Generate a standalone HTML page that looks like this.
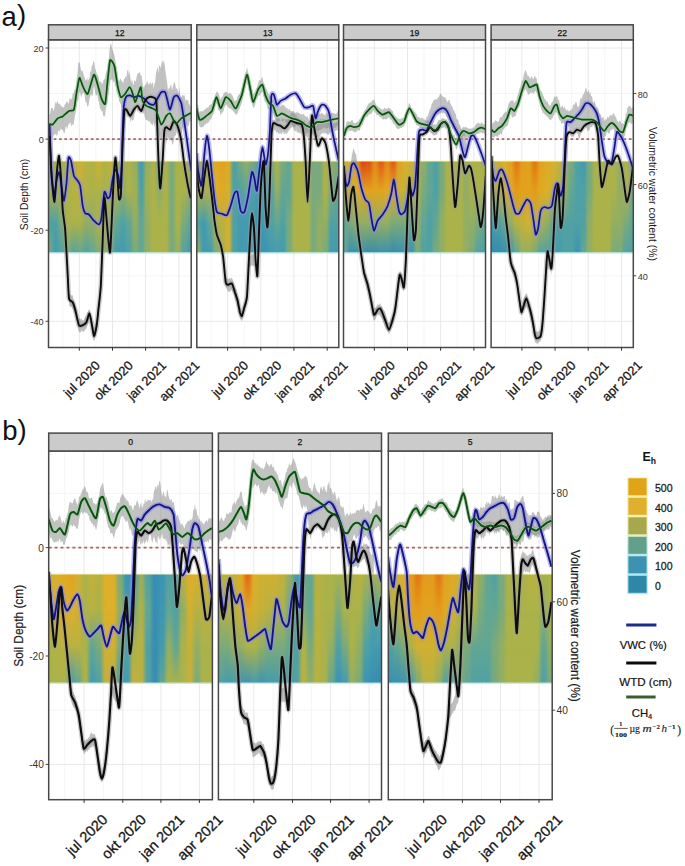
<!DOCTYPE html>
<html lang="en"><head><meta charset="utf-8"><title>Figure</title>
<style>
html,body{margin:0;padding:0;background:#fff;}
body{width:685px;height:866px;overflow:hidden;}
svg{display:block;font-family:"Liberation Sans", sans-serif;}
</style></head><body>
<svg width="685" height="866" viewBox="0 0 685 866">
<defs>
<linearGradient id="mg1" x1="0" y1="0" x2="0" y2="1"><stop offset="0.0000" stop-color="#000"/><stop offset="0.3333" stop-color="#fff"/></linearGradient>
<mask id="mk1" maskContentUnits="objectBoundingBox" x="0" y="0" width="1" height="1"><rect x="0" y="0" width="1" height="1" fill="url(#mg1)"/></mask>
<linearGradient id="mg2" x1="0" y1="0" x2="0" y2="1"><stop offset="0.3333" stop-color="#000"/><stop offset="0.6667" stop-color="#fff"/></linearGradient>
<mask id="mk2" maskContentUnits="objectBoundingBox" x="0" y="0" width="1" height="1"><rect x="0" y="0" width="1" height="1" fill="url(#mg2)"/></mask>
<linearGradient id="mg3" x1="0" y1="0" x2="0" y2="1"><stop offset="0.6667" stop-color="#000"/><stop offset="1.0000" stop-color="#fff"/></linearGradient>
<mask id="mk3" maskContentUnits="objectBoundingBox" x="0" y="0" width="1" height="1"><rect x="0" y="0" width="1" height="1" fill="url(#mg3)"/></mask>
<filter id="bl" x="-5%" y="-5%" width="110%" height="110%"><feGaussianBlur stdDeviation="0.55"/></filter>
<filter id="bl2" x="-5%" y="-5%" width="110%" height="110%"><feGaussianBlur stdDeviation="0.45"/></filter>
<clipPath id="c_a1"><rect x="48.5" y="39.8" width="142.7" height="307.7"/></clipPath>
<clipPath id="h_a1"><rect x="48.5" y="161.3" width="142.7" height="91.3"/></clipPath>
<linearGradient id="g_a1_0" x1="0" y1="0" x2="1" y2="0"><stop offset="0.0133" stop-color="#b8b142"/><stop offset="0.0283" stop-color="#b8b142"/><stop offset="0.0550" stop-color="#abb24a"/><stop offset="0.0700" stop-color="#abb24a"/><stop offset="0.0967" stop-color="#abb24a"/><stop offset="0.1117" stop-color="#abb24a"/><stop offset="0.1383" stop-color="#abb24a"/><stop offset="0.1533" stop-color="#abb24a"/><stop offset="0.1800" stop-color="#b8b142"/><stop offset="0.1950" stop-color="#b8b142"/><stop offset="0.2217" stop-color="#d0b032"/><stop offset="0.2367" stop-color="#d0b032"/><stop offset="0.2633" stop-color="#b8b142"/><stop offset="0.2783" stop-color="#b8b142"/><stop offset="0.3050" stop-color="#b0b247"/><stop offset="0.3200" stop-color="#b0b247"/><stop offset="0.3467" stop-color="#d0b032"/><stop offset="0.3617" stop-color="#d0b032"/><stop offset="0.3883" stop-color="#b0b247"/><stop offset="0.4033" stop-color="#b0b247"/><stop offset="0.4300" stop-color="#c4b03a"/><stop offset="0.4450" stop-color="#c4b03a"/><stop offset="0.4717" stop-color="#abb24a"/><stop offset="0.4867" stop-color="#abb24a"/><stop offset="0.5133" stop-color="#abb24a"/><stop offset="0.5283" stop-color="#abb24a"/><stop offset="0.5550" stop-color="#abb24a"/><stop offset="0.5700" stop-color="#abb24a"/><stop offset="0.5967" stop-color="#93ae63"/><stop offset="0.6117" stop-color="#93ae63"/><stop offset="0.6383" stop-color="#439bb0"/><stop offset="0.6533" stop-color="#439bb0"/><stop offset="0.6800" stop-color="#93ae63"/><stop offset="0.6950" stop-color="#93ae63"/><stop offset="0.7217" stop-color="#abb24a"/><stop offset="0.7367" stop-color="#abb24a"/><stop offset="0.7633" stop-color="#62a694"/><stop offset="0.7783" stop-color="#62a694"/><stop offset="0.8050" stop-color="#abb24a"/><stop offset="0.8200" stop-color="#abb24a"/><stop offset="0.8467" stop-color="#7aaa7b"/><stop offset="0.8617" stop-color="#7aaa7b"/><stop offset="0.8883" stop-color="#abb24a"/><stop offset="0.9033" stop-color="#abb24a"/><stop offset="0.9300" stop-color="#abb24a"/><stop offset="0.9450" stop-color="#abb24a"/><stop offset="0.9717" stop-color="#abb24a"/><stop offset="0.9867" stop-color="#abb24a"/></linearGradient>
<linearGradient id="g_a1_1" x1="0" y1="0" x2="1" y2="0"><stop offset="0.0133" stop-color="#abb24a"/><stop offset="0.0283" stop-color="#abb24a"/><stop offset="0.0550" stop-color="#abb24a"/><stop offset="0.0700" stop-color="#abb24a"/><stop offset="0.0967" stop-color="#abb24a"/><stop offset="0.1117" stop-color="#abb24a"/><stop offset="0.1383" stop-color="#abb24a"/><stop offset="0.1533" stop-color="#abb24a"/><stop offset="0.1800" stop-color="#b8b142"/><stop offset="0.1950" stop-color="#b8b142"/><stop offset="0.2217" stop-color="#bfb13d"/><stop offset="0.2367" stop-color="#bfb13d"/><stop offset="0.2633" stop-color="#b0b247"/><stop offset="0.2783" stop-color="#b0b247"/><stop offset="0.3050" stop-color="#abb24a"/><stop offset="0.3200" stop-color="#abb24a"/><stop offset="0.3467" stop-color="#abb24a"/><stop offset="0.3617" stop-color="#abb24a"/><stop offset="0.3883" stop-color="#abb24a"/><stop offset="0.4033" stop-color="#abb24a"/><stop offset="0.4300" stop-color="#abb24a"/><stop offset="0.4450" stop-color="#abb24a"/><stop offset="0.4717" stop-color="#abb24a"/><stop offset="0.4867" stop-color="#abb24a"/><stop offset="0.5133" stop-color="#93ae63"/><stop offset="0.5283" stop-color="#93ae63"/><stop offset="0.5550" stop-color="#abb24a"/><stop offset="0.5700" stop-color="#abb24a"/><stop offset="0.5967" stop-color="#a1b054"/><stop offset="0.6117" stop-color="#a1b054"/><stop offset="0.6383" stop-color="#50a1a4"/><stop offset="0.6533" stop-color="#50a1a4"/><stop offset="0.6800" stop-color="#a1b054"/><stop offset="0.6950" stop-color="#a1b054"/><stop offset="0.7217" stop-color="#abb24a"/><stop offset="0.7367" stop-color="#abb24a"/><stop offset="0.7633" stop-color="#93ae63"/><stop offset="0.7783" stop-color="#93ae63"/><stop offset="0.8050" stop-color="#abb24a"/><stop offset="0.8200" stop-color="#abb24a"/><stop offset="0.8467" stop-color="#7aaa7b"/><stop offset="0.8617" stop-color="#7aaa7b"/><stop offset="0.8883" stop-color="#abb24a"/><stop offset="0.9033" stop-color="#abb24a"/><stop offset="0.9300" stop-color="#abb24a"/><stop offset="0.9450" stop-color="#abb24a"/><stop offset="0.9717" stop-color="#93ae63"/><stop offset="0.9867" stop-color="#93ae63"/></linearGradient>
<linearGradient id="g_a1_2" x1="0" y1="0" x2="1" y2="0"><stop offset="0.0133" stop-color="#50a1a4"/><stop offset="0.0283" stop-color="#50a1a4"/><stop offset="0.0550" stop-color="#50a1a4"/><stop offset="0.0700" stop-color="#50a1a4"/><stop offset="0.0967" stop-color="#7aaa7b"/><stop offset="0.1117" stop-color="#7aaa7b"/><stop offset="0.1383" stop-color="#abb24a"/><stop offset="0.1533" stop-color="#abb24a"/><stop offset="0.1800" stop-color="#abb24a"/><stop offset="0.1950" stop-color="#abb24a"/><stop offset="0.2217" stop-color="#abb24a"/><stop offset="0.2367" stop-color="#abb24a"/><stop offset="0.2633" stop-color="#93ae63"/><stop offset="0.2783" stop-color="#93ae63"/><stop offset="0.3050" stop-color="#93ae63"/><stop offset="0.3200" stop-color="#93ae63"/><stop offset="0.3467" stop-color="#abb24a"/><stop offset="0.3617" stop-color="#abb24a"/><stop offset="0.3883" stop-color="#abb24a"/><stop offset="0.4033" stop-color="#abb24a"/><stop offset="0.4300" stop-color="#93ae63"/><stop offset="0.4450" stop-color="#93ae63"/><stop offset="0.4717" stop-color="#62a694"/><stop offset="0.4867" stop-color="#62a694"/><stop offset="0.5133" stop-color="#50a1a4"/><stop offset="0.5283" stop-color="#50a1a4"/><stop offset="0.5550" stop-color="#62a694"/><stop offset="0.5700" stop-color="#62a694"/><stop offset="0.5967" stop-color="#93ae63"/><stop offset="0.6117" stop-color="#93ae63"/><stop offset="0.6383" stop-color="#62a694"/><stop offset="0.6533" stop-color="#62a694"/><stop offset="0.6800" stop-color="#93ae63"/><stop offset="0.6950" stop-color="#93ae63"/><stop offset="0.7217" stop-color="#abb24a"/><stop offset="0.7367" stop-color="#abb24a"/><stop offset="0.7633" stop-color="#abb24a"/><stop offset="0.7783" stop-color="#abb24a"/><stop offset="0.8050" stop-color="#abb24a"/><stop offset="0.8200" stop-color="#abb24a"/><stop offset="0.8467" stop-color="#7aaa7b"/><stop offset="0.8617" stop-color="#7aaa7b"/><stop offset="0.8883" stop-color="#abb24a"/><stop offset="0.9033" stop-color="#abb24a"/><stop offset="0.9300" stop-color="#7aaa7b"/><stop offset="0.9450" stop-color="#7aaa7b"/><stop offset="0.9717" stop-color="#62a694"/><stop offset="0.9867" stop-color="#62a694"/></linearGradient>
<linearGradient id="g_a1_3" x1="0" y1="0" x2="1" y2="0"><stop offset="0.0133" stop-color="#7aaa7b"/><stop offset="0.0283" stop-color="#7aaa7b"/><stop offset="0.0550" stop-color="#439bb0"/><stop offset="0.0700" stop-color="#439bb0"/><stop offset="0.0967" stop-color="#50a1a4"/><stop offset="0.1117" stop-color="#50a1a4"/><stop offset="0.1383" stop-color="#7aaa7b"/><stop offset="0.1533" stop-color="#7aaa7b"/><stop offset="0.1800" stop-color="#50a1a4"/><stop offset="0.1950" stop-color="#50a1a4"/><stop offset="0.2217" stop-color="#62a694"/><stop offset="0.2367" stop-color="#62a694"/><stop offset="0.2633" stop-color="#50a1a4"/><stop offset="0.2783" stop-color="#50a1a4"/><stop offset="0.3050" stop-color="#62a694"/><stop offset="0.3200" stop-color="#62a694"/><stop offset="0.3467" stop-color="#7aaa7b"/><stop offset="0.3617" stop-color="#7aaa7b"/><stop offset="0.3883" stop-color="#93ae63"/><stop offset="0.4033" stop-color="#93ae63"/><stop offset="0.4300" stop-color="#62a694"/><stop offset="0.4450" stop-color="#62a694"/><stop offset="0.4717" stop-color="#439bb0"/><stop offset="0.4867" stop-color="#439bb0"/><stop offset="0.5133" stop-color="#439bb0"/><stop offset="0.5283" stop-color="#439bb0"/><stop offset="0.5550" stop-color="#50a1a4"/><stop offset="0.5700" stop-color="#50a1a4"/><stop offset="0.5967" stop-color="#7aaa7b"/><stop offset="0.6117" stop-color="#7aaa7b"/><stop offset="0.6383" stop-color="#62a694"/><stop offset="0.6533" stop-color="#62a694"/><stop offset="0.6800" stop-color="#93ae63"/><stop offset="0.6950" stop-color="#93ae63"/><stop offset="0.7217" stop-color="#abb24a"/><stop offset="0.7367" stop-color="#abb24a"/><stop offset="0.7633" stop-color="#abb24a"/><stop offset="0.7783" stop-color="#abb24a"/><stop offset="0.8050" stop-color="#abb24a"/><stop offset="0.8200" stop-color="#abb24a"/><stop offset="0.8467" stop-color="#7aaa7b"/><stop offset="0.8617" stop-color="#7aaa7b"/><stop offset="0.8883" stop-color="#93ae63"/><stop offset="0.9033" stop-color="#93ae63"/><stop offset="0.9300" stop-color="#50a1a4"/><stop offset="0.9450" stop-color="#50a1a4"/><stop offset="0.9717" stop-color="#439bb0"/><stop offset="0.9867" stop-color="#439bb0"/></linearGradient>
<clipPath id="c_a2"><rect x="196.8" y="39.8" width="142.0" height="307.7"/></clipPath>
<clipPath id="h_a2"><rect x="196.8" y="161.3" width="142.0" height="91.3"/></clipPath>
<linearGradient id="g_a2_0" x1="0" y1="0" x2="1" y2="0"><stop offset="0.0133" stop-color="#abb24a"/><stop offset="0.0283" stop-color="#abb24a"/><stop offset="0.0550" stop-color="#abb24a"/><stop offset="0.0700" stop-color="#abb24a"/><stop offset="0.0967" stop-color="#b8b142"/><stop offset="0.1117" stop-color="#b8b142"/><stop offset="0.1383" stop-color="#dfa924"/><stop offset="0.1533" stop-color="#dfa924"/><stop offset="0.1800" stop-color="#e1a21f"/><stop offset="0.1950" stop-color="#e1a21f"/><stop offset="0.2217" stop-color="#dfa924"/><stop offset="0.2367" stop-color="#dfa924"/><stop offset="0.2633" stop-color="#50a1a4"/><stop offset="0.2783" stop-color="#50a1a4"/><stop offset="0.3050" stop-color="#7aaa7b"/><stop offset="0.3200" stop-color="#7aaa7b"/><stop offset="0.3467" stop-color="#93ae63"/><stop offset="0.3617" stop-color="#93ae63"/><stop offset="0.3883" stop-color="#7aaa7b"/><stop offset="0.4033" stop-color="#7aaa7b"/><stop offset="0.4300" stop-color="#50a1a4"/><stop offset="0.4450" stop-color="#50a1a4"/><stop offset="0.4717" stop-color="#50a1a4"/><stop offset="0.4867" stop-color="#50a1a4"/><stop offset="0.5133" stop-color="#7aaa7b"/><stop offset="0.5283" stop-color="#7aaa7b"/><stop offset="0.5550" stop-color="#abb24a"/><stop offset="0.5700" stop-color="#abb24a"/><stop offset="0.5967" stop-color="#7aaa7b"/><stop offset="0.6117" stop-color="#7aaa7b"/><stop offset="0.6383" stop-color="#62a694"/><stop offset="0.6533" stop-color="#62a694"/><stop offset="0.6800" stop-color="#abb24a"/><stop offset="0.6950" stop-color="#abb24a"/><stop offset="0.7217" stop-color="#abb24a"/><stop offset="0.7367" stop-color="#abb24a"/><stop offset="0.7633" stop-color="#abb24a"/><stop offset="0.7783" stop-color="#abb24a"/><stop offset="0.8050" stop-color="#7aaa7b"/><stop offset="0.8200" stop-color="#7aaa7b"/><stop offset="0.8467" stop-color="#7aaa7b"/><stop offset="0.8617" stop-color="#7aaa7b"/><stop offset="0.8883" stop-color="#abb24a"/><stop offset="0.9033" stop-color="#abb24a"/><stop offset="0.9300" stop-color="#93ae63"/><stop offset="0.9450" stop-color="#93ae63"/><stop offset="0.9717" stop-color="#7aaa7b"/><stop offset="0.9867" stop-color="#7aaa7b"/></linearGradient>
<linearGradient id="g_a2_1" x1="0" y1="0" x2="1" y2="0"><stop offset="0.0133" stop-color="#abb24a"/><stop offset="0.0283" stop-color="#abb24a"/><stop offset="0.0550" stop-color="#abb24a"/><stop offset="0.0700" stop-color="#abb24a"/><stop offset="0.0967" stop-color="#abb24a"/><stop offset="0.1117" stop-color="#abb24a"/><stop offset="0.1383" stop-color="#ddaf2a"/><stop offset="0.1533" stop-color="#ddaf2a"/><stop offset="0.1800" stop-color="#dfa924"/><stop offset="0.1950" stop-color="#dfa924"/><stop offset="0.2217" stop-color="#d0b032"/><stop offset="0.2367" stop-color="#d0b032"/><stop offset="0.2633" stop-color="#50a1a4"/><stop offset="0.2783" stop-color="#50a1a4"/><stop offset="0.3050" stop-color="#50a1a4"/><stop offset="0.3200" stop-color="#50a1a4"/><stop offset="0.3467" stop-color="#62a694"/><stop offset="0.3617" stop-color="#62a694"/><stop offset="0.3883" stop-color="#50a1a4"/><stop offset="0.4033" stop-color="#50a1a4"/><stop offset="0.4300" stop-color="#439bb0"/><stop offset="0.4450" stop-color="#439bb0"/><stop offset="0.4717" stop-color="#439bb0"/><stop offset="0.4867" stop-color="#439bb0"/><stop offset="0.5133" stop-color="#50a1a4"/><stop offset="0.5283" stop-color="#50a1a4"/><stop offset="0.5550" stop-color="#93ae63"/><stop offset="0.5700" stop-color="#93ae63"/><stop offset="0.5967" stop-color="#62a694"/><stop offset="0.6117" stop-color="#62a694"/><stop offset="0.6383" stop-color="#62a694"/><stop offset="0.6533" stop-color="#62a694"/><stop offset="0.6800" stop-color="#abb24a"/><stop offset="0.6950" stop-color="#abb24a"/><stop offset="0.7217" stop-color="#abb24a"/><stop offset="0.7367" stop-color="#abb24a"/><stop offset="0.7633" stop-color="#abb24a"/><stop offset="0.7783" stop-color="#abb24a"/><stop offset="0.8050" stop-color="#7aaa7b"/><stop offset="0.8200" stop-color="#7aaa7b"/><stop offset="0.8467" stop-color="#7aaa7b"/><stop offset="0.8617" stop-color="#7aaa7b"/><stop offset="0.8883" stop-color="#abb24a"/><stop offset="0.9033" stop-color="#abb24a"/><stop offset="0.9300" stop-color="#7aaa7b"/><stop offset="0.9450" stop-color="#7aaa7b"/><stop offset="0.9717" stop-color="#62a694"/><stop offset="0.9867" stop-color="#62a694"/></linearGradient>
<linearGradient id="g_a2_2" x1="0" y1="0" x2="1" y2="0"><stop offset="0.0133" stop-color="#50a1a4"/><stop offset="0.0283" stop-color="#50a1a4"/><stop offset="0.0550" stop-color="#439bb0"/><stop offset="0.0700" stop-color="#439bb0"/><stop offset="0.0967" stop-color="#62a694"/><stop offset="0.1117" stop-color="#62a694"/><stop offset="0.1383" stop-color="#abb24a"/><stop offset="0.1533" stop-color="#abb24a"/><stop offset="0.1800" stop-color="#b8b142"/><stop offset="0.1950" stop-color="#b8b142"/><stop offset="0.2217" stop-color="#d0b032"/><stop offset="0.2367" stop-color="#d0b032"/><stop offset="0.2633" stop-color="#50a1a4"/><stop offset="0.2783" stop-color="#50a1a4"/><stop offset="0.3050" stop-color="#439bb0"/><stop offset="0.3200" stop-color="#439bb0"/><stop offset="0.3467" stop-color="#439bb0"/><stop offset="0.3617" stop-color="#439bb0"/><stop offset="0.3883" stop-color="#439bb0"/><stop offset="0.4033" stop-color="#439bb0"/><stop offset="0.4300" stop-color="#3b93b3"/><stop offset="0.4450" stop-color="#3b93b3"/><stop offset="0.4717" stop-color="#439bb0"/><stop offset="0.4867" stop-color="#439bb0"/><stop offset="0.5133" stop-color="#50a1a4"/><stop offset="0.5283" stop-color="#50a1a4"/><stop offset="0.5550" stop-color="#62a694"/><stop offset="0.5700" stop-color="#62a694"/><stop offset="0.5967" stop-color="#50a1a4"/><stop offset="0.6117" stop-color="#50a1a4"/><stop offset="0.6383" stop-color="#7aaa7b"/><stop offset="0.6533" stop-color="#7aaa7b"/><stop offset="0.6800" stop-color="#abb24a"/><stop offset="0.6950" stop-color="#abb24a"/><stop offset="0.7217" stop-color="#abb24a"/><stop offset="0.7367" stop-color="#abb24a"/><stop offset="0.7633" stop-color="#abb24a"/><stop offset="0.7783" stop-color="#abb24a"/><stop offset="0.8050" stop-color="#7aaa7b"/><stop offset="0.8200" stop-color="#7aaa7b"/><stop offset="0.8467" stop-color="#93ae63"/><stop offset="0.8617" stop-color="#93ae63"/><stop offset="0.8883" stop-color="#93ae63"/><stop offset="0.9033" stop-color="#93ae63"/><stop offset="0.9300" stop-color="#50a1a4"/><stop offset="0.9450" stop-color="#50a1a4"/><stop offset="0.9717" stop-color="#50a1a4"/><stop offset="0.9867" stop-color="#50a1a4"/></linearGradient>
<linearGradient id="g_a2_3" x1="0" y1="0" x2="1" y2="0"><stop offset="0.0133" stop-color="#93ae63"/><stop offset="0.0283" stop-color="#93ae63"/><stop offset="0.0550" stop-color="#439bb0"/><stop offset="0.0700" stop-color="#439bb0"/><stop offset="0.0967" stop-color="#439bb0"/><stop offset="0.1117" stop-color="#439bb0"/><stop offset="0.1383" stop-color="#7aaa7b"/><stop offset="0.1533" stop-color="#7aaa7b"/><stop offset="0.1800" stop-color="#abb24a"/><stop offset="0.1950" stop-color="#abb24a"/><stop offset="0.2217" stop-color="#d0b032"/><stop offset="0.2367" stop-color="#d0b032"/><stop offset="0.2633" stop-color="#50a1a4"/><stop offset="0.2783" stop-color="#50a1a4"/><stop offset="0.3050" stop-color="#439bb0"/><stop offset="0.3200" stop-color="#439bb0"/><stop offset="0.3467" stop-color="#439bb0"/><stop offset="0.3617" stop-color="#439bb0"/><stop offset="0.3883" stop-color="#439bb0"/><stop offset="0.4033" stop-color="#439bb0"/><stop offset="0.4300" stop-color="#3b93b3"/><stop offset="0.4450" stop-color="#3b93b3"/><stop offset="0.4717" stop-color="#3b93b3"/><stop offset="0.4867" stop-color="#3b93b3"/><stop offset="0.5133" stop-color="#439bb0"/><stop offset="0.5283" stop-color="#439bb0"/><stop offset="0.5550" stop-color="#439bb0"/><stop offset="0.5700" stop-color="#439bb0"/><stop offset="0.5967" stop-color="#439bb0"/><stop offset="0.6117" stop-color="#439bb0"/><stop offset="0.6383" stop-color="#7aaa7b"/><stop offset="0.6533" stop-color="#7aaa7b"/><stop offset="0.6800" stop-color="#abb24a"/><stop offset="0.6950" stop-color="#abb24a"/><stop offset="0.7217" stop-color="#abb24a"/><stop offset="0.7367" stop-color="#abb24a"/><stop offset="0.7633" stop-color="#abb24a"/><stop offset="0.7783" stop-color="#abb24a"/><stop offset="0.8050" stop-color="#7aaa7b"/><stop offset="0.8200" stop-color="#7aaa7b"/><stop offset="0.8467" stop-color="#93ae63"/><stop offset="0.8617" stop-color="#93ae63"/><stop offset="0.8883" stop-color="#7aaa7b"/><stop offset="0.9033" stop-color="#7aaa7b"/><stop offset="0.9300" stop-color="#439bb0"/><stop offset="0.9450" stop-color="#439bb0"/><stop offset="0.9717" stop-color="#439bb0"/><stop offset="0.9867" stop-color="#439bb0"/></linearGradient>
<clipPath id="c_a3"><rect x="343.5" y="39.8" width="142.0" height="307.7"/></clipPath>
<clipPath id="h_a3"><rect x="343.5" y="161.3" width="142.0" height="91.3"/></clipPath>
<linearGradient id="g_a3_0" x1="0" y1="0" x2="1" y2="0"><stop offset="0.0133" stop-color="#c4b03a"/><stop offset="0.0283" stop-color="#c4b03a"/><stop offset="0.0550" stop-color="#ddaf2a"/><stop offset="0.0700" stop-color="#ddaf2a"/><stop offset="0.0967" stop-color="#e59614"/><stop offset="0.1117" stop-color="#e59614"/><stop offset="0.1383" stop-color="#dd3e14"/><stop offset="0.1533" stop-color="#dd3e14"/><stop offset="0.1800" stop-color="#e04916"/><stop offset="0.1950" stop-color="#e04916"/><stop offset="0.2217" stop-color="#e58615"/><stop offset="0.2367" stop-color="#e58615"/><stop offset="0.2633" stop-color="#e45418"/><stop offset="0.2783" stop-color="#e45418"/><stop offset="0.3050" stop-color="#e58615"/><stop offset="0.3200" stop-color="#e58615"/><stop offset="0.3467" stop-color="#e45418"/><stop offset="0.3617" stop-color="#e45418"/><stop offset="0.3883" stop-color="#e1a21f"/><stop offset="0.4033" stop-color="#e1a21f"/><stop offset="0.4300" stop-color="#ddaf2a"/><stop offset="0.4450" stop-color="#ddaf2a"/><stop offset="0.4717" stop-color="#d0b032"/><stop offset="0.4867" stop-color="#d0b032"/><stop offset="0.5133" stop-color="#abb24a"/><stop offset="0.5283" stop-color="#abb24a"/><stop offset="0.5550" stop-color="#93ae63"/><stop offset="0.5700" stop-color="#93ae63"/><stop offset="0.5967" stop-color="#62a694"/><stop offset="0.6117" stop-color="#62a694"/><stop offset="0.6383" stop-color="#50a1a4"/><stop offset="0.6533" stop-color="#50a1a4"/><stop offset="0.6800" stop-color="#7aaa7b"/><stop offset="0.6950" stop-color="#7aaa7b"/><stop offset="0.7217" stop-color="#abb24a"/><stop offset="0.7367" stop-color="#abb24a"/><stop offset="0.7633" stop-color="#abb24a"/><stop offset="0.7783" stop-color="#abb24a"/><stop offset="0.8050" stop-color="#abb24a"/><stop offset="0.8200" stop-color="#abb24a"/><stop offset="0.8467" stop-color="#93ae63"/><stop offset="0.8617" stop-color="#93ae63"/><stop offset="0.8883" stop-color="#abb24a"/><stop offset="0.9033" stop-color="#abb24a"/><stop offset="0.9300" stop-color="#abb24a"/><stop offset="0.9450" stop-color="#abb24a"/><stop offset="0.9717" stop-color="#abb24a"/><stop offset="0.9867" stop-color="#abb24a"/></linearGradient>
<linearGradient id="g_a3_1" x1="0" y1="0" x2="1" y2="0"><stop offset="0.0133" stop-color="#b8b142"/><stop offset="0.0283" stop-color="#b8b142"/><stop offset="0.0550" stop-color="#c4b03a"/><stop offset="0.0700" stop-color="#c4b03a"/><stop offset="0.0967" stop-color="#ddaf2a"/><stop offset="0.1117" stop-color="#ddaf2a"/><stop offset="0.1383" stop-color="#e0a521"/><stop offset="0.1533" stop-color="#e0a521"/><stop offset="0.1800" stop-color="#e1a21f"/><stop offset="0.1950" stop-color="#e1a21f"/><stop offset="0.2217" stop-color="#e0a521"/><stop offset="0.2367" stop-color="#e0a521"/><stop offset="0.2633" stop-color="#e0a521"/><stop offset="0.2783" stop-color="#e0a521"/><stop offset="0.3050" stop-color="#dfa924"/><stop offset="0.3200" stop-color="#dfa924"/><stop offset="0.3467" stop-color="#dfa924"/><stop offset="0.3617" stop-color="#dfa924"/><stop offset="0.3883" stop-color="#d0b032"/><stop offset="0.4033" stop-color="#d0b032"/><stop offset="0.4300" stop-color="#bfb13d"/><stop offset="0.4450" stop-color="#bfb13d"/><stop offset="0.4717" stop-color="#b2b245"/><stop offset="0.4867" stop-color="#b2b245"/><stop offset="0.5133" stop-color="#abb24a"/><stop offset="0.5283" stop-color="#abb24a"/><stop offset="0.5550" stop-color="#7aaa7b"/><stop offset="0.5700" stop-color="#7aaa7b"/><stop offset="0.5967" stop-color="#62a694"/><stop offset="0.6117" stop-color="#62a694"/><stop offset="0.6383" stop-color="#50a1a4"/><stop offset="0.6533" stop-color="#50a1a4"/><stop offset="0.6800" stop-color="#7aaa7b"/><stop offset="0.6950" stop-color="#7aaa7b"/><stop offset="0.7217" stop-color="#abb24a"/><stop offset="0.7367" stop-color="#abb24a"/><stop offset="0.7633" stop-color="#abb24a"/><stop offset="0.7783" stop-color="#abb24a"/><stop offset="0.8050" stop-color="#abb24a"/><stop offset="0.8200" stop-color="#abb24a"/><stop offset="0.8467" stop-color="#93ae63"/><stop offset="0.8617" stop-color="#93ae63"/><stop offset="0.8883" stop-color="#abb24a"/><stop offset="0.9033" stop-color="#abb24a"/><stop offset="0.9300" stop-color="#abb24a"/><stop offset="0.9450" stop-color="#abb24a"/><stop offset="0.9717" stop-color="#abb24a"/><stop offset="0.9867" stop-color="#abb24a"/></linearGradient>
<linearGradient id="g_a3_2" x1="0" y1="0" x2="1" y2="0"><stop offset="0.0133" stop-color="#62a694"/><stop offset="0.0283" stop-color="#62a694"/><stop offset="0.0550" stop-color="#7aaa7b"/><stop offset="0.0700" stop-color="#7aaa7b"/><stop offset="0.0967" stop-color="#93ae63"/><stop offset="0.1117" stop-color="#93ae63"/><stop offset="0.1383" stop-color="#93ae63"/><stop offset="0.1533" stop-color="#93ae63"/><stop offset="0.1800" stop-color="#93ae63"/><stop offset="0.1950" stop-color="#93ae63"/><stop offset="0.2217" stop-color="#93ae63"/><stop offset="0.2367" stop-color="#93ae63"/><stop offset="0.2633" stop-color="#93ae63"/><stop offset="0.2783" stop-color="#93ae63"/><stop offset="0.3050" stop-color="#93ae63"/><stop offset="0.3200" stop-color="#93ae63"/><stop offset="0.3467" stop-color="#7aaa7b"/><stop offset="0.3617" stop-color="#7aaa7b"/><stop offset="0.3883" stop-color="#7aaa7b"/><stop offset="0.4033" stop-color="#7aaa7b"/><stop offset="0.4300" stop-color="#7aaa7b"/><stop offset="0.4450" stop-color="#7aaa7b"/><stop offset="0.4717" stop-color="#62a694"/><stop offset="0.4867" stop-color="#62a694"/><stop offset="0.5133" stop-color="#93ae63"/><stop offset="0.5283" stop-color="#93ae63"/><stop offset="0.5550" stop-color="#62a694"/><stop offset="0.5700" stop-color="#62a694"/><stop offset="0.5967" stop-color="#50a1a4"/><stop offset="0.6117" stop-color="#50a1a4"/><stop offset="0.6383" stop-color="#62a694"/><stop offset="0.6533" stop-color="#62a694"/><stop offset="0.6800" stop-color="#93ae63"/><stop offset="0.6950" stop-color="#93ae63"/><stop offset="0.7217" stop-color="#abb24a"/><stop offset="0.7367" stop-color="#abb24a"/><stop offset="0.7633" stop-color="#abb24a"/><stop offset="0.7783" stop-color="#abb24a"/><stop offset="0.8050" stop-color="#abb24a"/><stop offset="0.8200" stop-color="#abb24a"/><stop offset="0.8467" stop-color="#93ae63"/><stop offset="0.8617" stop-color="#93ae63"/><stop offset="0.8883" stop-color="#93ae63"/><stop offset="0.9033" stop-color="#93ae63"/><stop offset="0.9300" stop-color="#7aaa7b"/><stop offset="0.9450" stop-color="#7aaa7b"/><stop offset="0.9717" stop-color="#62a694"/><stop offset="0.9867" stop-color="#62a694"/></linearGradient>
<linearGradient id="g_a3_3" x1="0" y1="0" x2="1" y2="0"><stop offset="0.0133" stop-color="#62a694"/><stop offset="0.0283" stop-color="#62a694"/><stop offset="0.0550" stop-color="#378fb1"/><stop offset="0.0700" stop-color="#378fb1"/><stop offset="0.0967" stop-color="#378fb1"/><stop offset="0.1117" stop-color="#378fb1"/><stop offset="0.1383" stop-color="#378fb1"/><stop offset="0.1533" stop-color="#378fb1"/><stop offset="0.1800" stop-color="#338bad"/><stop offset="0.1950" stop-color="#338bad"/><stop offset="0.2217" stop-color="#338bad"/><stop offset="0.2367" stop-color="#338bad"/><stop offset="0.2633" stop-color="#378fb1"/><stop offset="0.2783" stop-color="#378fb1"/><stop offset="0.3050" stop-color="#378fb1"/><stop offset="0.3200" stop-color="#378fb1"/><stop offset="0.3467" stop-color="#338bad"/><stop offset="0.3617" stop-color="#338bad"/><stop offset="0.3883" stop-color="#378fb1"/><stop offset="0.4033" stop-color="#378fb1"/><stop offset="0.4300" stop-color="#378fb1"/><stop offset="0.4450" stop-color="#378fb1"/><stop offset="0.4717" stop-color="#3b93b3"/><stop offset="0.4867" stop-color="#3b93b3"/><stop offset="0.5133" stop-color="#7aaa7b"/><stop offset="0.5283" stop-color="#7aaa7b"/><stop offset="0.5550" stop-color="#50a1a4"/><stop offset="0.5700" stop-color="#50a1a4"/><stop offset="0.5967" stop-color="#50a1a4"/><stop offset="0.6117" stop-color="#50a1a4"/><stop offset="0.6383" stop-color="#7aaa7b"/><stop offset="0.6533" stop-color="#7aaa7b"/><stop offset="0.6800" stop-color="#93ae63"/><stop offset="0.6950" stop-color="#93ae63"/><stop offset="0.7217" stop-color="#abb24a"/><stop offset="0.7367" stop-color="#abb24a"/><stop offset="0.7633" stop-color="#abb24a"/><stop offset="0.7783" stop-color="#abb24a"/><stop offset="0.8050" stop-color="#abb24a"/><stop offset="0.8200" stop-color="#abb24a"/><stop offset="0.8467" stop-color="#93ae63"/><stop offset="0.8617" stop-color="#93ae63"/><stop offset="0.8883" stop-color="#7aaa7b"/><stop offset="0.9033" stop-color="#7aaa7b"/><stop offset="0.9300" stop-color="#50a1a4"/><stop offset="0.9450" stop-color="#50a1a4"/><stop offset="0.9717" stop-color="#50a1a4"/><stop offset="0.9867" stop-color="#50a1a4"/></linearGradient>
<clipPath id="c_a4"><rect x="491.1" y="39.8" width="142.2" height="307.7"/></clipPath>
<clipPath id="h_a4"><rect x="491.1" y="161.3" width="142.2" height="91.3"/></clipPath>
<linearGradient id="g_a4_0" x1="0" y1="0" x2="1" y2="0"><stop offset="0.0133" stop-color="#b8b142"/><stop offset="0.0283" stop-color="#b8b142"/><stop offset="0.0550" stop-color="#c4b03a"/><stop offset="0.0700" stop-color="#c4b03a"/><stop offset="0.0967" stop-color="#ddaf2a"/><stop offset="0.1117" stop-color="#ddaf2a"/><stop offset="0.1383" stop-color="#e1a21f"/><stop offset="0.1533" stop-color="#e1a21f"/><stop offset="0.1800" stop-color="#e47516"/><stop offset="0.1950" stop-color="#e47516"/><stop offset="0.2217" stop-color="#e39c1a"/><stop offset="0.2367" stop-color="#e39c1a"/><stop offset="0.2633" stop-color="#e1a21f"/><stop offset="0.2783" stop-color="#e1a21f"/><stop offset="0.3050" stop-color="#e47516"/><stop offset="0.3200" stop-color="#e47516"/><stop offset="0.3467" stop-color="#e1a21f"/><stop offset="0.3617" stop-color="#e1a21f"/><stop offset="0.3883" stop-color="#dfa924"/><stop offset="0.4033" stop-color="#dfa924"/><stop offset="0.4300" stop-color="#ddaf2a"/><stop offset="0.4450" stop-color="#ddaf2a"/><stop offset="0.4717" stop-color="#c4b03a"/><stop offset="0.4867" stop-color="#c4b03a"/><stop offset="0.5133" stop-color="#abb24a"/><stop offset="0.5283" stop-color="#abb24a"/><stop offset="0.5550" stop-color="#7aaa7b"/><stop offset="0.5700" stop-color="#7aaa7b"/><stop offset="0.5967" stop-color="#50a1a4"/><stop offset="0.6117" stop-color="#50a1a4"/><stop offset="0.6383" stop-color="#439bb0"/><stop offset="0.6533" stop-color="#439bb0"/><stop offset="0.6800" stop-color="#7aaa7b"/><stop offset="0.6950" stop-color="#7aaa7b"/><stop offset="0.7217" stop-color="#abb24a"/><stop offset="0.7367" stop-color="#abb24a"/><stop offset="0.7633" stop-color="#abb24a"/><stop offset="0.7783" stop-color="#abb24a"/><stop offset="0.8050" stop-color="#abb24a"/><stop offset="0.8200" stop-color="#abb24a"/><stop offset="0.8467" stop-color="#abb24a"/><stop offset="0.8617" stop-color="#abb24a"/><stop offset="0.8883" stop-color="#93ae63"/><stop offset="0.9033" stop-color="#93ae63"/><stop offset="0.9300" stop-color="#abb24a"/><stop offset="0.9450" stop-color="#abb24a"/><stop offset="0.9717" stop-color="#93ae63"/><stop offset="0.9867" stop-color="#93ae63"/></linearGradient>
<linearGradient id="g_a4_1" x1="0" y1="0" x2="1" y2="0"><stop offset="0.0133" stop-color="#abb24a"/><stop offset="0.0283" stop-color="#abb24a"/><stop offset="0.0550" stop-color="#b8b142"/><stop offset="0.0700" stop-color="#b8b142"/><stop offset="0.0967" stop-color="#d0b032"/><stop offset="0.1117" stop-color="#d0b032"/><stop offset="0.1383" stop-color="#dfa924"/><stop offset="0.1533" stop-color="#dfa924"/><stop offset="0.1800" stop-color="#e39c1a"/><stop offset="0.1950" stop-color="#e39c1a"/><stop offset="0.2217" stop-color="#e1a21f"/><stop offset="0.2367" stop-color="#e1a21f"/><stop offset="0.2633" stop-color="#e1a21f"/><stop offset="0.2783" stop-color="#e1a21f"/><stop offset="0.3050" stop-color="#e39c1a"/><stop offset="0.3200" stop-color="#e39c1a"/><stop offset="0.3467" stop-color="#dfa924"/><stop offset="0.3617" stop-color="#dfa924"/><stop offset="0.3883" stop-color="#ddaf2a"/><stop offset="0.4033" stop-color="#ddaf2a"/><stop offset="0.4300" stop-color="#c4b03a"/><stop offset="0.4450" stop-color="#c4b03a"/><stop offset="0.4717" stop-color="#abb24a"/><stop offset="0.4867" stop-color="#abb24a"/><stop offset="0.5133" stop-color="#93ae63"/><stop offset="0.5283" stop-color="#93ae63"/><stop offset="0.5550" stop-color="#62a694"/><stop offset="0.5700" stop-color="#62a694"/><stop offset="0.5967" stop-color="#50a1a4"/><stop offset="0.6117" stop-color="#50a1a4"/><stop offset="0.6383" stop-color="#50a1a4"/><stop offset="0.6533" stop-color="#50a1a4"/><stop offset="0.6800" stop-color="#7aaa7b"/><stop offset="0.6950" stop-color="#7aaa7b"/><stop offset="0.7217" stop-color="#abb24a"/><stop offset="0.7367" stop-color="#abb24a"/><stop offset="0.7633" stop-color="#abb24a"/><stop offset="0.7783" stop-color="#abb24a"/><stop offset="0.8050" stop-color="#abb24a"/><stop offset="0.8200" stop-color="#abb24a"/><stop offset="0.8467" stop-color="#abb24a"/><stop offset="0.8617" stop-color="#abb24a"/><stop offset="0.8883" stop-color="#93ae63"/><stop offset="0.9033" stop-color="#93ae63"/><stop offset="0.9300" stop-color="#abb24a"/><stop offset="0.9450" stop-color="#abb24a"/><stop offset="0.9717" stop-color="#7aaa7b"/><stop offset="0.9867" stop-color="#7aaa7b"/></linearGradient>
<linearGradient id="g_a4_2" x1="0" y1="0" x2="1" y2="0"><stop offset="0.0133" stop-color="#439bb0"/><stop offset="0.0283" stop-color="#439bb0"/><stop offset="0.0550" stop-color="#50a1a4"/><stop offset="0.0700" stop-color="#50a1a4"/><stop offset="0.0967" stop-color="#62a694"/><stop offset="0.1117" stop-color="#62a694"/><stop offset="0.1383" stop-color="#93ae63"/><stop offset="0.1533" stop-color="#93ae63"/><stop offset="0.1800" stop-color="#b8b142"/><stop offset="0.1950" stop-color="#b8b142"/><stop offset="0.2217" stop-color="#c4b03a"/><stop offset="0.2367" stop-color="#c4b03a"/><stop offset="0.2633" stop-color="#d0b032"/><stop offset="0.2783" stop-color="#d0b032"/><stop offset="0.3050" stop-color="#c4b03a"/><stop offset="0.3200" stop-color="#c4b03a"/><stop offset="0.3467" stop-color="#abb24a"/><stop offset="0.3617" stop-color="#abb24a"/><stop offset="0.3883" stop-color="#93ae63"/><stop offset="0.4033" stop-color="#93ae63"/><stop offset="0.4300" stop-color="#62a694"/><stop offset="0.4450" stop-color="#62a694"/><stop offset="0.4717" stop-color="#50a1a4"/><stop offset="0.4867" stop-color="#50a1a4"/><stop offset="0.5133" stop-color="#50a1a4"/><stop offset="0.5283" stop-color="#50a1a4"/><stop offset="0.5550" stop-color="#50a1a4"/><stop offset="0.5700" stop-color="#50a1a4"/><stop offset="0.5967" stop-color="#50a1a4"/><stop offset="0.6117" stop-color="#50a1a4"/><stop offset="0.6383" stop-color="#50a1a4"/><stop offset="0.6533" stop-color="#50a1a4"/><stop offset="0.6800" stop-color="#93ae63"/><stop offset="0.6950" stop-color="#93ae63"/><stop offset="0.7217" stop-color="#abb24a"/><stop offset="0.7367" stop-color="#abb24a"/><stop offset="0.7633" stop-color="#abb24a"/><stop offset="0.7783" stop-color="#abb24a"/><stop offset="0.8050" stop-color="#abb24a"/><stop offset="0.8200" stop-color="#abb24a"/><stop offset="0.8467" stop-color="#93ae63"/><stop offset="0.8617" stop-color="#93ae63"/><stop offset="0.8883" stop-color="#93ae63"/><stop offset="0.9033" stop-color="#93ae63"/><stop offset="0.9300" stop-color="#7aaa7b"/><stop offset="0.9450" stop-color="#7aaa7b"/><stop offset="0.9717" stop-color="#62a694"/><stop offset="0.9867" stop-color="#62a694"/></linearGradient>
<linearGradient id="g_a4_3" x1="0" y1="0" x2="1" y2="0"><stop offset="0.0133" stop-color="#338bad"/><stop offset="0.0283" stop-color="#338bad"/><stop offset="0.0550" stop-color="#338bad"/><stop offset="0.0700" stop-color="#338bad"/><stop offset="0.0967" stop-color="#378fb1"/><stop offset="0.1117" stop-color="#378fb1"/><stop offset="0.1383" stop-color="#3b93b3"/><stop offset="0.1533" stop-color="#3b93b3"/><stop offset="0.1800" stop-color="#62a694"/><stop offset="0.1950" stop-color="#62a694"/><stop offset="0.2217" stop-color="#93ae63"/><stop offset="0.2367" stop-color="#93ae63"/><stop offset="0.2633" stop-color="#93ae63"/><stop offset="0.2783" stop-color="#93ae63"/><stop offset="0.3050" stop-color="#7aaa7b"/><stop offset="0.3200" stop-color="#7aaa7b"/><stop offset="0.3467" stop-color="#50a1a4"/><stop offset="0.3617" stop-color="#50a1a4"/><stop offset="0.3883" stop-color="#50a1a4"/><stop offset="0.4033" stop-color="#50a1a4"/><stop offset="0.4300" stop-color="#439bb0"/><stop offset="0.4450" stop-color="#439bb0"/><stop offset="0.4717" stop-color="#439bb0"/><stop offset="0.4867" stop-color="#439bb0"/><stop offset="0.5133" stop-color="#50a1a4"/><stop offset="0.5283" stop-color="#50a1a4"/><stop offset="0.5550" stop-color="#50a1a4"/><stop offset="0.5700" stop-color="#50a1a4"/><stop offset="0.5967" stop-color="#3b93b3"/><stop offset="0.6117" stop-color="#3b93b3"/><stop offset="0.6383" stop-color="#62a694"/><stop offset="0.6533" stop-color="#62a694"/><stop offset="0.6800" stop-color="#93ae63"/><stop offset="0.6950" stop-color="#93ae63"/><stop offset="0.7217" stop-color="#abb24a"/><stop offset="0.7367" stop-color="#abb24a"/><stop offset="0.7633" stop-color="#abb24a"/><stop offset="0.7783" stop-color="#abb24a"/><stop offset="0.8050" stop-color="#abb24a"/><stop offset="0.8200" stop-color="#abb24a"/><stop offset="0.8467" stop-color="#7aaa7b"/><stop offset="0.8617" stop-color="#7aaa7b"/><stop offset="0.8883" stop-color="#7aaa7b"/><stop offset="0.9033" stop-color="#7aaa7b"/><stop offset="0.9300" stop-color="#50a1a4"/><stop offset="0.9450" stop-color="#50a1a4"/><stop offset="0.9717" stop-color="#50a1a4"/><stop offset="0.9867" stop-color="#50a1a4"/></linearGradient>
<clipPath id="c_b1"><rect x="48.7" y="451.0" width="163.7" height="348.7"/></clipPath>
<clipPath id="h_b1"><rect x="48.7" y="574.3" width="163.7" height="108.5"/></clipPath>
<linearGradient id="g_b1_0" x1="0" y1="0" x2="1" y2="0"><stop offset="0.0133" stop-color="#d0b032"/><stop offset="0.0283" stop-color="#d0b032"/><stop offset="0.0550" stop-color="#ddaf2a"/><stop offset="0.0700" stop-color="#ddaf2a"/><stop offset="0.0967" stop-color="#dfa924"/><stop offset="0.1117" stop-color="#dfa924"/><stop offset="0.1383" stop-color="#e1a21f"/><stop offset="0.1533" stop-color="#e1a21f"/><stop offset="0.1800" stop-color="#d0b032"/><stop offset="0.1950" stop-color="#d0b032"/><stop offset="0.2217" stop-color="#abb24a"/><stop offset="0.2367" stop-color="#abb24a"/><stop offset="0.2633" stop-color="#c4b03a"/><stop offset="0.2783" stop-color="#c4b03a"/><stop offset="0.3050" stop-color="#b8b142"/><stop offset="0.3200" stop-color="#b8b142"/><stop offset="0.3467" stop-color="#ddaf2a"/><stop offset="0.3617" stop-color="#ddaf2a"/><stop offset="0.3883" stop-color="#ddaf2a"/><stop offset="0.4033" stop-color="#ddaf2a"/><stop offset="0.4300" stop-color="#7aaa7b"/><stop offset="0.4450" stop-color="#7aaa7b"/><stop offset="0.4717" stop-color="#3b93b3"/><stop offset="0.4867" stop-color="#3b93b3"/><stop offset="0.5133" stop-color="#439bb0"/><stop offset="0.5283" stop-color="#439bb0"/><stop offset="0.5550" stop-color="#93ae63"/><stop offset="0.5700" stop-color="#93ae63"/><stop offset="0.5967" stop-color="#50a1a4"/><stop offset="0.6117" stop-color="#50a1a4"/><stop offset="0.6383" stop-color="#378fb1"/><stop offset="0.6533" stop-color="#378fb1"/><stop offset="0.6800" stop-color="#3b93b3"/><stop offset="0.6950" stop-color="#3b93b3"/><stop offset="0.7217" stop-color="#50a1a4"/><stop offset="0.7367" stop-color="#50a1a4"/><stop offset="0.7633" stop-color="#50a1a4"/><stop offset="0.7783" stop-color="#50a1a4"/><stop offset="0.8050" stop-color="#c4b03a"/><stop offset="0.8200" stop-color="#c4b03a"/><stop offset="0.8467" stop-color="#ddaf2a"/><stop offset="0.8617" stop-color="#ddaf2a"/><stop offset="0.8883" stop-color="#ddaf2a"/><stop offset="0.9033" stop-color="#ddaf2a"/><stop offset="0.9300" stop-color="#d0b032"/><stop offset="0.9450" stop-color="#d0b032"/><stop offset="0.9717" stop-color="#d0b032"/><stop offset="0.9867" stop-color="#d0b032"/></linearGradient>
<linearGradient id="g_b1_1" x1="0" y1="0" x2="1" y2="0"><stop offset="0.0133" stop-color="#d0b032"/><stop offset="0.0283" stop-color="#d0b032"/><stop offset="0.0550" stop-color="#ddaf2a"/><stop offset="0.0700" stop-color="#ddaf2a"/><stop offset="0.0967" stop-color="#ddaf2a"/><stop offset="0.1117" stop-color="#ddaf2a"/><stop offset="0.1383" stop-color="#ddaf2a"/><stop offset="0.1533" stop-color="#ddaf2a"/><stop offset="0.1800" stop-color="#d0b032"/><stop offset="0.1950" stop-color="#d0b032"/><stop offset="0.2217" stop-color="#abb24a"/><stop offset="0.2367" stop-color="#abb24a"/><stop offset="0.2633" stop-color="#b8b142"/><stop offset="0.2783" stop-color="#b8b142"/><stop offset="0.3050" stop-color="#abb24a"/><stop offset="0.3200" stop-color="#abb24a"/><stop offset="0.3467" stop-color="#ddaf2a"/><stop offset="0.3617" stop-color="#ddaf2a"/><stop offset="0.3883" stop-color="#ddaf2a"/><stop offset="0.4033" stop-color="#ddaf2a"/><stop offset="0.4300" stop-color="#93ae63"/><stop offset="0.4450" stop-color="#93ae63"/><stop offset="0.4717" stop-color="#439bb0"/><stop offset="0.4867" stop-color="#439bb0"/><stop offset="0.5133" stop-color="#7aaa7b"/><stop offset="0.5283" stop-color="#7aaa7b"/><stop offset="0.5550" stop-color="#abb24a"/><stop offset="0.5700" stop-color="#abb24a"/><stop offset="0.5967" stop-color="#62a694"/><stop offset="0.6117" stop-color="#62a694"/><stop offset="0.6383" stop-color="#378fb1"/><stop offset="0.6533" stop-color="#378fb1"/><stop offset="0.6800" stop-color="#3e96b2"/><stop offset="0.6950" stop-color="#3e96b2"/><stop offset="0.7217" stop-color="#62a694"/><stop offset="0.7367" stop-color="#62a694"/><stop offset="0.7633" stop-color="#50a1a4"/><stop offset="0.7783" stop-color="#50a1a4"/><stop offset="0.8050" stop-color="#93ae63"/><stop offset="0.8200" stop-color="#93ae63"/><stop offset="0.8467" stop-color="#d0b032"/><stop offset="0.8617" stop-color="#d0b032"/><stop offset="0.8883" stop-color="#b8b142"/><stop offset="0.9033" stop-color="#b8b142"/><stop offset="0.9300" stop-color="#b8b142"/><stop offset="0.9450" stop-color="#b8b142"/><stop offset="0.9717" stop-color="#b8b142"/><stop offset="0.9867" stop-color="#b8b142"/></linearGradient>
<linearGradient id="g_b1_2" x1="0" y1="0" x2="1" y2="0"><stop offset="0.0133" stop-color="#abb24a"/><stop offset="0.0283" stop-color="#abb24a"/><stop offset="0.0550" stop-color="#b2b245"/><stop offset="0.0700" stop-color="#b2b245"/><stop offset="0.0967" stop-color="#bfb13d"/><stop offset="0.1117" stop-color="#bfb13d"/><stop offset="0.1383" stop-color="#b8b142"/><stop offset="0.1533" stop-color="#b8b142"/><stop offset="0.1800" stop-color="#b8b142"/><stop offset="0.1950" stop-color="#b8b142"/><stop offset="0.2217" stop-color="#abb24a"/><stop offset="0.2367" stop-color="#abb24a"/><stop offset="0.2633" stop-color="#62a694"/><stop offset="0.2783" stop-color="#62a694"/><stop offset="0.3050" stop-color="#7aaa7b"/><stop offset="0.3200" stop-color="#7aaa7b"/><stop offset="0.3467" stop-color="#d0b032"/><stop offset="0.3617" stop-color="#d0b032"/><stop offset="0.3883" stop-color="#d0b032"/><stop offset="0.4033" stop-color="#d0b032"/><stop offset="0.4300" stop-color="#7aaa7b"/><stop offset="0.4450" stop-color="#7aaa7b"/><stop offset="0.4717" stop-color="#50a1a4"/><stop offset="0.4867" stop-color="#50a1a4"/><stop offset="0.5133" stop-color="#abb24a"/><stop offset="0.5283" stop-color="#abb24a"/><stop offset="0.5550" stop-color="#b8b142"/><stop offset="0.5700" stop-color="#b8b142"/><stop offset="0.5967" stop-color="#50a1a4"/><stop offset="0.6117" stop-color="#50a1a4"/><stop offset="0.6383" stop-color="#378fb1"/><stop offset="0.6533" stop-color="#378fb1"/><stop offset="0.6800" stop-color="#439bb0"/><stop offset="0.6950" stop-color="#439bb0"/><stop offset="0.7217" stop-color="#93ae63"/><stop offset="0.7367" stop-color="#93ae63"/><stop offset="0.7633" stop-color="#62a694"/><stop offset="0.7783" stop-color="#62a694"/><stop offset="0.8050" stop-color="#abb24a"/><stop offset="0.8200" stop-color="#abb24a"/><stop offset="0.8467" stop-color="#c4b03a"/><stop offset="0.8617" stop-color="#c4b03a"/><stop offset="0.8883" stop-color="#93ae63"/><stop offset="0.9033" stop-color="#93ae63"/><stop offset="0.9300" stop-color="#abb24a"/><stop offset="0.9450" stop-color="#abb24a"/><stop offset="0.9717" stop-color="#abb24a"/><stop offset="0.9867" stop-color="#abb24a"/></linearGradient>
<linearGradient id="g_b1_3" x1="0" y1="0" x2="1" y2="0"><stop offset="0.0133" stop-color="#abb24a"/><stop offset="0.0283" stop-color="#abb24a"/><stop offset="0.0550" stop-color="#abb24a"/><stop offset="0.0700" stop-color="#abb24a"/><stop offset="0.0967" stop-color="#abb24a"/><stop offset="0.1117" stop-color="#abb24a"/><stop offset="0.1383" stop-color="#439bb0"/><stop offset="0.1533" stop-color="#439bb0"/><stop offset="0.1800" stop-color="#62a694"/><stop offset="0.1950" stop-color="#62a694"/><stop offset="0.2217" stop-color="#abb24a"/><stop offset="0.2367" stop-color="#abb24a"/><stop offset="0.2633" stop-color="#439bb0"/><stop offset="0.2783" stop-color="#439bb0"/><stop offset="0.3050" stop-color="#50a1a4"/><stop offset="0.3200" stop-color="#50a1a4"/><stop offset="0.3467" stop-color="#c4b03a"/><stop offset="0.3617" stop-color="#c4b03a"/><stop offset="0.3883" stop-color="#b8b142"/><stop offset="0.4033" stop-color="#b8b142"/><stop offset="0.4300" stop-color="#439bb0"/><stop offset="0.4450" stop-color="#439bb0"/><stop offset="0.4717" stop-color="#439bb0"/><stop offset="0.4867" stop-color="#439bb0"/><stop offset="0.5133" stop-color="#c4b03a"/><stop offset="0.5283" stop-color="#c4b03a"/><stop offset="0.5550" stop-color="#b8b142"/><stop offset="0.5700" stop-color="#b8b142"/><stop offset="0.5967" stop-color="#50a1a4"/><stop offset="0.6117" stop-color="#50a1a4"/><stop offset="0.6383" stop-color="#378fb1"/><stop offset="0.6533" stop-color="#378fb1"/><stop offset="0.6800" stop-color="#62a694"/><stop offset="0.6950" stop-color="#62a694"/><stop offset="0.7217" stop-color="#abb24a"/><stop offset="0.7367" stop-color="#abb24a"/><stop offset="0.7633" stop-color="#abb24a"/><stop offset="0.7783" stop-color="#abb24a"/><stop offset="0.8050" stop-color="#abb24a"/><stop offset="0.8200" stop-color="#abb24a"/><stop offset="0.8467" stop-color="#c4b03a"/><stop offset="0.8617" stop-color="#c4b03a"/><stop offset="0.8883" stop-color="#7aaa7b"/><stop offset="0.9033" stop-color="#7aaa7b"/><stop offset="0.9300" stop-color="#abb24a"/><stop offset="0.9450" stop-color="#abb24a"/><stop offset="0.9717" stop-color="#abb24a"/><stop offset="0.9867" stop-color="#abb24a"/></linearGradient>
<clipPath id="c_b2"><rect x="218.4" y="451.0" width="163.1" height="348.7"/></clipPath>
<clipPath id="h_b2"><rect x="218.4" y="574.3" width="163.1" height="108.5"/></clipPath>
<linearGradient id="g_b2_0" x1="0" y1="0" x2="1" y2="0"><stop offset="0.0133" stop-color="#b8b142"/><stop offset="0.0283" stop-color="#b8b142"/><stop offset="0.0550" stop-color="#b8b142"/><stop offset="0.0700" stop-color="#b8b142"/><stop offset="0.0967" stop-color="#c4b03a"/><stop offset="0.1117" stop-color="#c4b03a"/><stop offset="0.1383" stop-color="#dfa924"/><stop offset="0.1533" stop-color="#dfa924"/><stop offset="0.1800" stop-color="#e46417"/><stop offset="0.1950" stop-color="#e46417"/><stop offset="0.2217" stop-color="#ddaf2a"/><stop offset="0.2367" stop-color="#ddaf2a"/><stop offset="0.2633" stop-color="#d0b032"/><stop offset="0.2783" stop-color="#d0b032"/><stop offset="0.3050" stop-color="#d0b032"/><stop offset="0.3200" stop-color="#d0b032"/><stop offset="0.3467" stop-color="#d0b032"/><stop offset="0.3617" stop-color="#d0b032"/><stop offset="0.3883" stop-color="#c4b03a"/><stop offset="0.4033" stop-color="#c4b03a"/><stop offset="0.4300" stop-color="#93ae63"/><stop offset="0.4450" stop-color="#93ae63"/><stop offset="0.4717" stop-color="#439bb0"/><stop offset="0.4867" stop-color="#439bb0"/><stop offset="0.5133" stop-color="#62a694"/><stop offset="0.5283" stop-color="#62a694"/><stop offset="0.5550" stop-color="#62a694"/><stop offset="0.5700" stop-color="#62a694"/><stop offset="0.5967" stop-color="#b8b142"/><stop offset="0.6117" stop-color="#b8b142"/><stop offset="0.6383" stop-color="#abb24a"/><stop offset="0.6533" stop-color="#abb24a"/><stop offset="0.6800" stop-color="#abb24a"/><stop offset="0.6950" stop-color="#abb24a"/><stop offset="0.7217" stop-color="#abb24a"/><stop offset="0.7367" stop-color="#abb24a"/><stop offset="0.7633" stop-color="#abb24a"/><stop offset="0.7783" stop-color="#abb24a"/><stop offset="0.8050" stop-color="#abb24a"/><stop offset="0.8200" stop-color="#abb24a"/><stop offset="0.8467" stop-color="#b8b142"/><stop offset="0.8617" stop-color="#b8b142"/><stop offset="0.8883" stop-color="#abb24a"/><stop offset="0.9033" stop-color="#abb24a"/><stop offset="0.9300" stop-color="#abb24a"/><stop offset="0.9450" stop-color="#abb24a"/><stop offset="0.9717" stop-color="#b8b142"/><stop offset="0.9867" stop-color="#b8b142"/></linearGradient>
<linearGradient id="g_b2_1" x1="0" y1="0" x2="1" y2="0"><stop offset="0.0133" stop-color="#abb24a"/><stop offset="0.0283" stop-color="#abb24a"/><stop offset="0.0550" stop-color="#b8b142"/><stop offset="0.0700" stop-color="#b8b142"/><stop offset="0.0967" stop-color="#b8b142"/><stop offset="0.1117" stop-color="#b8b142"/><stop offset="0.1383" stop-color="#d0b032"/><stop offset="0.1533" stop-color="#d0b032"/><stop offset="0.1800" stop-color="#dfa924"/><stop offset="0.1950" stop-color="#dfa924"/><stop offset="0.2217" stop-color="#d0b032"/><stop offset="0.2367" stop-color="#d0b032"/><stop offset="0.2633" stop-color="#c4b03a"/><stop offset="0.2783" stop-color="#c4b03a"/><stop offset="0.3050" stop-color="#b8b142"/><stop offset="0.3200" stop-color="#b8b142"/><stop offset="0.3467" stop-color="#b8b142"/><stop offset="0.3617" stop-color="#b8b142"/><stop offset="0.3883" stop-color="#abb24a"/><stop offset="0.4033" stop-color="#abb24a"/><stop offset="0.4300" stop-color="#7aaa7b"/><stop offset="0.4450" stop-color="#7aaa7b"/><stop offset="0.4717" stop-color="#50a1a4"/><stop offset="0.4867" stop-color="#50a1a4"/><stop offset="0.5133" stop-color="#7aaa7b"/><stop offset="0.5283" stop-color="#7aaa7b"/><stop offset="0.5550" stop-color="#62a694"/><stop offset="0.5700" stop-color="#62a694"/><stop offset="0.5967" stop-color="#b8b142"/><stop offset="0.6117" stop-color="#b8b142"/><stop offset="0.6383" stop-color="#abb24a"/><stop offset="0.6533" stop-color="#abb24a"/><stop offset="0.6800" stop-color="#abb24a"/><stop offset="0.6950" stop-color="#abb24a"/><stop offset="0.7217" stop-color="#7aaa7b"/><stop offset="0.7367" stop-color="#7aaa7b"/><stop offset="0.7633" stop-color="#abb24a"/><stop offset="0.7783" stop-color="#abb24a"/><stop offset="0.8050" stop-color="#abb24a"/><stop offset="0.8200" stop-color="#abb24a"/><stop offset="0.8467" stop-color="#abb24a"/><stop offset="0.8617" stop-color="#abb24a"/><stop offset="0.8883" stop-color="#7aaa7b"/><stop offset="0.9033" stop-color="#7aaa7b"/><stop offset="0.9300" stop-color="#50a1a4"/><stop offset="0.9450" stop-color="#50a1a4"/><stop offset="0.9717" stop-color="#62a694"/><stop offset="0.9867" stop-color="#62a694"/></linearGradient>
<linearGradient id="g_b2_2" x1="0" y1="0" x2="1" y2="0"><stop offset="0.0133" stop-color="#7aaa7b"/><stop offset="0.0283" stop-color="#7aaa7b"/><stop offset="0.0550" stop-color="#7aaa7b"/><stop offset="0.0700" stop-color="#7aaa7b"/><stop offset="0.0967" stop-color="#93ae63"/><stop offset="0.1117" stop-color="#93ae63"/><stop offset="0.1383" stop-color="#93ae63"/><stop offset="0.1533" stop-color="#93ae63"/><stop offset="0.1800" stop-color="#abb24a"/><stop offset="0.1950" stop-color="#abb24a"/><stop offset="0.2217" stop-color="#abb24a"/><stop offset="0.2367" stop-color="#abb24a"/><stop offset="0.2633" stop-color="#93ae63"/><stop offset="0.2783" stop-color="#93ae63"/><stop offset="0.3050" stop-color="#7aaa7b"/><stop offset="0.3200" stop-color="#7aaa7b"/><stop offset="0.3467" stop-color="#7aaa7b"/><stop offset="0.3617" stop-color="#7aaa7b"/><stop offset="0.3883" stop-color="#7aaa7b"/><stop offset="0.4033" stop-color="#7aaa7b"/><stop offset="0.4300" stop-color="#62a694"/><stop offset="0.4450" stop-color="#62a694"/><stop offset="0.4717" stop-color="#50a1a4"/><stop offset="0.4867" stop-color="#50a1a4"/><stop offset="0.5133" stop-color="#abb24a"/><stop offset="0.5283" stop-color="#abb24a"/><stop offset="0.5550" stop-color="#7aaa7b"/><stop offset="0.5700" stop-color="#7aaa7b"/><stop offset="0.5967" stop-color="#b8b142"/><stop offset="0.6117" stop-color="#b8b142"/><stop offset="0.6383" stop-color="#abb24a"/><stop offset="0.6533" stop-color="#abb24a"/><stop offset="0.6800" stop-color="#93ae63"/><stop offset="0.6950" stop-color="#93ae63"/><stop offset="0.7217" stop-color="#50a1a4"/><stop offset="0.7367" stop-color="#50a1a4"/><stop offset="0.7633" stop-color="#7aaa7b"/><stop offset="0.7783" stop-color="#7aaa7b"/><stop offset="0.8050" stop-color="#abb24a"/><stop offset="0.8200" stop-color="#abb24a"/><stop offset="0.8467" stop-color="#93ae63"/><stop offset="0.8617" stop-color="#93ae63"/><stop offset="0.8883" stop-color="#50a1a4"/><stop offset="0.9033" stop-color="#50a1a4"/><stop offset="0.9300" stop-color="#439bb0"/><stop offset="0.9450" stop-color="#439bb0"/><stop offset="0.9717" stop-color="#439bb0"/><stop offset="0.9867" stop-color="#439bb0"/></linearGradient>
<linearGradient id="g_b2_3" x1="0" y1="0" x2="1" y2="0"><stop offset="0.0133" stop-color="#50a1a4"/><stop offset="0.0283" stop-color="#50a1a4"/><stop offset="0.0550" stop-color="#439bb0"/><stop offset="0.0700" stop-color="#439bb0"/><stop offset="0.0967" stop-color="#439bb0"/><stop offset="0.1117" stop-color="#439bb0"/><stop offset="0.1383" stop-color="#3b93b3"/><stop offset="0.1533" stop-color="#3b93b3"/><stop offset="0.1800" stop-color="#3b93b3"/><stop offset="0.1950" stop-color="#3b93b3"/><stop offset="0.2217" stop-color="#439bb0"/><stop offset="0.2367" stop-color="#439bb0"/><stop offset="0.2633" stop-color="#3b93b3"/><stop offset="0.2783" stop-color="#3b93b3"/><stop offset="0.3050" stop-color="#439bb0"/><stop offset="0.3200" stop-color="#439bb0"/><stop offset="0.3467" stop-color="#439bb0"/><stop offset="0.3617" stop-color="#439bb0"/><stop offset="0.3883" stop-color="#439bb0"/><stop offset="0.4033" stop-color="#439bb0"/><stop offset="0.4300" stop-color="#439bb0"/><stop offset="0.4450" stop-color="#439bb0"/><stop offset="0.4717" stop-color="#50a1a4"/><stop offset="0.4867" stop-color="#50a1a4"/><stop offset="0.5133" stop-color="#b8b142"/><stop offset="0.5283" stop-color="#b8b142"/><stop offset="0.5550" stop-color="#93ae63"/><stop offset="0.5700" stop-color="#93ae63"/><stop offset="0.5967" stop-color="#b8b142"/><stop offset="0.6117" stop-color="#b8b142"/><stop offset="0.6383" stop-color="#abb24a"/><stop offset="0.6533" stop-color="#abb24a"/><stop offset="0.6800" stop-color="#62a694"/><stop offset="0.6950" stop-color="#62a694"/><stop offset="0.7217" stop-color="#3b93b3"/><stop offset="0.7367" stop-color="#3b93b3"/><stop offset="0.7633" stop-color="#439bb0"/><stop offset="0.7783" stop-color="#439bb0"/><stop offset="0.8050" stop-color="#93ae63"/><stop offset="0.8200" stop-color="#93ae63"/><stop offset="0.8467" stop-color="#7aaa7b"/><stop offset="0.8617" stop-color="#7aaa7b"/><stop offset="0.8883" stop-color="#3b93b3"/><stop offset="0.9033" stop-color="#3b93b3"/><stop offset="0.9300" stop-color="#378fb1"/><stop offset="0.9450" stop-color="#378fb1"/><stop offset="0.9717" stop-color="#338bad"/><stop offset="0.9867" stop-color="#338bad"/></linearGradient>
<clipPath id="c_b3"><rect x="388.3" y="451.0" width="163.9" height="348.7"/></clipPath>
<clipPath id="h_b3"><rect x="388.3" y="574.3" width="163.9" height="108.5"/></clipPath>
<linearGradient id="g_b3_0" x1="0" y1="0" x2="1" y2="0"><stop offset="0.0133" stop-color="#c4b03a"/><stop offset="0.0283" stop-color="#c4b03a"/><stop offset="0.0550" stop-color="#d0b032"/><stop offset="0.0700" stop-color="#d0b032"/><stop offset="0.0967" stop-color="#ddaf2a"/><stop offset="0.1117" stop-color="#ddaf2a"/><stop offset="0.1383" stop-color="#e39c1a"/><stop offset="0.1533" stop-color="#e39c1a"/><stop offset="0.1800" stop-color="#e47516"/><stop offset="0.1950" stop-color="#e47516"/><stop offset="0.2217" stop-color="#e39c1a"/><stop offset="0.2367" stop-color="#e39c1a"/><stop offset="0.2633" stop-color="#e39c1a"/><stop offset="0.2783" stop-color="#e39c1a"/><stop offset="0.3050" stop-color="#e47516"/><stop offset="0.3200" stop-color="#e47516"/><stop offset="0.3467" stop-color="#e1a21f"/><stop offset="0.3617" stop-color="#e1a21f"/><stop offset="0.3883" stop-color="#dfa924"/><stop offset="0.4033" stop-color="#dfa924"/><stop offset="0.4300" stop-color="#d0b032"/><stop offset="0.4450" stop-color="#d0b032"/><stop offset="0.4717" stop-color="#c4b03a"/><stop offset="0.4867" stop-color="#c4b03a"/><stop offset="0.5133" stop-color="#b8b142"/><stop offset="0.5283" stop-color="#b8b142"/><stop offset="0.5550" stop-color="#93ae63"/><stop offset="0.5700" stop-color="#93ae63"/><stop offset="0.5967" stop-color="#62a694"/><stop offset="0.6117" stop-color="#62a694"/><stop offset="0.6383" stop-color="#50a1a4"/><stop offset="0.6533" stop-color="#50a1a4"/><stop offset="0.6800" stop-color="#7aaa7b"/><stop offset="0.6950" stop-color="#7aaa7b"/><stop offset="0.7217" stop-color="#abb24a"/><stop offset="0.7367" stop-color="#abb24a"/><stop offset="0.7633" stop-color="#abb24a"/><stop offset="0.7783" stop-color="#abb24a"/><stop offset="0.8050" stop-color="#abb24a"/><stop offset="0.8200" stop-color="#abb24a"/><stop offset="0.8467" stop-color="#b8b142"/><stop offset="0.8617" stop-color="#b8b142"/><stop offset="0.8883" stop-color="#b8b142"/><stop offset="0.9033" stop-color="#b8b142"/><stop offset="0.9300" stop-color="#abb24a"/><stop offset="0.9450" stop-color="#abb24a"/><stop offset="0.9717" stop-color="#abb24a"/><stop offset="0.9867" stop-color="#abb24a"/></linearGradient>
<linearGradient id="g_b3_1" x1="0" y1="0" x2="1" y2="0"><stop offset="0.0133" stop-color="#b8b142"/><stop offset="0.0283" stop-color="#b8b142"/><stop offset="0.0550" stop-color="#c4b03a"/><stop offset="0.0700" stop-color="#c4b03a"/><stop offset="0.0967" stop-color="#d0b032"/><stop offset="0.1117" stop-color="#d0b032"/><stop offset="0.1383" stop-color="#e1a21f"/><stop offset="0.1533" stop-color="#e1a21f"/><stop offset="0.1800" stop-color="#e39c1a"/><stop offset="0.1950" stop-color="#e39c1a"/><stop offset="0.2217" stop-color="#e1a21f"/><stop offset="0.2367" stop-color="#e1a21f"/><stop offset="0.2633" stop-color="#e1a21f"/><stop offset="0.2783" stop-color="#e1a21f"/><stop offset="0.3050" stop-color="#e39c1a"/><stop offset="0.3200" stop-color="#e39c1a"/><stop offset="0.3467" stop-color="#dfa924"/><stop offset="0.3617" stop-color="#dfa924"/><stop offset="0.3883" stop-color="#d0b032"/><stop offset="0.4033" stop-color="#d0b032"/><stop offset="0.4300" stop-color="#b8b142"/><stop offset="0.4450" stop-color="#b8b142"/><stop offset="0.4717" stop-color="#abb24a"/><stop offset="0.4867" stop-color="#abb24a"/><stop offset="0.5133" stop-color="#abb24a"/><stop offset="0.5283" stop-color="#abb24a"/><stop offset="0.5550" stop-color="#7aaa7b"/><stop offset="0.5700" stop-color="#7aaa7b"/><stop offset="0.5967" stop-color="#62a694"/><stop offset="0.6117" stop-color="#62a694"/><stop offset="0.6383" stop-color="#62a694"/><stop offset="0.6533" stop-color="#62a694"/><stop offset="0.6800" stop-color="#7aaa7b"/><stop offset="0.6950" stop-color="#7aaa7b"/><stop offset="0.7217" stop-color="#abb24a"/><stop offset="0.7367" stop-color="#abb24a"/><stop offset="0.7633" stop-color="#abb24a"/><stop offset="0.7783" stop-color="#abb24a"/><stop offset="0.8050" stop-color="#abb24a"/><stop offset="0.8200" stop-color="#abb24a"/><stop offset="0.8467" stop-color="#abb24a"/><stop offset="0.8617" stop-color="#abb24a"/><stop offset="0.8883" stop-color="#abb24a"/><stop offset="0.9033" stop-color="#abb24a"/><stop offset="0.9300" stop-color="#93ae63"/><stop offset="0.9450" stop-color="#93ae63"/><stop offset="0.9717" stop-color="#abb24a"/><stop offset="0.9867" stop-color="#abb24a"/></linearGradient>
<linearGradient id="g_b3_2" x1="0" y1="0" x2="1" y2="0"><stop offset="0.0133" stop-color="#50a1a4"/><stop offset="0.0283" stop-color="#50a1a4"/><stop offset="0.0550" stop-color="#62a694"/><stop offset="0.0700" stop-color="#62a694"/><stop offset="0.0967" stop-color="#7aaa7b"/><stop offset="0.1117" stop-color="#7aaa7b"/><stop offset="0.1383" stop-color="#abb24a"/><stop offset="0.1533" stop-color="#abb24a"/><stop offset="0.1800" stop-color="#d0b032"/><stop offset="0.1950" stop-color="#d0b032"/><stop offset="0.2217" stop-color="#d0b032"/><stop offset="0.2367" stop-color="#d0b032"/><stop offset="0.2633" stop-color="#d0b032"/><stop offset="0.2783" stop-color="#d0b032"/><stop offset="0.3050" stop-color="#c4b03a"/><stop offset="0.3200" stop-color="#c4b03a"/><stop offset="0.3467" stop-color="#abb24a"/><stop offset="0.3617" stop-color="#abb24a"/><stop offset="0.3883" stop-color="#abb24a"/><stop offset="0.4033" stop-color="#abb24a"/><stop offset="0.4300" stop-color="#93ae63"/><stop offset="0.4450" stop-color="#93ae63"/><stop offset="0.4717" stop-color="#7aaa7b"/><stop offset="0.4867" stop-color="#7aaa7b"/><stop offset="0.5133" stop-color="#62a694"/><stop offset="0.5283" stop-color="#62a694"/><stop offset="0.5550" stop-color="#62a694"/><stop offset="0.5700" stop-color="#62a694"/><stop offset="0.5967" stop-color="#62a694"/><stop offset="0.6117" stop-color="#62a694"/><stop offset="0.6383" stop-color="#7aaa7b"/><stop offset="0.6533" stop-color="#7aaa7b"/><stop offset="0.6800" stop-color="#93ae63"/><stop offset="0.6950" stop-color="#93ae63"/><stop offset="0.7217" stop-color="#abb24a"/><stop offset="0.7367" stop-color="#abb24a"/><stop offset="0.7633" stop-color="#abb24a"/><stop offset="0.7783" stop-color="#abb24a"/><stop offset="0.8050" stop-color="#abb24a"/><stop offset="0.8200" stop-color="#abb24a"/><stop offset="0.8467" stop-color="#abb24a"/><stop offset="0.8617" stop-color="#abb24a"/><stop offset="0.8883" stop-color="#abb24a"/><stop offset="0.9033" stop-color="#abb24a"/><stop offset="0.9300" stop-color="#62a694"/><stop offset="0.9450" stop-color="#62a694"/><stop offset="0.9717" stop-color="#93ae63"/><stop offset="0.9867" stop-color="#93ae63"/></linearGradient>
<linearGradient id="g_b3_3" x1="0" y1="0" x2="1" y2="0"><stop offset="0.0133" stop-color="#378fb1"/><stop offset="0.0283" stop-color="#378fb1"/><stop offset="0.0550" stop-color="#378fb1"/><stop offset="0.0700" stop-color="#378fb1"/><stop offset="0.0967" stop-color="#3b93b3"/><stop offset="0.1117" stop-color="#3b93b3"/><stop offset="0.1383" stop-color="#439bb0"/><stop offset="0.1533" stop-color="#439bb0"/><stop offset="0.1800" stop-color="#7aaa7b"/><stop offset="0.1950" stop-color="#7aaa7b"/><stop offset="0.2217" stop-color="#b8b142"/><stop offset="0.2367" stop-color="#b8b142"/><stop offset="0.2633" stop-color="#b8b142"/><stop offset="0.2783" stop-color="#b8b142"/><stop offset="0.3050" stop-color="#93ae63"/><stop offset="0.3200" stop-color="#93ae63"/><stop offset="0.3467" stop-color="#50a1a4"/><stop offset="0.3617" stop-color="#50a1a4"/><stop offset="0.3883" stop-color="#50a1a4"/><stop offset="0.4033" stop-color="#50a1a4"/><stop offset="0.4300" stop-color="#7aaa7b"/><stop offset="0.4450" stop-color="#7aaa7b"/><stop offset="0.4717" stop-color="#62a694"/><stop offset="0.4867" stop-color="#62a694"/><stop offset="0.5133" stop-color="#50a1a4"/><stop offset="0.5283" stop-color="#50a1a4"/><stop offset="0.5550" stop-color="#50a1a4"/><stop offset="0.5700" stop-color="#50a1a4"/><stop offset="0.5967" stop-color="#50a1a4"/><stop offset="0.6117" stop-color="#50a1a4"/><stop offset="0.6383" stop-color="#7aaa7b"/><stop offset="0.6533" stop-color="#7aaa7b"/><stop offset="0.6800" stop-color="#93ae63"/><stop offset="0.6950" stop-color="#93ae63"/><stop offset="0.7217" stop-color="#abb24a"/><stop offset="0.7367" stop-color="#abb24a"/><stop offset="0.7633" stop-color="#abb24a"/><stop offset="0.7783" stop-color="#abb24a"/><stop offset="0.8050" stop-color="#abb24a"/><stop offset="0.8200" stop-color="#abb24a"/><stop offset="0.8467" stop-color="#abb24a"/><stop offset="0.8617" stop-color="#abb24a"/><stop offset="0.8883" stop-color="#93ae63"/><stop offset="0.9033" stop-color="#93ae63"/><stop offset="0.9300" stop-color="#50a1a4"/><stop offset="0.9450" stop-color="#50a1a4"/><stop offset="0.9717" stop-color="#7aaa7b"/><stop offset="0.9867" stop-color="#7aaa7b"/></linearGradient>
<linearGradient id="lgbg" x1="0" y1="0" x2="0" y2="1"><stop offset="0" stop-color="#fdf0a0"/><stop offset="0.45" stop-color="#f6f0a8"/><stop offset="0.6" stop-color="#b8ecf0"/><stop offset="1" stop-color="#a8e8f4"/></linearGradient>
</defs>
<rect width="685" height="866" fill="#fff"/>
<g clip-path="url(#c_a1)">
<rect x="48.5" y="39.8" width="142.7" height="307.7" fill="#fff"/>
<path d="M48.5 93.5H191.2M48.5 184.6H191.2M48.5 275.8H191.2M62.8 39.8V347.5M95.9 39.8V347.5M129.0 39.8V347.5M162.2 39.8V347.5" stroke="#f2f2f2" stroke-width="0.8" fill="none"/>
<path d="M48.5 48.0H191.2M48.5 139.1H191.2M48.5 230.2H191.2M48.5 321.3H191.2M79.3 39.8V347.5M112.5 39.8V347.5M145.6 39.8V347.5M178.9 39.8V347.5" stroke="#e8e8e8" stroke-width="1" fill="none"/>
<g clip-path="url(#h_a1)"><g filter="url(#bl)">
<rect x="46.5" y="159.3" width="146.7" height="95.3" fill="url(#g_a1_0)"/>
<rect x="46.5" y="159.3" width="146.7" height="95.3" fill="url(#g_a1_1)" mask="url(#mk1)"/>
<rect x="46.5" y="159.3" width="146.7" height="95.3" fill="url(#g_a1_2)" mask="url(#mk2)"/>
<rect x="46.5" y="159.3" width="146.7" height="95.3" fill="url(#g_a1_3)" mask="url(#mk3)"/>
</g></g>
<path d="M48.5 160.9H191.2" stroke="#fff3a0" stroke-opacity="0.7" stroke-width="1"/><path d="M48.5 253.1H191.2" stroke="#a8ecf6" stroke-opacity="0.8" stroke-width="1.2"/>
<path d="M48.5 139.1H191.2" stroke="#9c5555" stroke-opacity="0.9" stroke-width="1.55" stroke-dasharray="2.60 2.70" fill="none"/>
<g filter="url(#bl2)">
<path d="M49.5 115.0 L50.3 113.2 L51.1 107.7 L51.9 108.1 L52.7 107.9 L53.5 111.3 L54.3 108.6 L55.1 103.7 L55.9 101.2 L56.7 104.1 L57.5 100.2 L58.3 103.2 L59.1 104.8 L59.9 103.2 L60.7 105.7 L61.5 106.3 L62.3 107.1 L63.1 107.6 L63.9 107.6 L64.7 104.8 L65.5 103.6 L66.3 102.2 L67.1 100.7 L67.9 103.0 L68.7 103.7 L69.5 97.8 L70.3 100.0 L71.1 97.7 L71.9 99.7 L72.7 93.4 L73.5 93.9 L74.3 89.6 L75.1 90.6 L75.9 87.4 L76.7 79.1 L77.5 73.2 L78.3 63.6 L79.1 61.5 L79.9 63.6 L80.7 68.9 L81.5 71.5 L82.3 69.9 L83.1 72.4 L83.9 75.5 L84.7 77.4 L85.5 80.2 L86.3 80.5 L87.1 77.2 L87.9 81.3 L88.7 79.0 L89.5 77.9 L90.3 71.4 L91.1 71.7 L91.9 65.8 L92.7 64.4 L93.5 60.9 L94.3 62.3 L95.1 68.3 L95.9 70.5 L96.7 74.5 L97.5 74.7 L98.3 75.6 L99.1 80.3 L99.9 82.3 L100.7 81.2 L101.5 83.0 L102.4 84.1 L103.2 81.2 L104.0 78.8 L104.8 79.5 L105.6 74.4 L106.4 71.9 L107.2 69.3 L108.0 63.6 L108.8 59.7 L109.6 49.2 L110.4 43.8 L111.2 44.3 L112.0 47.8 L112.8 50.4 L113.6 53.1 L114.4 55.2 L115.2 59.5 L116.0 65.5 L116.8 68.5 L117.6 75.5 L118.4 80.2 L119.2 81.2 L120.0 79.4 L120.8 78.8 L121.6 80.8 L122.4 81.7 L123.2 83.0 L124.0 79.3 L124.8 78.8 L125.6 76.0 L126.4 77.8 L127.2 71.1 L128.0 69.4 L128.8 75.5 L129.6 71.1 L130.4 78.3 L131.2 82.4 L132.0 79.0 L132.8 83.6 L133.6 85.2 L134.4 79.9 L135.2 81.6 L136.0 80.7 L136.8 75.9 L137.6 73.3 L138.4 73.2 L139.2 72.5 L140.0 72.3 L140.8 76.3 L141.6 75.0 L142.4 81.9 L143.2 86.5 L144.0 88.0 L144.8 84.7 L145.6 85.3 L146.4 83.5 L147.2 81.0 L148.0 82.9 L148.8 85.3 L149.6 83.6 L150.4 81.7 L151.2 85.0 L152.0 83.0 L152.8 82.0 L153.6 89.3 L154.4 83.8 L155.2 81.7 L156.0 73.5 L156.8 70.1 L157.6 66.5 L158.4 73.2 L159.2 64.7 L160.0 66.3 L160.8 68.2 L161.6 62.9 L162.4 60.7 L163.2 63.6 L164.0 59.2 L164.8 66.2 L165.6 71.8 L166.4 77.8 L167.2 83.1 L168.0 90.9 L168.8 88.0 L169.6 88.2 L170.4 84.8 L171.2 85.7 L172.0 90.2 L172.8 87.1 L173.6 83.7 L174.4 81.8 L175.2 84.5 L176.0 89.2 L176.9 87.7 L177.7 90.4 L178.5 94.4 L179.3 86.3 L180.1 94.2 L180.9 98.0 L181.7 96.5 L182.5 94.5 L183.3 95.9 L184.1 94.8 L184.9 96.7 L185.7 101.4 L186.5 99.3 L187.3 100.2 L188.1 100.1 L188.9 104.3 L189.7 104.6 L190.5 106.7 L191.3 105.8 L191.3 120.3 L190.5 121.2 L189.7 121.0 L188.9 124.7 L188.1 126.2 L187.3 126.4 L186.5 123.3 L185.7 127.6 L184.9 124.8 L184.1 128.4 L183.3 127.3 L182.5 129.2 L181.7 134.2 L180.9 135.2 L180.1 141.7 L179.3 141.5 L178.5 139.0 L177.7 133.6 L176.9 130.7 L176.0 134.8 L175.2 135.8 L174.4 136.6 L173.6 141.8 L172.8 145.0 L172.0 142.9 L171.2 139.6 L170.4 140.2 L169.6 140.5 L168.8 139.2 L168.0 137.4 L167.2 137.3 L166.4 144.0 L165.6 137.5 L164.8 131.1 L164.0 132.4 L163.2 126.4 L162.4 135.1 L161.6 139.3 L160.8 137.4 L160.0 141.0 L159.2 135.6 L158.4 130.6 L157.6 129.8 L156.8 125.0 L156.0 123.7 L155.2 123.3 L154.4 127.3 L153.6 121.8 L152.8 125.8 L152.0 124.6 L151.2 124.0 L150.4 122.8 L149.6 120.9 L148.8 121.3 L148.0 121.4 L147.2 120.0 L146.4 120.1 L145.6 119.7 L144.8 116.9 L144.0 112.3 L143.2 114.4 L142.4 111.2 L141.6 108.1 L140.8 109.0 L140.0 107.6 L139.2 111.3 L138.4 109.8 L137.6 111.9 L136.8 106.8 L136.0 109.3 L135.2 112.0 L134.4 115.1 L133.6 119.9 L132.8 120.1 L132.0 121.1 L131.2 118.3 L130.4 122.9 L129.6 115.9 L128.8 116.4 L128.0 112.6 L127.2 118.1 L126.4 113.3 L125.6 111.0 L124.8 112.6 L124.0 108.9 L123.2 108.3 L122.4 107.2 L121.6 108.3 L120.8 104.2 L120.0 102.9 L119.2 101.3 L118.4 97.0 L117.6 94.8 L116.8 92.7 L116.0 86.8 L115.2 86.6 L114.4 80.6 L113.6 82.9 L112.8 80.4 L112.0 78.5 L111.2 80.2 L110.4 80.3 L109.6 85.7 L108.8 91.4 L108.0 97.9 L107.2 104.9 L106.4 106.1 L105.6 110.8 L104.8 117.6 L104.0 115.1 L103.2 116.5 L102.4 110.7 L101.5 111.5 L100.7 109.3 L99.9 107.7 L99.1 102.6 L98.3 100.4 L97.5 94.6 L96.7 95.1 L95.9 96.2 L95.1 92.1 L94.3 85.7 L93.5 88.4 L92.7 95.4 L91.9 96.3 L91.1 94.0 L90.3 96.0 L89.5 98.8 L88.7 104.6 L87.9 107.2 L87.1 105.6 L86.3 101.2 L85.5 102.7 L84.7 95.7 L83.9 93.0 L83.1 93.0 L82.3 93.8 L81.5 97.4 L80.7 95.3 L79.9 91.8 L79.1 93.5 L78.3 100.0 L77.5 100.7 L76.7 104.9 L75.9 111.6 L75.1 114.5 L74.3 120.5 L73.5 125.3 L72.7 124.0 L71.9 125.9 L71.1 125.5 L70.3 122.3 L69.5 123.2 L68.7 123.9 L67.9 126.4 L67.1 129.6 L66.3 125.7 L65.5 127.9 L64.7 133.1 L63.9 133.3 L63.1 130.3 L62.3 130.1 L61.5 129.2 L60.7 128.8 L59.9 131.2 L59.1 131.5 L58.3 130.1 L57.5 134.5 L56.7 136.0 L55.9 133.9 L55.1 134.4 L54.3 134.3 L53.5 135.7 L52.7 138.2 L51.9 139.1 L51.1 136.4 L50.3 139.3 L49.5 141.3Z" fill="#858585" fill-opacity="0.5"/>
<path d="M49.5 135.8C49.7 139.8 51.0 169.2 51.5 175.8C52.0 182.4 53.9 202.5 54.5 202.0C55.0 201.5 56.5 175.4 57.0 170.8C57.4 166.2 58.6 155.2 59.0 155.8C59.4 156.5 60.6 172.0 61.0 177.4C61.3 182.8 62.3 204.6 62.7 209.9C63.1 215.1 64.7 223.4 65.2 229.9C65.7 236.4 67.3 267.9 67.7 274.8C68.1 281.7 68.5 295.8 69.0 298.5C69.4 301.3 72.1 301.1 72.7 302.3C73.3 303.4 74.6 307.4 75.2 309.7C75.8 312.0 78.2 323.7 78.9 325.2C79.7 326.8 81.9 325.5 82.7 325.2C83.4 324.9 85.7 323.4 86.4 322.2C87.1 321.1 88.9 313.2 89.4 313.5C90.0 313.7 91.5 322.5 91.9 324.7C92.4 327.0 93.5 335.7 93.9 336.0C94.4 336.2 96.0 329.8 96.4 327.2C96.9 324.6 98.0 314.0 98.4 309.7C98.9 305.5 100.5 291.8 100.9 284.8C101.3 277.8 102.3 248.6 102.7 239.8C103.0 231.1 104.0 199.7 104.4 197.4C104.8 195.2 106.0 213.1 106.4 217.4C106.8 221.6 108.0 236.4 108.4 239.8C108.8 243.3 109.8 254.6 110.1 252.3C110.5 250.1 111.6 224.1 111.9 217.4C112.2 210.6 113.0 190.9 113.4 184.9C113.7 178.9 115.0 158.0 115.4 157.5C115.8 157.0 117.3 175.8 117.6 179.9C118.0 184.0 118.6 197.2 118.9 198.7C119.2 200.2 120.5 200.5 120.9 194.9C121.2 189.3 122.3 150.9 122.6 142.5C123.0 134.1 124.0 114.2 124.4 110.9C124.7 107.6 125.8 109.1 126.4 109.6C126.9 110.1 129.4 115.9 130.1 115.9C130.9 115.9 133.1 110.6 133.8 109.6C134.6 108.6 136.9 105.8 137.6 105.9C138.3 106.0 140.6 111.4 141.3 110.9C142.1 110.4 144.3 102.3 145.1 100.9C145.8 99.5 148.1 97.5 148.8 97.2C149.6 96.8 151.8 96.8 152.6 97.2C153.3 97.5 155.8 97.0 156.3 100.9C156.8 104.8 157.2 127.1 157.6 135.8C157.9 144.6 159.6 185.8 160.1 188.3C160.6 190.8 162.1 166.6 162.6 160.8C163.0 155.1 163.9 134.2 164.3 130.9C164.7 127.5 165.7 127.2 166.3 127.1C166.9 127.0 169.3 130.2 170.1 129.6C170.8 129.0 173.1 121.3 173.8 120.9C174.5 120.5 176.8 123.9 177.5 125.9C178.3 127.9 180.7 137.4 181.3 140.8C181.9 144.3 183.2 156.6 183.8 160.8C184.4 165.1 186.8 179.5 187.5 183.3C188.2 187.0 190.4 196.8 190.8 198.3" stroke="#9a9a9a" stroke-opacity="0.5" stroke-width="4.8" fill="none" stroke-linejoin="round"/>
<path d="M67.7 268.5 L68.5 285.3 L69.3 292.9 L70.1 294.0 L70.9 295.4 L71.7 295.3 L72.6 295.2 L73.4 298.4 L74.2 300.8 L75.0 303.9 L75.8 306.7 L76.6 308.7 L77.4 312.3 L78.2 316.9 L79.0 319.3 L79.8 318.1 L80.7 319.7 L81.5 318.2 L82.3 319.9 L83.1 320.7 L83.9 319.9 L84.7 317.8 L85.5 316.1 L86.3 317.2 L87.1 313.8 L87.9 312.0 L88.8 309.6 L89.6 309.4 L90.4 312.9 L91.2 314.9 L92.0 320.2 L92.8 323.6 L93.6 328.2 L94.4 327.3 L95.2 324.0 L96.0 322.1 L96.9 317.2 L97.7 309.5 L98.5 302.4 L99.3 295.1 L100.1 286.4 L100.9 278.0 L100.9 292.0 L100.1 299.4 L99.3 306.7 L98.5 313.8 L97.7 322.6 L96.9 328.5 L96.0 335.4 L95.2 336.8 L94.4 340.6 L93.6 341.1 L92.8 335.4 L92.0 330.7 L91.2 327.4 L90.4 324.2 L89.6 318.9 L88.8 321.2 L87.9 323.7 L87.1 326.6 L86.3 328.6 L85.5 329.2 L84.7 330.3 L83.9 331.9 L83.1 331.5 L82.3 330.9 L81.5 330.4 L80.7 332.4 L79.8 332.2 L79.0 332.5 L78.2 329.4 L77.4 325.2 L76.6 321.1 L75.8 318.9 L75.0 314.0 L74.2 312.8 L73.4 310.5 L72.6 308.6 L71.7 307.0 L70.9 306.6 L70.1 306.9 L69.3 305.3 L68.5 296.5 L67.7 278.7Z" fill="#808080" fill-opacity="0.5"/>
<path d="M49.5 123.9C49.6 125.6 50.0 136.2 50.2 140.8C50.4 145.5 51.1 165.3 51.5 170.8C51.8 176.3 53.5 194.8 54.0 195.8C54.5 196.8 56.0 183.2 56.5 180.8C57.0 178.4 58.5 171.6 59.0 172.1C59.5 172.5 61.0 182.9 61.5 185.8C62.0 188.7 63.5 201.0 64.0 200.8C64.5 200.5 66.0 187.6 66.5 183.3C66.9 179.0 68.0 160.1 68.5 157.8C68.9 155.6 70.4 159.0 71.0 160.8C71.5 162.6 73.3 173.8 73.9 175.8C74.6 177.8 77.1 179.8 77.7 180.8C78.3 181.8 79.7 183.3 80.2 185.8C80.7 188.3 82.2 203.0 82.7 205.8C83.2 208.5 84.6 212.4 85.2 213.2C85.8 214.1 88.0 213.7 88.9 214.5C89.8 215.2 92.9 219.7 93.9 220.7C94.9 221.7 98.2 224.7 98.9 224.5C99.7 224.2 100.9 221.5 101.4 218.2C101.9 215.0 103.8 194.0 104.4 192.0C105.0 190.0 107.1 197.9 107.6 198.3C108.2 198.6 109.6 197.6 110.1 195.8C110.6 193.9 112.1 182.2 112.6 179.5C113.1 176.9 114.6 169.9 115.1 169.6C115.7 169.2 117.9 173.9 118.4 175.8C118.9 177.7 119.8 189.8 120.1 188.3C120.5 186.8 121.5 168.6 121.9 160.8C122.2 153.1 123.0 117.3 123.4 110.9C123.8 104.5 125.2 98.7 125.9 97.2C126.5 95.6 129.3 95.4 130.1 95.4C130.9 95.4 133.0 97.1 133.8 97.2C134.7 97.2 137.9 95.8 138.8 95.9C139.8 96.0 142.8 97.7 143.8 98.4C144.8 99.2 147.8 102.8 148.8 103.4C149.8 104.0 152.9 105.1 153.8 104.7C154.7 104.2 156.8 99.7 157.6 98.4C158.3 97.2 160.6 92.8 161.3 92.2C162.1 91.5 164.4 91.3 165.1 92.2C165.7 93.0 167.1 99.2 167.6 100.9C168.0 102.7 169.4 110.0 170.1 109.6C170.7 109.3 173.1 98.5 173.8 97.2C174.5 95.8 176.8 95.3 177.5 95.9C178.3 96.5 180.7 101.2 181.3 103.4C181.9 105.6 183.3 115.1 183.8 118.4C184.3 121.6 185.8 132.4 186.3 135.8C186.8 139.3 188.3 149.8 188.8 153.3C189.3 156.8 191.0 169.1 191.3 170.8" stroke="#8c8cee" stroke-opacity="0.6" stroke-width="5" fill="none" stroke-linejoin="round"/>
<path d="M49.5 123.9C49.8 123.9 51.9 125.2 52.7 124.6C53.5 124.1 56.7 119.2 57.7 118.4C58.7 117.6 61.6 117.1 62.7 116.4C63.8 115.6 67.8 111.6 69.0 110.9C70.1 110.2 73.2 111.4 73.9 109.6C74.7 107.9 75.9 96.6 76.4 93.4C77.0 90.2 78.8 78.7 79.4 77.9C80.1 77.2 81.9 84.3 82.7 85.9C83.5 87.5 86.5 95.0 87.7 93.9C88.8 92.8 92.9 75.6 93.9 74.7C94.9 73.8 96.9 82.3 97.7 84.7C98.4 87.1 100.7 96.5 101.4 98.4C102.1 100.3 104.5 105.6 105.2 103.9C105.8 102.2 107.1 85.3 107.6 80.9C108.1 76.6 109.5 61.7 110.1 60.2C110.8 58.7 113.6 63.4 114.4 66.0C115.1 68.5 117.0 82.8 117.6 85.9C118.3 89.1 120.1 96.4 120.9 97.2C121.6 98.0 124.2 94.9 125.1 93.9C126.0 92.9 128.9 87.2 129.6 87.2C130.4 87.1 132.1 91.9 132.6 93.4C133.2 94.9 134.6 101.9 135.1 102.2C135.6 102.4 137.0 97.4 137.6 95.9C138.2 94.4 140.3 86.7 140.8 87.2C141.3 87.7 142.0 99.0 142.6 100.9C143.1 102.8 145.5 105.2 146.3 105.9C147.2 106.6 150.3 107.4 151.3 107.9C152.3 108.4 155.3 109.2 156.3 110.9C157.3 112.6 160.3 124.1 161.3 124.6C162.3 125.1 165.4 117.0 166.3 115.9C167.2 114.8 169.3 112.9 170.1 113.4C170.8 113.9 173.2 119.8 173.8 120.9C174.4 121.9 175.5 124.1 176.3 123.9C177.0 123.6 180.3 119.2 181.3 118.4C182.3 117.5 185.3 115.9 186.3 115.4C187.3 114.8 190.8 113.1 191.3 112.9" stroke="#9ad79a" stroke-opacity="0.85" stroke-width="3.8" fill="none" stroke-linejoin="round"/>
<path d="M49.5 123.9C49.6 125.6 50.0 136.2 50.2 140.8C50.4 145.5 51.1 165.3 51.5 170.8C51.8 176.3 53.5 194.8 54.0 195.8C54.5 196.8 56.0 183.2 56.5 180.8C57.0 178.4 58.5 171.6 59.0 172.1C59.5 172.5 61.0 182.9 61.5 185.8C62.0 188.7 63.5 201.0 64.0 200.8C64.5 200.5 66.0 187.6 66.5 183.3C66.9 179.0 68.0 160.1 68.5 157.8C68.9 155.6 70.4 159.0 71.0 160.8C71.5 162.6 73.3 173.8 73.9 175.8C74.6 177.8 77.1 179.8 77.7 180.8C78.3 181.8 79.7 183.3 80.2 185.8C80.7 188.3 82.2 203.0 82.7 205.8C83.2 208.5 84.6 212.4 85.2 213.2C85.8 214.1 88.0 213.7 88.9 214.5C89.8 215.2 92.9 219.7 93.9 220.7C94.9 221.7 98.2 224.7 98.9 224.5C99.7 224.2 100.9 221.5 101.4 218.2C101.9 215.0 103.8 194.0 104.4 192.0C105.0 190.0 107.1 197.9 107.6 198.3C108.2 198.6 109.6 197.6 110.1 195.8C110.6 193.9 112.1 182.2 112.6 179.5C113.1 176.9 114.6 169.9 115.1 169.6C115.7 169.2 117.9 173.9 118.4 175.8C118.9 177.7 119.8 189.8 120.1 188.3C120.5 186.8 121.5 168.6 121.9 160.8C122.2 153.1 123.0 117.3 123.4 110.9C123.8 104.5 125.2 98.7 125.9 97.2C126.5 95.6 129.3 95.4 130.1 95.4C130.9 95.4 133.0 97.1 133.8 97.2C134.7 97.2 137.9 95.8 138.8 95.9C139.8 96.0 142.8 97.7 143.8 98.4C144.8 99.2 147.8 102.8 148.8 103.4C149.8 104.0 152.9 105.1 153.8 104.7C154.7 104.2 156.8 99.7 157.6 98.4C158.3 97.2 160.6 92.8 161.3 92.2C162.1 91.5 164.4 91.3 165.1 92.2C165.7 93.0 167.1 99.2 167.6 100.9C168.0 102.7 169.4 110.0 170.1 109.6C170.7 109.3 173.1 98.5 173.8 97.2C174.5 95.8 176.8 95.3 177.5 95.9C178.3 96.5 180.7 101.2 181.3 103.4C181.9 105.6 183.3 115.1 183.8 118.4C184.3 121.6 185.8 132.4 186.3 135.8C186.8 139.3 188.3 149.8 188.8 153.3C189.3 156.8 191.0 169.1 191.3 170.8" stroke="#15157a" stroke-width="1.70" fill="none" stroke-linejoin="round"/>
<path d="M49.5 135.8C49.7 139.8 51.0 169.2 51.5 175.8C52.0 182.4 53.9 202.5 54.5 202.0C55.0 201.5 56.5 175.4 57.0 170.8C57.4 166.2 58.6 155.2 59.0 155.8C59.4 156.5 60.6 172.0 61.0 177.4C61.3 182.8 62.3 204.6 62.7 209.9C63.1 215.1 64.7 223.4 65.2 229.9C65.7 236.4 67.3 267.9 67.7 274.8C68.1 281.7 68.5 295.8 69.0 298.5C69.4 301.3 72.1 301.1 72.7 302.3C73.3 303.4 74.6 307.4 75.2 309.7C75.8 312.0 78.2 323.7 78.9 325.2C79.7 326.8 81.9 325.5 82.7 325.2C83.4 324.9 85.7 323.4 86.4 322.2C87.1 321.1 88.9 313.2 89.4 313.5C90.0 313.7 91.5 322.5 91.9 324.7C92.4 327.0 93.5 335.7 93.9 336.0C94.4 336.2 96.0 329.8 96.4 327.2C96.9 324.6 98.0 314.0 98.4 309.7C98.9 305.5 100.5 291.8 100.9 284.8C101.3 277.8 102.3 248.6 102.7 239.8C103.0 231.1 104.0 199.7 104.4 197.4C104.8 195.2 106.0 213.1 106.4 217.4C106.8 221.6 108.0 236.4 108.4 239.8C108.8 243.3 109.8 254.6 110.1 252.3C110.5 250.1 111.6 224.1 111.9 217.4C112.2 210.6 113.0 190.9 113.4 184.9C113.7 178.9 115.0 158.0 115.4 157.5C115.8 157.0 117.3 175.8 117.6 179.9C118.0 184.0 118.6 197.2 118.9 198.7C119.2 200.2 120.5 200.5 120.9 194.9C121.2 189.3 122.3 150.9 122.6 142.5C123.0 134.1 124.0 114.2 124.4 110.9C124.7 107.6 125.8 109.1 126.4 109.6C126.9 110.1 129.4 115.9 130.1 115.9C130.9 115.9 133.1 110.6 133.8 109.6C134.6 108.6 136.9 105.8 137.6 105.9C138.3 106.0 140.6 111.4 141.3 110.9C142.1 110.4 144.3 102.3 145.1 100.9C145.8 99.5 148.1 97.5 148.8 97.2C149.6 96.8 151.8 96.8 152.6 97.2C153.3 97.5 155.8 97.0 156.3 100.9C156.8 104.8 157.2 127.1 157.6 135.8C157.9 144.6 159.6 185.8 160.1 188.3C160.6 190.8 162.1 166.6 162.6 160.8C163.0 155.1 163.9 134.2 164.3 130.9C164.7 127.5 165.7 127.2 166.3 127.1C166.9 127.0 169.3 130.2 170.1 129.6C170.8 129.0 173.1 121.3 173.8 120.9C174.5 120.5 176.8 123.9 177.5 125.9C178.3 127.9 180.7 137.4 181.3 140.8C181.9 144.3 183.2 156.6 183.8 160.8C184.4 165.1 186.8 179.5 187.5 183.3C188.2 187.0 190.4 196.8 190.8 198.3" stroke="#0c0c0c" stroke-width="1.90" fill="none" stroke-linejoin="round"/>
<path d="M49.5 123.9C49.8 123.9 51.9 125.2 52.7 124.6C53.5 124.1 56.7 119.2 57.7 118.4C58.7 117.6 61.6 117.1 62.7 116.4C63.8 115.6 67.8 111.6 69.0 110.9C70.1 110.2 73.2 111.4 73.9 109.6C74.7 107.9 75.9 96.6 76.4 93.4C77.0 90.2 78.8 78.7 79.4 77.9C80.1 77.2 81.9 84.3 82.7 85.9C83.5 87.5 86.5 95.0 87.7 93.9C88.8 92.8 92.9 75.6 93.9 74.7C94.9 73.8 96.9 82.3 97.7 84.7C98.4 87.1 100.7 96.5 101.4 98.4C102.1 100.3 104.5 105.6 105.2 103.9C105.8 102.2 107.1 85.3 107.6 80.9C108.1 76.6 109.5 61.7 110.1 60.2C110.8 58.7 113.6 63.4 114.4 66.0C115.1 68.5 117.0 82.8 117.6 85.9C118.3 89.1 120.1 96.4 120.9 97.2C121.6 98.0 124.2 94.9 125.1 93.9C126.0 92.9 128.9 87.2 129.6 87.2C130.4 87.1 132.1 91.9 132.6 93.4C133.2 94.9 134.6 101.9 135.1 102.2C135.6 102.4 137.0 97.4 137.6 95.9C138.2 94.4 140.3 86.7 140.8 87.2C141.3 87.7 142.0 99.0 142.6 100.9C143.1 102.8 145.5 105.2 146.3 105.9C147.2 106.6 150.3 107.4 151.3 107.9C152.3 108.4 155.3 109.2 156.3 110.9C157.3 112.6 160.3 124.1 161.3 124.6C162.3 125.1 165.4 117.0 166.3 115.9C167.2 114.8 169.3 112.9 170.1 113.4C170.8 113.9 173.2 119.8 173.8 120.9C174.4 121.9 175.5 124.1 176.3 123.9C177.0 123.6 180.3 119.2 181.3 118.4C182.3 117.5 185.3 115.9 186.3 115.4C187.3 114.8 190.8 113.1 191.3 112.9" stroke="#184a1e" stroke-width="1.75" fill="none" stroke-linejoin="round"/>
</g>
</g>
<rect x="48.5" y="39.8" width="142.7" height="307.7" fill="none" stroke="#484848" stroke-width="1.5"/>
<rect x="48.5" y="24.8" width="142.7" height="15.0" fill="#cbcbcb" stroke="#484848" stroke-width="1.5"/>
<text x="119.8" y="35.7" font-size="8.6" text-anchor="middle" fill="#151515" stroke="#151515" stroke-width="0.25">12</text>
<path d="M79.3 347.5v3.2M112.5 347.5v3.2M145.6 347.5v3.2M178.9 347.5v3.2" stroke="#333" stroke-width="1" fill="none"/>
<text transform="translate(100.7 366.3) rotate(-45)" font-size="12.8" text-anchor="end" fill="#161616" stroke="#161616" stroke-width="0.3">jul 2020</text>
<text transform="translate(133.9 366.3) rotate(-45)" font-size="12.8" text-anchor="end" fill="#161616" stroke="#161616" stroke-width="0.3">okt 2020</text>
<text transform="translate(167.0 366.3) rotate(-45)" font-size="12.8" text-anchor="end" fill="#161616" stroke="#161616" stroke-width="0.3">jan 2021</text>
<text transform="translate(200.3 366.3) rotate(-45)" font-size="12.8" text-anchor="end" fill="#161616" stroke="#161616" stroke-width="0.3">apr 2021</text>
<g clip-path="url(#c_a2)">
<rect x="196.8" y="39.8" width="142.0" height="307.7" fill="#fff"/>
<path d="M196.8 93.5H338.8M196.8 184.6H338.8M196.8 275.8H338.8M211.1 39.8V347.5M244.2 39.8V347.5M277.3 39.8V347.5M310.5 39.8V347.5" stroke="#f2f2f2" stroke-width="0.8" fill="none"/>
<path d="M196.8 48.0H338.8M196.8 139.1H338.8M196.8 230.2H338.8M196.8 321.3H338.8M227.6 39.8V347.5M260.8 39.8V347.5M293.9 39.8V347.5M327.2 39.8V347.5" stroke="#e8e8e8" stroke-width="1" fill="none"/>
<g clip-path="url(#h_a2)"><g filter="url(#bl)">
<rect x="194.8" y="159.3" width="146.0" height="95.3" fill="url(#g_a2_0)"/>
<rect x="194.8" y="159.3" width="146.0" height="95.3" fill="url(#g_a2_1)" mask="url(#mk1)"/>
<rect x="194.8" y="159.3" width="146.0" height="95.3" fill="url(#g_a2_2)" mask="url(#mk2)"/>
<rect x="194.8" y="159.3" width="146.0" height="95.3" fill="url(#g_a2_3)" mask="url(#mk3)"/>
</g></g>
<path d="M196.8 160.9H338.8" stroke="#fff3a0" stroke-opacity="0.7" stroke-width="1"/><path d="M196.8 253.1H338.8" stroke="#a8ecf6" stroke-opacity="0.8" stroke-width="1.2"/>
<path d="M196.8 139.1H338.8" stroke="#9c5555" stroke-opacity="0.9" stroke-width="1.55" stroke-dasharray="2.60 2.70" fill="none"/>
<g filter="url(#bl2)">
<path d="M196.5 101.1 L197.3 103.4 L198.1 105.4 L198.9 110.0 L199.7 112.7 L200.5 111.1 L201.3 110.9 L202.1 111.5 L202.9 111.5 L203.7 109.8 L204.5 110.3 L205.3 108.4 L206.1 109.1 L206.9 106.9 L207.7 108.0 L208.5 107.5 L209.3 105.2 L210.1 104.9 L211.0 104.2 L211.8 104.0 L212.6 100.9 L213.4 99.9 L214.2 98.9 L215.0 95.1 L215.8 93.6 L216.6 91.4 L217.4 92.0 L218.2 93.0 L219.0 94.5 L219.8 98.5 L220.6 99.4 L221.4 97.6 L222.2 97.0 L223.0 95.7 L223.8 92.7 L224.6 93.1 L225.4 91.3 L226.2 92.2 L227.0 91.9 L227.8 93.5 L228.6 93.9 L229.4 92.7 L230.2 93.0 L231.0 94.2 L231.9 94.6 L232.7 96.0 L233.5 98.1 L234.3 100.8 L235.1 101.1 L235.9 100.5 L236.7 99.8 L237.5 96.7 L238.3 95.2 L239.1 94.3 L239.9 93.9 L240.7 90.8 L241.5 88.6 L242.3 84.4 L243.1 82.6 L243.9 78.3 L244.7 74.2 L245.5 72.6 L246.3 70.4 L247.1 67.3 L247.9 72.0 L248.7 73.7 L249.5 79.6 L250.3 81.8 L251.1 86.2 L251.9 89.1 L252.8 94.0 L253.6 93.5 L254.4 92.6 L255.2 91.7 L256.0 88.6 L256.8 87.3 L257.6 84.6 L258.4 82.4 L259.2 80.3 L260.0 80.1 L260.8 80.6 L261.6 77.8 L262.4 76.7 L263.2 81.4 L264.0 83.6 L264.8 84.9 L265.6 88.2 L266.4 88.5 L267.2 90.6 L268.0 92.5 L268.8 94.4 L269.6 96.4 L270.4 95.3 L271.2 98.1 L272.0 98.0 L272.9 100.2 L273.7 100.1 L274.5 102.7 L275.3 103.0 L276.1 104.6 L276.9 106.7 L277.7 106.1 L278.5 106.3 L279.3 106.2 L280.1 106.3 L280.9 106.1 L281.7 105.3 L282.5 104.5 L283.3 105.0 L284.1 105.6 L284.9 106.1 L285.7 107.7 L286.5 108.3 L287.3 107.9 L288.1 110.6 L288.9 109.0 L289.7 108.4 L290.5 111.2 L291.3 111.1 L292.1 111.0 L292.9 111.6 L293.8 110.9 L294.6 112.6 L295.4 113.2 L296.2 111.7 L297.0 112.8 L297.8 112.6 L298.6 112.5 L299.4 113.2 L300.2 113.8 L301.0 114.4 L301.8 114.1 L302.6 114.5 L303.4 114.1 L304.2 114.4 L305.0 116.1 L305.8 116.7 L306.6 116.5 L307.4 116.5 L308.2 118.0 L309.0 120.0 L309.8 120.7 L310.6 119.9 L311.4 121.1 L312.2 119.5 L313.0 118.0 L313.8 118.3 L314.7 116.5 L315.5 117.2 L316.3 114.3 L317.1 115.6 L317.9 115.2 L318.7 113.5 L319.5 114.1 L320.3 114.2 L321.1 112.9 L321.9 113.1 L322.7 113.7 L323.5 113.9 L324.3 114.9 L325.1 115.2 L325.9 112.9 L326.7 113.3 L327.5 114.6 L328.3 112.4 L329.1 112.2 L329.9 112.7 L330.7 114.2 L331.5 113.1 L332.3 112.9 L333.1 113.1 L333.9 113.7 L334.8 113.4 L335.6 114.1 L336.4 113.4 L337.2 112.2 L338.0 109.9 L338.8 109.0 L338.8 124.9 L338.0 126.3 L337.2 124.8 L336.4 127.6 L335.6 127.8 L334.8 127.6 L333.9 127.9 L333.1 127.1 L332.3 127.8 L331.5 125.8 L330.7 128.1 L329.9 128.9 L329.1 128.0 L328.3 127.3 L327.5 128.6 L326.7 128.2 L325.9 128.5 L325.1 129.1 L324.3 127.7 L323.5 127.0 L322.7 128.7 L321.9 129.3 L321.1 129.3 L320.3 130.1 L319.5 130.0 L318.7 131.3 L317.9 130.7 L317.1 130.8 L316.3 130.1 L315.5 131.3 L314.7 132.3 L313.8 132.0 L313.0 134.9 L312.2 134.4 L311.4 134.5 L310.6 133.1 L309.8 134.5 L309.0 131.7 L308.2 132.5 L307.4 133.7 L306.6 133.1 L305.8 133.6 L305.0 132.6 L304.2 130.7 L303.4 128.9 L302.6 128.6 L301.8 127.2 L301.0 127.6 L300.2 128.5 L299.4 127.2 L298.6 125.9 L297.8 126.1 L297.0 125.0 L296.2 125.2 L295.4 126.4 L294.6 128.1 L293.8 126.9 L292.9 126.8 L292.1 125.3 L291.3 124.9 L290.5 123.3 L289.7 124.7 L288.9 125.3 L288.1 123.5 L287.3 125.0 L286.5 123.4 L285.7 122.5 L284.9 120.6 L284.1 120.2 L283.3 121.4 L282.5 121.6 L281.7 120.9 L280.9 120.3 L280.1 121.2 L279.3 121.7 L278.5 120.9 L277.7 122.4 L276.9 123.2 L276.1 120.1 L275.3 118.7 L274.5 117.4 L273.7 115.4 L272.9 113.6 L272.0 113.3 L271.2 111.7 L270.4 112.3 L269.6 110.1 L268.8 109.3 L268.0 109.4 L267.2 106.3 L266.4 103.6 L265.6 102.0 L264.8 101.4 L264.0 98.3 L263.2 95.4 L262.4 91.5 L261.6 92.5 L260.8 92.7 L260.0 96.0 L259.2 95.2 L258.4 95.5 L257.6 98.1 L256.8 99.1 L256.0 100.7 L255.2 104.6 L254.4 107.3 L253.6 107.9 L252.8 106.6 L251.9 103.0 L251.1 100.8 L250.3 97.7 L249.5 94.2 L248.7 89.2 L247.9 84.5 L247.1 81.9 L246.3 83.1 L245.5 88.3 L244.7 90.9 L243.9 92.9 L243.1 97.2 L242.3 100.9 L241.5 103.5 L240.7 105.4 L239.9 108.2 L239.1 109.1 L238.3 110.5 L237.5 113.6 L236.7 114.8 L235.9 114.6 L235.1 114.1 L234.3 112.0 L233.5 112.2 L232.7 109.9 L231.9 110.6 L231.0 108.3 L230.2 109.2 L229.4 108.5 L228.6 107.5 L227.8 107.1 L227.0 104.9 L226.2 104.5 L225.4 105.9 L224.6 106.8 L223.8 110.3 L223.0 112.1 L222.2 112.7 L221.4 113.8 L220.6 115.4 L219.8 111.6 L219.0 110.4 L218.2 110.1 L217.4 105.8 L216.6 103.5 L215.8 105.2 L215.0 108.0 L214.2 113.0 L213.4 113.8 L212.6 115.5 L211.8 117.1 L211.0 120.3 L210.1 118.8 L209.3 121.5 L208.5 122.3 L207.7 123.4 L206.9 122.5 L206.1 124.1 L205.3 124.8 L204.5 124.4 L203.7 126.7 L202.9 127.3 L202.1 126.7 L201.3 127.7 L200.5 127.2 L199.7 126.4 L198.9 123.9 L198.1 121.5 L197.3 119.5 L196.5 115.3Z" fill="#858585" fill-opacity="0.5"/>
<path d="M271.9 119.8 L272.7 120.1 L273.5 120.3 L274.3 119.9 L275.1 119.3 L275.9 118.8 L276.7 118.5 L277.5 117.0 L278.3 119.0 L279.1 117.6 L279.9 119.4 L280.7 120.8 L281.5 119.3 L282.3 118.5 L283.2 119.6 L284.0 118.4 L284.8 120.3 L285.6 119.0 L286.4 118.9 L287.2 119.8 L288.0 118.2 L288.8 117.5 L289.6 116.7 L290.4 114.6 L291.2 113.0 L292.0 112.5 L292.8 112.8 L293.6 113.4 L294.4 113.3 L295.2 115.4 L296.1 114.6 L296.9 116.0 L297.7 117.9 L298.5 117.4 L299.3 118.8 L300.1 118.1 L300.9 119.8 L301.7 119.5 L302.5 120.2 L303.3 122.3 L304.1 120.2 L304.9 120.4 L305.7 123.4 L306.5 123.0 L307.3 123.8 L308.1 122.5 L308.9 122.0 L309.8 120.9 L310.6 118.7 L311.4 117.9 L312.2 120.6 L313.0 120.1 L313.8 121.7 L314.6 121.3 L315.4 123.8 L316.2 126.0 L317.0 125.6 L317.8 122.7 L318.6 122.9 L319.4 120.6 L320.2 118.5 L321.0 119.8 L321.8 119.8 L322.6 118.9 L323.5 119.2 L324.3 119.4 L325.1 118.7 L325.9 119.0 L326.7 120.0 L327.5 121.6 L328.3 121.0 L329.1 122.9 L329.9 122.7 L330.7 123.9 L331.5 124.3 L332.3 124.7 L333.1 123.0 L333.9 123.2 L334.7 123.5 L335.5 122.4 L336.4 122.4 L337.2 121.6 L338.0 121.3 L338.8 120.8 L338.8 130.3 L338.0 131.1 L337.2 129.8 L336.4 130.6 L335.5 131.1 L334.7 130.3 L333.9 131.2 L333.1 132.6 L332.3 132.3 L331.5 132.7 L330.7 132.3 L329.9 132.4 L329.1 134.1 L328.3 134.8 L327.5 134.2 L326.7 133.8 L325.9 133.8 L325.1 132.5 L324.3 133.4 L323.5 133.3 L322.6 133.1 L321.8 133.5 L321.0 134.0 L320.2 136.0 L319.4 137.6 L318.6 137.8 L317.8 137.3 L317.0 137.5 L316.2 138.6 L315.4 139.1 L314.6 137.6 L313.8 136.0 L313.0 133.7 L312.2 133.4 L311.4 134.1 L310.6 135.5 L309.8 137.8 L308.9 136.5 L308.1 138.2 L307.3 137.4 L306.5 136.2 L305.7 136.1 L304.9 134.6 L304.1 135.0 L303.3 133.5 L302.5 133.4 L301.7 134.1 L300.9 132.2 L300.1 133.9 L299.3 132.5 L298.5 132.2 L297.7 133.1 L296.9 131.9 L296.1 130.1 L295.2 131.3 L294.4 131.3 L293.6 129.2 L292.8 126.8 L292.0 127.2 L291.2 128.2 L290.4 128.3 L289.6 129.4 L288.8 130.8 L288.0 131.6 L287.2 133.4 L286.4 133.7 L285.6 133.1 L284.8 133.8 L284.0 134.2 L283.2 131.8 L282.3 132.6 L281.5 134.2 L280.7 133.5 L279.9 133.1 L279.1 134.3 L278.3 133.5 L277.5 131.7 L276.7 133.1 L275.9 131.5 L275.1 129.6 L274.3 129.7 L273.5 131.2 L272.7 130.5 L271.9 129.1Z" fill="#858585" fill-opacity="0.5"/>
<path d="M196.5 160.8C196.7 163.3 197.7 182.0 198.2 185.8C198.7 189.5 200.8 199.3 201.5 198.3C202.1 197.3 203.9 179.5 204.5 175.8C205.0 172.1 206.5 160.7 207.0 160.8C207.5 161.0 209.0 173.8 209.5 177.4C210.0 181.1 211.5 193.2 212.0 197.4C212.5 201.7 214.0 216.1 214.4 219.9C214.9 223.6 216.3 232.4 216.9 234.8C217.6 237.3 220.1 242.6 220.7 244.8C221.3 247.1 222.7 253.6 223.2 257.3C223.7 261.1 225.2 279.5 225.7 282.3C226.2 285.0 227.6 284.7 228.2 284.8C228.8 284.9 231.3 282.8 231.9 283.5C232.6 284.3 234.4 290.6 234.9 292.3C235.5 293.9 236.9 297.8 237.4 299.8C237.9 301.8 239.5 310.6 239.9 312.2C240.4 313.9 241.5 316.5 241.9 316.0C242.4 315.5 243.9 309.1 244.4 307.2C244.9 305.4 246.5 302.0 246.9 297.3C247.4 292.5 248.5 266.8 248.9 259.8C249.3 252.8 250.3 232.1 250.7 227.4C251.0 222.7 251.6 212.9 251.9 212.9C252.2 212.9 253.5 222.7 253.9 227.4C254.3 232.1 255.3 255.0 255.6 259.8C256.0 264.7 257.1 278.5 257.4 276.0C257.7 273.5 258.6 243.5 258.9 234.8C259.2 226.2 260.3 196.7 260.6 189.9C261.0 183.2 262.1 170.2 262.4 167.4C262.7 164.7 263.6 158.5 263.9 162.5C264.2 166.5 265.3 200.9 265.6 207.4C266.0 213.9 267.0 228.4 267.4 227.4C267.8 226.4 269.0 206.4 269.4 197.4C269.8 188.4 271.0 144.9 271.4 137.5C271.7 130.1 272.6 124.7 273.1 123.4C273.7 122.1 276.1 124.4 276.9 124.6C277.6 124.9 279.9 125.5 280.6 125.9C281.4 126.2 283.6 128.5 284.4 128.4C285.1 128.2 287.5 125.4 288.1 124.6C288.7 123.9 290.0 121.1 290.6 120.9C291.2 120.6 293.6 121.9 294.3 122.1C295.1 122.4 297.3 123.1 298.1 123.4C298.8 123.6 301.2 123.4 301.8 124.6C302.4 125.9 303.4 132.2 303.8 135.8C304.2 139.5 305.2 154.2 305.6 160.8C305.9 167.4 307.1 202.0 307.6 202.0C308.0 202.0 309.4 169.4 309.8 160.8C310.2 152.2 311.4 119.1 311.8 115.9C312.3 112.6 313.7 125.4 314.3 128.4C314.9 131.4 317.3 144.8 318.1 145.8C318.8 146.8 321.1 138.6 321.8 138.3C322.5 138.1 324.8 141.1 325.5 143.3C326.2 145.6 328.2 156.6 328.8 160.8C329.4 165.1 330.9 181.8 331.3 185.8C331.7 189.8 332.6 199.8 333.0 200.8C333.5 201.8 335.0 198.3 335.5 195.8C336.1 193.3 338.4 177.8 338.8 175.8" stroke="#9a9a9a" stroke-opacity="0.5" stroke-width="4.8" fill="none" stroke-linejoin="round"/>
<path d="M223.2 253.2 L224.0 261.5 L224.8 269.1 L225.6 277.7 L226.4 276.7 L227.3 279.1 L228.1 278.9 L228.9 279.1 L229.7 277.6 L230.5 278.9 L231.3 277.4 L232.1 278.5 L233.0 280.3 L233.8 283.9 L234.6 287.0 L235.4 287.9 L236.2 289.6 L237.0 292.7 L237.8 296.7 L238.7 299.6 L239.5 302.8 L240.3 307.4 L241.1 309.6 L241.9 312.0 L242.7 307.8 L243.5 305.1 L244.4 301.3 L245.2 298.7 L246.0 295.5 L246.8 292.8 L247.6 279.5 L248.4 264.4 L249.2 255.6 L250.1 255.8 L250.9 256.0 L251.7 254.8 L252.5 253.4 L253.3 254.5 L254.1 255.1 L254.9 255.3 L255.8 255.0 L256.6 262.7 L257.4 271.4 L257.4 281.4 L256.6 273.9 L255.8 266.9 L254.9 266.0 L254.1 265.8 L253.3 266.0 L252.5 266.3 L251.7 264.7 L250.9 265.9 L250.1 267.5 L249.2 267.2 L248.4 275.0 L247.6 290.8 L246.8 303.6 L246.0 306.6 L245.2 308.8 L244.4 312.3 L243.5 315.6 L242.7 319.2 L241.9 321.4 L241.1 319.4 L240.3 319.6 L239.5 316.2 L238.7 313.1 L237.8 308.6 L237.0 305.8 L236.2 302.1 L235.4 300.4 L234.6 297.2 L233.8 293.8 L233.0 291.9 L232.1 291.2 L231.3 289.2 L230.5 291.4 L229.7 291.7 L228.9 291.4 L228.1 291.9 L227.3 289.8 L226.4 288.5 L225.6 287.1 L224.8 277.6 L224.0 270.4 L223.2 261.4Z" fill="#808080" fill-opacity="0.5"/>
<path d="M196.5 153.3C196.7 155.1 197.7 167.6 198.2 170.8C198.7 174.0 200.8 187.5 201.5 185.8C202.1 184.0 203.9 158.3 204.5 153.3C205.0 148.3 206.5 136.1 207.0 135.8C207.5 135.6 209.0 146.8 209.5 150.8C210.0 154.8 211.5 171.1 212.0 175.8C212.5 180.5 214.0 194.6 214.4 198.3C214.9 201.9 216.2 210.4 216.9 212.0C217.7 213.5 220.9 213.4 221.9 213.7C222.9 214.1 226.1 216.0 226.9 215.2C227.8 214.4 229.9 207.9 230.7 205.8C231.4 203.6 233.7 194.6 234.4 193.3C235.1 191.9 236.8 190.3 237.4 192.0C238.0 193.8 240.0 208.7 240.7 210.7C241.4 212.7 243.7 213.5 244.4 212.0C245.2 210.5 247.4 199.8 248.2 195.8C248.9 191.8 251.3 173.8 251.9 172.1C252.5 170.3 253.9 176.4 254.4 178.3C254.9 180.2 256.3 192.0 256.9 190.8C257.4 189.5 259.3 170.2 259.9 165.8C260.4 161.4 261.8 147.2 262.4 147.1C263.0 147.0 265.1 163.9 265.6 164.6C266.2 165.2 267.7 156.7 268.1 153.3C268.5 150.0 269.5 136.6 269.9 130.9C270.2 125.1 271.0 99.5 271.4 95.9C271.8 92.3 273.3 93.8 273.9 94.7C274.4 95.5 276.2 104.0 276.9 104.7C277.5 105.3 279.7 101.5 280.6 100.9C281.5 100.3 284.6 99.0 285.6 98.4C286.6 97.8 289.6 95.2 290.6 94.7C291.6 94.2 294.7 93.0 295.6 93.4C296.5 93.8 298.5 97.0 299.3 98.4C300.2 99.8 303.3 106.3 304.3 107.2C305.3 108.0 308.4 107.3 309.3 107.2C310.2 107.0 312.4 104.8 313.1 105.9C313.7 107.0 315.1 117.9 315.6 118.4C316.0 118.9 317.4 112.3 318.1 110.9C318.7 109.5 321.1 105.1 321.8 104.7C322.5 104.2 324.8 105.0 325.5 105.9C326.3 106.8 328.7 111.1 329.3 113.4C329.9 115.6 331.2 125.4 331.8 128.4C332.3 131.4 334.1 140.1 334.8 143.3C335.5 146.6 338.4 159.1 338.8 160.8" stroke="#8c8cee" stroke-opacity="0.6" stroke-width="5" fill="none" stroke-linejoin="round"/>
<path d="M196.5 108.4C196.8 109.5 198.8 118.6 199.5 119.6C200.1 120.6 202.5 118.8 203.2 118.4C204.0 118.0 206.1 116.1 207.0 115.4C207.8 114.6 211.0 112.7 212.0 110.9C212.9 109.1 215.6 97.4 216.4 97.2C217.3 96.9 219.8 108.4 220.7 108.4C221.6 108.4 224.7 97.9 225.7 97.2C226.7 96.4 229.7 99.8 230.7 100.9C231.7 102.0 234.5 109.0 235.7 108.4C236.8 107.8 240.8 98.0 241.9 94.7C243.0 91.3 246.0 75.1 246.9 74.7C247.8 74.3 250.0 88.2 250.7 90.9C251.3 93.7 252.4 102.3 253.2 102.2C253.9 102.0 257.2 91.4 258.1 89.7C259.1 87.9 261.6 84.1 262.4 84.7C263.1 85.3 264.9 94.0 265.6 95.9C266.3 97.8 268.6 102.4 269.4 103.4C270.1 104.4 272.4 104.7 273.1 105.9C273.9 107.1 276.0 115.1 276.9 115.9C277.7 116.6 280.9 113.4 281.9 113.4C282.8 113.4 285.9 115.4 286.9 115.9C287.8 116.4 290.8 118.0 291.8 118.4C292.8 118.8 295.8 119.3 296.8 119.6C297.8 120.0 300.8 121.5 301.8 122.1C302.8 122.7 305.8 125.4 306.8 125.9C307.8 126.4 310.8 127.5 311.8 127.1C312.8 126.7 315.8 122.6 316.8 122.1C317.8 121.6 320.8 122.2 321.8 122.1C322.8 122.0 325.8 121.1 326.8 120.9C327.8 120.6 330.6 119.9 331.8 119.6C333.0 119.4 338.1 118.5 338.8 118.4" stroke="#9ad79a" stroke-opacity="0.85" stroke-width="3.8" fill="none" stroke-linejoin="round"/>
<path d="M196.5 153.3C196.7 155.1 197.7 167.6 198.2 170.8C198.7 174.0 200.8 187.5 201.5 185.8C202.1 184.0 203.9 158.3 204.5 153.3C205.0 148.3 206.5 136.1 207.0 135.8C207.5 135.6 209.0 146.8 209.5 150.8C210.0 154.8 211.5 171.1 212.0 175.8C212.5 180.5 214.0 194.6 214.4 198.3C214.9 201.9 216.2 210.4 216.9 212.0C217.7 213.5 220.9 213.4 221.9 213.7C222.9 214.1 226.1 216.0 226.9 215.2C227.8 214.4 229.9 207.9 230.7 205.8C231.4 203.6 233.7 194.6 234.4 193.3C235.1 191.9 236.8 190.3 237.4 192.0C238.0 193.8 240.0 208.7 240.7 210.7C241.4 212.7 243.7 213.5 244.4 212.0C245.2 210.5 247.4 199.8 248.2 195.8C248.9 191.8 251.3 173.8 251.9 172.1C252.5 170.3 253.9 176.4 254.4 178.3C254.9 180.2 256.3 192.0 256.9 190.8C257.4 189.5 259.3 170.2 259.9 165.8C260.4 161.4 261.8 147.2 262.4 147.1C263.0 147.0 265.1 163.9 265.6 164.6C266.2 165.2 267.7 156.7 268.1 153.3C268.5 150.0 269.5 136.6 269.9 130.9C270.2 125.1 271.0 99.5 271.4 95.9C271.8 92.3 273.3 93.8 273.9 94.7C274.4 95.5 276.2 104.0 276.9 104.7C277.5 105.3 279.7 101.5 280.6 100.9C281.5 100.3 284.6 99.0 285.6 98.4C286.6 97.8 289.6 95.2 290.6 94.7C291.6 94.2 294.7 93.0 295.6 93.4C296.5 93.8 298.5 97.0 299.3 98.4C300.2 99.8 303.3 106.3 304.3 107.2C305.3 108.0 308.4 107.3 309.3 107.2C310.2 107.0 312.4 104.8 313.1 105.9C313.7 107.0 315.1 117.9 315.6 118.4C316.0 118.9 317.4 112.3 318.1 110.9C318.7 109.5 321.1 105.1 321.8 104.7C322.5 104.2 324.8 105.0 325.5 105.9C326.3 106.8 328.7 111.1 329.3 113.4C329.9 115.6 331.2 125.4 331.8 128.4C332.3 131.4 334.1 140.1 334.8 143.3C335.5 146.6 338.4 159.1 338.8 160.8" stroke="#15157a" stroke-width="1.70" fill="none" stroke-linejoin="round"/>
<path d="M196.5 160.8C196.7 163.3 197.7 182.0 198.2 185.8C198.7 189.5 200.8 199.3 201.5 198.3C202.1 197.3 203.9 179.5 204.5 175.8C205.0 172.1 206.5 160.7 207.0 160.8C207.5 161.0 209.0 173.8 209.5 177.4C210.0 181.1 211.5 193.2 212.0 197.4C212.5 201.7 214.0 216.1 214.4 219.9C214.9 223.6 216.3 232.4 216.9 234.8C217.6 237.3 220.1 242.6 220.7 244.8C221.3 247.1 222.7 253.6 223.2 257.3C223.7 261.1 225.2 279.5 225.7 282.3C226.2 285.0 227.6 284.7 228.2 284.8C228.8 284.9 231.3 282.8 231.9 283.5C232.6 284.3 234.4 290.6 234.9 292.3C235.5 293.9 236.9 297.8 237.4 299.8C237.9 301.8 239.5 310.6 239.9 312.2C240.4 313.9 241.5 316.5 241.9 316.0C242.4 315.5 243.9 309.1 244.4 307.2C244.9 305.4 246.5 302.0 246.9 297.3C247.4 292.5 248.5 266.8 248.9 259.8C249.3 252.8 250.3 232.1 250.7 227.4C251.0 222.7 251.6 212.9 251.9 212.9C252.2 212.9 253.5 222.7 253.9 227.4C254.3 232.1 255.3 255.0 255.6 259.8C256.0 264.7 257.1 278.5 257.4 276.0C257.7 273.5 258.6 243.5 258.9 234.8C259.2 226.2 260.3 196.7 260.6 189.9C261.0 183.2 262.1 170.2 262.4 167.4C262.7 164.7 263.6 158.5 263.9 162.5C264.2 166.5 265.3 200.9 265.6 207.4C266.0 213.9 267.0 228.4 267.4 227.4C267.8 226.4 269.0 206.4 269.4 197.4C269.8 188.4 271.0 144.9 271.4 137.5C271.7 130.1 272.6 124.7 273.1 123.4C273.7 122.1 276.1 124.4 276.9 124.6C277.6 124.9 279.9 125.5 280.6 125.9C281.4 126.2 283.6 128.5 284.4 128.4C285.1 128.2 287.5 125.4 288.1 124.6C288.7 123.9 290.0 121.1 290.6 120.9C291.2 120.6 293.6 121.9 294.3 122.1C295.1 122.4 297.3 123.1 298.1 123.4C298.8 123.6 301.2 123.4 301.8 124.6C302.4 125.9 303.4 132.2 303.8 135.8C304.2 139.5 305.2 154.2 305.6 160.8C305.9 167.4 307.1 202.0 307.6 202.0C308.0 202.0 309.4 169.4 309.8 160.8C310.2 152.2 311.4 119.1 311.8 115.9C312.3 112.6 313.7 125.4 314.3 128.4C314.9 131.4 317.3 144.8 318.1 145.8C318.8 146.8 321.1 138.6 321.8 138.3C322.5 138.1 324.8 141.1 325.5 143.3C326.2 145.6 328.2 156.6 328.8 160.8C329.4 165.1 330.9 181.8 331.3 185.8C331.7 189.8 332.6 199.8 333.0 200.8C333.5 201.8 335.0 198.3 335.5 195.8C336.1 193.3 338.4 177.8 338.8 175.8" stroke="#0c0c0c" stroke-width="1.90" fill="none" stroke-linejoin="round"/>
<path d="M196.5 108.4C196.8 109.5 198.8 118.6 199.5 119.6C200.1 120.6 202.5 118.8 203.2 118.4C204.0 118.0 206.1 116.1 207.0 115.4C207.8 114.6 211.0 112.7 212.0 110.9C212.9 109.1 215.6 97.4 216.4 97.2C217.3 96.9 219.8 108.4 220.7 108.4C221.6 108.4 224.7 97.9 225.7 97.2C226.7 96.4 229.7 99.8 230.7 100.9C231.7 102.0 234.5 109.0 235.7 108.4C236.8 107.8 240.8 98.0 241.9 94.7C243.0 91.3 246.0 75.1 246.9 74.7C247.8 74.3 250.0 88.2 250.7 90.9C251.3 93.7 252.4 102.3 253.2 102.2C253.9 102.0 257.2 91.4 258.1 89.7C259.1 87.9 261.6 84.1 262.4 84.7C263.1 85.3 264.9 94.0 265.6 95.9C266.3 97.8 268.6 102.4 269.4 103.4C270.1 104.4 272.4 104.7 273.1 105.9C273.9 107.1 276.0 115.1 276.9 115.9C277.7 116.6 280.9 113.4 281.9 113.4C282.8 113.4 285.9 115.4 286.9 115.9C287.8 116.4 290.8 118.0 291.8 118.4C292.8 118.8 295.8 119.3 296.8 119.6C297.8 120.0 300.8 121.5 301.8 122.1C302.8 122.7 305.8 125.4 306.8 125.9C307.8 126.4 310.8 127.5 311.8 127.1C312.8 126.7 315.8 122.6 316.8 122.1C317.8 121.6 320.8 122.2 321.8 122.1C322.8 122.0 325.8 121.1 326.8 120.9C327.8 120.6 330.6 119.9 331.8 119.6C333.0 119.4 338.1 118.5 338.8 118.4" stroke="#184a1e" stroke-width="1.75" fill="none" stroke-linejoin="round"/>
</g>
</g>
<rect x="196.8" y="39.8" width="142.0" height="307.7" fill="none" stroke="#484848" stroke-width="1.5"/>
<rect x="196.8" y="24.8" width="142.0" height="15.0" fill="#cbcbcb" stroke="#484848" stroke-width="1.5"/>
<text x="267.8" y="35.7" font-size="8.6" text-anchor="middle" fill="#151515" stroke="#151515" stroke-width="0.25">13</text>
<path d="M227.6 347.5v3.2M260.8 347.5v3.2M293.9 347.5v3.2M327.2 347.5v3.2" stroke="#333" stroke-width="1" fill="none"/>
<text transform="translate(249.0 366.3) rotate(-45)" font-size="12.8" text-anchor="end" fill="#161616" stroke="#161616" stroke-width="0.3">jul 2020</text>
<text transform="translate(282.2 366.3) rotate(-45)" font-size="12.8" text-anchor="end" fill="#161616" stroke="#161616" stroke-width="0.3">okt 2020</text>
<text transform="translate(315.3 366.3) rotate(-45)" font-size="12.8" text-anchor="end" fill="#161616" stroke="#161616" stroke-width="0.3">jan 2021</text>
<text transform="translate(348.6 366.3) rotate(-45)" font-size="12.8" text-anchor="end" fill="#161616" stroke="#161616" stroke-width="0.3">apr 2021</text>
<g clip-path="url(#c_a3)">
<rect x="343.5" y="39.8" width="142.0" height="307.7" fill="#fff"/>
<path d="M343.5 93.5H485.5M343.5 184.6H485.5M343.5 275.8H485.5M357.8 39.8V347.5M390.9 39.8V347.5M424.0 39.8V347.5M457.2 39.8V347.5" stroke="#f2f2f2" stroke-width="0.8" fill="none"/>
<path d="M343.5 48.0H485.5M343.5 139.1H485.5M343.5 230.2H485.5M343.5 321.3H485.5M374.3 39.8V347.5M407.5 39.8V347.5M440.6 39.8V347.5M473.9 39.8V347.5" stroke="#e8e8e8" stroke-width="1" fill="none"/>
<g clip-path="url(#h_a3)"><g filter="url(#bl)">
<rect x="341.5" y="159.3" width="146.0" height="95.3" fill="url(#g_a3_0)"/>
<rect x="341.5" y="159.3" width="146.0" height="95.3" fill="url(#g_a3_1)" mask="url(#mk1)"/>
<rect x="341.5" y="159.3" width="146.0" height="95.3" fill="url(#g_a3_2)" mask="url(#mk2)"/>
<rect x="341.5" y="159.3" width="146.0" height="95.3" fill="url(#g_a3_3)" mask="url(#mk3)"/>
</g></g>
<path d="M343.5 160.9H485.5" stroke="#fff3a0" stroke-opacity="0.7" stroke-width="1"/><path d="M343.5 253.1H485.5" stroke="#a8ecf6" stroke-opacity="0.8" stroke-width="1.2"/>
<path d="M343.5 139.1H485.5" stroke="#9c5555" stroke-opacity="0.9" stroke-width="1.55" stroke-dasharray="2.60 2.70" fill="none"/>
<g filter="url(#bl2)">
<path d="M344.0 130.6 L344.8 129.3 L345.6 126.9 L346.4 122.8 L347.2 121.5 L348.0 121.3 L348.8 121.7 L349.6 121.7 L350.4 121.7 L351.2 120.6 L352.0 120.1 L352.8 120.7 L353.6 122.7 L354.4 123.2 L355.2 123.0 L356.0 123.0 L356.8 122.3 L357.6 121.4 L358.4 121.4 L359.2 119.5 L360.0 119.0 L360.8 117.5 L361.6 116.9 L362.4 114.9 L363.2 113.5 L364.0 111.3 L364.8 110.1 L365.6 109.4 L366.4 107.5 L367.2 106.3 L368.0 104.4 L368.8 103.3 L369.6 103.5 L370.4 102.1 L371.2 102.4 L372.0 101.0 L372.8 100.1 L373.6 99.6 L374.4 99.9 L375.2 102.7 L376.0 104.5 L376.8 106.1 L377.6 105.8 L378.4 107.5 L379.2 107.4 L380.0 107.9 L380.8 109.1 L381.6 108.9 L382.4 110.3 L383.2 109.1 L384.0 108.2 L384.8 107.8 L385.6 108.8 L386.4 108.5 L387.2 109.1 L388.0 108.1 L388.8 107.0 L389.6 108.4 L390.4 108.4 L391.2 109.8 L392.0 110.8 L392.8 111.0 L393.6 113.5 L394.4 114.9 L395.2 116.3 L396.0 116.3 L396.9 118.2 L397.7 117.5 L398.5 119.0 L399.3 118.9 L400.1 118.5 L400.9 119.5 L401.7 117.9 L402.5 118.1 L403.3 117.8 L404.1 118.0 L404.9 114.1 L405.7 112.4 L406.5 110.4 L407.3 108.5 L408.1 106.5 L408.9 103.8 L409.7 103.0 L410.5 105.4 L411.3 107.7 L412.1 108.5 L412.9 108.7 L413.7 111.2 L414.5 111.5 L415.3 112.4 L416.1 113.8 L416.9 114.6 L417.7 117.3 L418.5 117.1 L419.3 117.1 L420.1 118.8 L420.9 118.1 L421.7 117.5 L422.5 117.9 L423.3 118.5 L424.1 120.1 L424.9 119.1 L425.7 120.2 L426.5 121.4 L427.3 120.0 L428.1 119.9 L428.9 121.4 L429.7 121.9 L430.5 123.4 L431.3 123.9 L432.1 125.2 L432.9 124.6 L433.7 124.5 L434.5 124.4 L435.3 123.9 L436.1 125.1 L436.9 123.0 L437.7 121.5 L438.5 120.2 L439.3 119.7 L440.1 120.3 L440.9 120.1 L441.7 118.1 L442.5 118.6 L443.3 117.9 L444.1 118.7 L444.9 119.3 L445.7 119.7 L446.5 119.3 L447.3 120.3 L448.1 122.3 L448.9 123.1 L449.7 125.1 L450.5 127.0 L451.3 130.4 L452.1 132.1 L452.9 134.2 L453.7 134.7 L454.5 135.3 L455.3 138.0 L456.1 138.8 L456.9 138.8 L457.7 135.5 L458.5 133.9 L459.3 130.9 L460.1 130.4 L460.9 129.6 L461.7 128.7 L462.5 127.8 L463.3 127.0 L464.1 126.8 L464.9 127.7 L465.7 126.9 L466.5 126.9 L467.3 128.2 L468.1 128.5 L468.9 127.9 L469.7 129.1 L470.5 128.4 L471.4 128.5 L472.2 128.7 L473.0 126.9 L473.8 128.1 L474.6 127.3 L475.4 125.3 L476.2 124.0 L477.0 123.5 L477.8 122.7 L478.6 122.4 L479.4 123.7 L480.2 123.7 L481.0 123.5 L481.8 122.3 L482.6 122.9 L483.4 124.4 L484.2 124.1 L485.0 124.9 L485.8 124.5 L485.8 133.7 L485.0 133.3 L484.2 133.8 L483.4 132.6 L482.6 133.7 L481.8 132.7 L481.0 132.5 L480.2 132.9 L479.4 132.8 L478.6 134.1 L477.8 133.8 L477.0 134.3 L476.2 134.0 L475.4 135.4 L474.6 135.1 L473.8 136.5 L473.0 136.7 L472.2 136.8 L471.4 136.6 L470.5 138.0 L469.7 138.9 L468.9 138.6 L468.1 137.8 L467.3 136.9 L466.5 138.2 L465.7 137.0 L464.9 136.2 L464.1 135.6 L463.3 135.8 L462.5 137.1 L461.7 138.2 L460.9 138.3 L460.1 140.1 L459.3 141.7 L458.5 143.7 L457.7 146.4 L456.9 148.7 L456.1 149.6 L455.3 146.5 L454.5 145.0 L453.7 144.1 L452.9 142.1 L452.1 141.4 L451.3 141.5 L450.5 137.5 L449.7 135.0 L448.9 132.3 L448.1 130.6 L447.3 128.6 L446.5 127.9 L445.7 128.7 L444.9 127.7 L444.1 126.6 L443.3 127.9 L442.5 128.0 L441.7 127.5 L440.9 128.5 L440.1 128.5 L439.3 130.9 L438.5 131.9 L437.7 133.0 L436.9 134.8 L436.1 134.8 L435.3 135.0 L434.5 135.6 L433.7 135.7 L432.9 134.8 L432.1 134.6 L431.3 133.0 L430.5 133.0 L429.7 131.0 L428.9 130.1 L428.1 129.8 L427.3 130.0 L426.5 129.4 L425.7 129.4 L424.9 131.2 L424.1 131.0 L423.3 130.4 L422.5 129.4 L421.7 127.6 L420.9 127.9 L420.1 127.7 L419.3 126.5 L418.5 125.8 L417.7 125.8 L416.9 125.1 L416.1 125.2 L415.3 122.7 L414.5 122.4 L413.7 119.8 L412.9 117.8 L412.1 117.9 L411.3 114.6 L410.5 113.6 L409.7 113.0 L408.9 114.5 L408.1 116.0 L407.3 118.2 L406.5 120.0 L405.7 122.5 L404.9 124.1 L404.1 125.9 L403.3 126.4 L402.5 127.0 L401.7 128.3 L400.9 127.7 L400.1 128.2 L399.3 128.5 L398.5 128.9 L397.7 129.3 L396.9 128.2 L396.0 127.2 L395.2 125.6 L394.4 124.0 L393.6 124.2 L392.8 122.8 L392.0 120.9 L391.2 119.3 L390.4 119.8 L389.6 118.0 L388.8 117.5 L388.0 117.2 L387.2 118.6 L386.4 119.5 L385.6 119.3 L384.8 118.8 L384.0 119.5 L383.2 119.3 L382.4 119.3 L381.6 118.0 L380.8 117.1 L380.0 117.2 L379.2 115.9 L378.4 115.1 L377.6 114.9 L376.8 115.2 L376.0 113.7 L375.2 112.4 L374.4 111.7 L373.6 109.9 L372.8 111.5 L372.0 112.9 L371.2 114.1 L370.4 114.0 L369.6 114.5 L368.8 114.3 L368.0 115.8 L367.2 117.3 L366.4 116.3 L365.6 117.6 L364.8 119.3 L364.0 121.1 L363.2 123.1 L362.4 124.9 L361.6 125.5 L360.8 127.0 L360.0 129.5 L359.2 130.9 L358.4 130.6 L357.6 129.8 L356.8 130.9 L356.0 132.5 L355.2 131.9 L354.4 132.6 L353.6 131.5 L352.8 130.7 L352.0 130.9 L351.2 130.5 L350.4 131.2 L349.6 130.9 L348.8 130.6 L348.0 131.1 L347.2 132.7 L346.4 133.2 L345.6 136.4 L344.8 138.2 L344.0 141.2Z" fill="#858585" fill-opacity="0.5"/>
<path d="M425.1 122.2 L425.9 119.8 L426.7 116.4 L427.5 116.9 L428.3 114.5 L429.1 111.4 L430.0 109.1 L430.8 108.2 L431.6 104.3 L432.4 103.0 L433.2 101.4 L434.0 99.5 L434.8 99.8 L435.6 99.2 L436.4 99.6 L437.2 98.9 L438.0 97.0 L438.8 97.2 L439.6 94.7 L440.5 93.7 L441.3 94.1 L442.1 96.4 L442.9 96.3 L443.7 97.0 L444.5 97.4 L445.3 97.1 L446.1 99.5 L446.9 100.6 L447.7 102.6 L448.5 100.1 L449.3 99.9 L450.1 103.1 L451.0 104.3 L451.8 106.7 L452.6 107.0 L453.4 110.2 L454.2 110.7 L455.0 112.8 L455.8 113.9 L456.6 119.0 L457.4 119.6 L458.2 119.6 L459.0 124.6 L459.8 124.2 L460.6 126.8 L461.5 129.7 L462.3 132.2 L463.1 132.3 L463.9 131.6 L464.7 133.2 L465.5 136.1 L466.3 138.8 L466.3 153.5 L465.5 150.8 L464.7 152.8 L463.9 150.6 L463.1 148.9 L462.3 146.6 L461.5 144.8 L460.6 145.3 L459.8 142.3 L459.0 143.3 L458.2 139.1 L457.4 139.2 L456.6 135.1 L455.8 135.5 L455.0 130.8 L454.2 131.3 L453.4 128.4 L452.6 129.2 L451.8 127.2 L451.0 123.7 L450.1 122.8 L449.3 123.4 L448.5 119.4 L447.7 119.5 L446.9 116.5 L446.1 117.1 L445.3 113.5 L444.5 113.4 L443.7 112.2 L442.9 114.3 L442.1 112.5 L441.3 112.8 L440.5 113.8 L439.6 113.6 L438.8 115.7 L438.0 113.7 L437.2 115.9 L436.4 113.8 L435.6 116.0 L434.8 118.0 L434.0 122.2 L433.2 123.2 L432.4 125.7 L431.6 127.0 L430.8 126.4 L430.0 129.4 L429.1 131.6 L428.3 130.3 L427.5 131.5 L426.7 134.7 L425.9 134.4 L425.1 133.7Z" fill="#858585" fill-opacity="0.5"/>
<path d="M351.0 162.2 L351.8 156.0 L352.7 151.6 L353.5 148.1 L354.3 150.3 L355.2 153.2 L356.0 154.0 L356.9 160.1 L357.7 163.3 L357.7 173.4 L356.9 171.7 L356.0 170.4 L355.2 170.1 L354.3 168.4 L353.5 168.3 L352.7 168.0 L351.8 170.2 L351.0 169.1Z" fill="#858585" fill-opacity="0.5"/>
<path d="M344.0 165.8C344.2 169.1 345.5 192.8 346.0 198.3C346.4 203.8 348.0 221.0 348.5 220.7C349.0 220.5 350.5 199.1 351.0 195.8C351.5 192.4 353.0 185.6 353.5 187.0C354.0 188.4 355.5 205.1 356.0 209.9C356.5 214.7 358.0 230.6 358.5 234.8C359.0 239.1 360.4 248.6 360.9 252.3C361.5 256.1 363.3 269.1 363.9 272.3C364.6 275.5 367.0 282.0 367.7 284.8C368.4 287.5 370.3 296.8 370.9 299.8C371.6 302.8 373.3 313.7 373.9 314.7C374.6 315.7 377.1 310.4 377.7 309.7C378.3 309.1 379.7 308.1 380.2 308.5C380.7 308.9 382.1 312.1 382.7 313.5C383.2 314.9 385.3 320.6 385.9 322.2C386.5 323.9 388.3 329.7 388.9 329.7C389.5 329.7 391.3 324.2 391.9 322.2C392.5 320.2 394.6 313.0 395.1 309.7C395.7 306.5 397.2 293.3 397.6 289.8C398.1 286.3 399.2 275.8 399.6 274.8C400.1 273.8 401.5 278.5 401.9 279.8C402.3 281.0 403.5 289.3 403.9 287.3C404.3 285.3 405.5 267.6 405.9 259.8C406.3 252.1 407.3 218.1 407.6 209.9C408.0 201.7 409.0 177.9 409.4 177.4C409.8 176.9 410.9 198.7 411.4 204.9C411.8 211.1 413.4 237.4 413.9 239.8C414.3 242.3 415.5 235.4 415.9 229.9C416.2 224.4 417.3 194.2 417.6 184.9C418.0 175.7 418.9 142.5 419.4 137.5C419.9 132.5 421.9 135.1 422.6 134.6C423.3 134.1 425.6 132.9 426.4 132.1C427.1 131.4 429.4 127.2 430.1 127.1C430.8 127.0 433.1 130.6 433.9 130.9C434.6 131.1 436.8 130.4 437.6 129.6C438.3 128.9 440.6 124.1 441.3 123.4C442.1 122.6 444.3 121.6 445.1 122.1C445.8 122.6 448.2 126.0 448.8 128.4C449.4 130.7 450.4 141.1 450.8 145.8C451.2 150.6 452.1 169.7 452.6 175.8C453.0 181.9 454.6 206.0 455.1 207.0C455.6 208.0 457.1 190.9 457.6 185.8C458.1 180.7 459.6 158.3 460.1 155.8C460.6 153.3 462.1 159.1 462.6 160.8C463.0 162.6 464.4 172.8 465.1 173.3C465.7 173.8 468.2 166.2 468.8 165.8C469.4 165.4 470.7 167.1 471.3 169.6C471.9 172.0 474.3 186.2 475.0 190.8C475.8 195.4 478.2 212.1 478.8 215.7C479.4 219.4 480.3 227.5 480.8 227.0C481.2 226.5 482.8 215.9 483.3 210.7C483.8 205.6 485.5 179.3 485.8 175.8" stroke="#9a9a9a" stroke-opacity="0.5" stroke-width="4.8" fill="none" stroke-linejoin="round"/>
<path d="M363.9 268.0 L364.8 269.1 L365.6 272.5 L366.4 274.8 L367.2 278.4 L368.0 279.8 L368.8 282.5 L369.6 288.1 L370.4 290.9 L371.2 293.6 L372.0 297.9 L372.8 303.7 L373.6 308.9 L374.4 308.1 L375.2 307.9 L376.0 307.1 L376.9 305.7 L377.7 303.9 L378.5 304.9 L379.3 304.6 L380.1 303.0 L380.9 305.4 L381.7 306.6 L382.5 307.2 L383.3 309.7 L384.1 310.5 L384.9 311.8 L385.7 315.6 L386.5 317.5 L387.3 320.6 L388.1 322.7 L389.0 322.9 L389.8 321.7 L390.6 319.2 L391.4 318.5 L392.2 315.2 L393.0 313.5 L393.8 308.4 L394.6 306.1 L395.4 301.2 L396.2 296.5 L397.0 289.7 L397.8 283.1 L398.6 276.9 L399.4 271.8 L400.2 271.3 L401.1 272.0 L401.9 273.8 L402.7 276.4 L403.5 280.4 L404.3 275.1 L405.1 263.6 L405.9 253.8 L405.9 265.9 L405.1 277.2 L404.3 288.5 L403.5 291.7 L402.7 289.0 L401.9 284.3 L401.1 283.1 L400.2 281.5 L399.4 282.7 L398.6 289.5 L397.8 295.0 L397.0 301.3 L396.2 309.0 L395.4 314.8 L394.6 317.7 L393.8 321.4 L393.0 323.0 L392.2 325.2 L391.4 327.5 L390.6 329.9 L389.8 332.2 L389.0 334.5 L388.1 332.1 L387.3 331.2 L386.5 329.9 L385.7 328.4 L384.9 327.2 L384.1 324.3 L383.3 322.2 L382.5 319.9 L381.7 318.2 L380.9 317.6 L380.1 315.3 L379.3 315.6 L378.5 314.7 L377.7 314.3 L376.9 315.6 L376.0 317.5 L375.2 320.1 L374.4 320.0 L373.6 320.9 L372.8 316.7 L372.0 313.0 L371.2 308.4 L370.4 304.4 L369.6 299.9 L368.8 296.1 L368.0 291.5 L367.2 290.6 L366.4 287.8 L365.6 283.8 L364.8 281.2 L363.9 276.6Z" fill="#808080" fill-opacity="0.5"/>
<path d="M344.0 170.8C344.2 172.3 346.0 184.7 346.5 185.8C347.0 186.9 348.5 184.0 349.0 182.0C349.5 180.0 351.0 167.7 351.5 165.8C352.0 163.9 353.3 162.8 354.0 163.3C354.6 163.8 357.0 168.3 357.7 170.8C358.5 173.3 360.7 185.4 361.4 188.3C362.2 191.2 364.5 198.0 365.2 199.5C365.9 201.0 368.3 201.4 368.9 203.3C369.6 205.1 370.9 215.5 371.4 218.2C371.9 221.0 373.3 230.5 373.9 230.7C374.6 231.0 376.8 222.4 377.7 220.7C378.6 219.1 381.7 216.0 382.7 214.5C383.7 213.0 386.8 207.9 387.7 205.8C388.5 203.6 390.8 195.9 391.4 193.3C392.0 190.6 393.4 179.3 393.9 179.5C394.4 179.8 395.9 192.7 396.4 195.8C396.9 198.9 398.4 208.9 398.9 210.7C399.4 212.6 400.8 214.5 401.4 214.5C402.0 214.5 404.5 212.4 405.1 210.7C405.8 209.1 407.1 200.5 407.6 198.3C408.1 196.0 409.6 188.5 410.1 188.3C410.6 188.0 412.1 196.0 412.6 195.8C413.1 195.5 414.7 189.3 415.1 185.8C415.5 182.3 416.5 166.2 416.9 160.8C417.2 155.5 418.3 135.2 418.9 132.1C419.4 129.0 421.9 129.7 422.6 129.6C423.4 129.5 425.7 131.2 426.4 130.9C427.0 130.5 428.2 127.1 428.9 125.9C429.5 124.6 431.9 119.8 432.6 118.4C433.3 117.0 435.6 113.1 436.3 112.1C437.1 111.2 439.3 109.3 440.1 108.9C440.9 108.5 443.6 108.1 444.3 108.4C445.1 108.7 446.9 110.9 447.6 112.1C448.3 113.4 450.6 119.3 451.3 120.9C452.1 122.5 454.3 126.9 455.1 128.4C455.8 129.9 458.1 133.6 458.8 135.8C459.6 138.1 461.9 148.7 462.6 150.8C463.2 153.0 464.4 157.8 465.1 157.1C465.7 156.3 468.2 145.5 468.8 143.3C469.4 141.2 470.8 136.6 471.3 135.8C471.8 135.1 473.2 135.1 473.8 135.8C474.4 136.6 476.8 141.6 477.5 143.3C478.3 145.1 480.5 151.1 481.3 153.3C482.1 155.6 485.3 164.6 485.8 165.8" stroke="#8c8cee" stroke-opacity="0.6" stroke-width="5" fill="none" stroke-linejoin="round"/>
<path d="M344.0 135.8C344.2 135.1 345.8 129.4 346.5 128.4C347.1 127.4 349.5 126.0 350.2 125.9C351.0 125.7 353.1 127.1 354.0 127.1C354.8 127.1 358.0 127.0 359.0 125.9C360.0 124.7 363.0 117.5 363.9 115.9C364.9 114.3 367.9 110.6 368.9 109.6C369.9 108.6 373.1 105.8 373.9 105.9C374.8 106.0 376.8 110.0 377.7 110.9C378.6 111.8 381.5 114.5 382.7 114.6C383.8 114.8 387.8 111.8 388.9 112.1C390.0 112.5 392.9 117.1 393.9 118.4C394.9 119.6 397.9 124.2 398.9 124.6C399.9 125.0 403.1 123.2 403.9 122.1C404.7 121.0 406.3 114.8 406.9 113.4C407.4 112.0 408.8 108.4 409.4 108.4C410.0 108.4 411.9 112.1 412.6 113.4C413.3 114.6 415.6 119.9 416.4 120.9C417.1 121.9 419.2 123.0 420.1 123.4C421.0 123.7 424.2 124.4 425.1 124.6C426.0 124.9 428.1 125.4 428.9 125.9C429.6 126.4 431.9 129.2 432.6 129.6C433.3 130.0 435.6 130.1 436.3 129.6C437.1 129.1 439.3 125.4 440.1 124.6C440.8 123.9 443.1 122.1 443.8 122.1C444.6 122.1 446.8 123.2 447.6 124.6C448.3 126.0 450.4 133.9 451.3 135.8C452.2 137.8 455.4 144.7 456.3 144.6C457.2 144.5 459.3 136.0 460.1 134.6C460.8 133.2 462.9 131.0 463.8 130.9C464.7 130.7 467.8 133.2 468.8 133.4C469.8 133.5 472.8 132.6 473.8 132.1C474.8 131.6 477.9 128.8 478.8 128.4C479.7 127.9 481.8 127.7 482.5 127.9C483.2 128.0 485.4 129.4 485.8 129.6" stroke="#9ad79a" stroke-opacity="0.85" stroke-width="3.8" fill="none" stroke-linejoin="round"/>
<path d="M344.0 170.8C344.2 172.3 346.0 184.7 346.5 185.8C347.0 186.9 348.5 184.0 349.0 182.0C349.5 180.0 351.0 167.7 351.5 165.8C352.0 163.9 353.3 162.8 354.0 163.3C354.6 163.8 357.0 168.3 357.7 170.8C358.5 173.3 360.7 185.4 361.4 188.3C362.2 191.2 364.5 198.0 365.2 199.5C365.9 201.0 368.3 201.4 368.9 203.3C369.6 205.1 370.9 215.5 371.4 218.2C371.9 221.0 373.3 230.5 373.9 230.7C374.6 231.0 376.8 222.4 377.7 220.7C378.6 219.1 381.7 216.0 382.7 214.5C383.7 213.0 386.8 207.9 387.7 205.8C388.5 203.6 390.8 195.9 391.4 193.3C392.0 190.6 393.4 179.3 393.9 179.5C394.4 179.8 395.9 192.7 396.4 195.8C396.9 198.9 398.4 208.9 398.9 210.7C399.4 212.6 400.8 214.5 401.4 214.5C402.0 214.5 404.5 212.4 405.1 210.7C405.8 209.1 407.1 200.5 407.6 198.3C408.1 196.0 409.6 188.5 410.1 188.3C410.6 188.0 412.1 196.0 412.6 195.8C413.1 195.5 414.7 189.3 415.1 185.8C415.5 182.3 416.5 166.2 416.9 160.8C417.2 155.5 418.3 135.2 418.9 132.1C419.4 129.0 421.9 129.7 422.6 129.6C423.4 129.5 425.7 131.2 426.4 130.9C427.0 130.5 428.2 127.1 428.9 125.9C429.5 124.6 431.9 119.8 432.6 118.4C433.3 117.0 435.6 113.1 436.3 112.1C437.1 111.2 439.3 109.3 440.1 108.9C440.9 108.5 443.6 108.1 444.3 108.4C445.1 108.7 446.9 110.9 447.6 112.1C448.3 113.4 450.6 119.3 451.3 120.9C452.1 122.5 454.3 126.9 455.1 128.4C455.8 129.9 458.1 133.6 458.8 135.8C459.6 138.1 461.9 148.7 462.6 150.8C463.2 153.0 464.4 157.8 465.1 157.1C465.7 156.3 468.2 145.5 468.8 143.3C469.4 141.2 470.8 136.6 471.3 135.8C471.8 135.1 473.2 135.1 473.8 135.8C474.4 136.6 476.8 141.6 477.5 143.3C478.3 145.1 480.5 151.1 481.3 153.3C482.1 155.6 485.3 164.6 485.8 165.8" stroke="#15157a" stroke-width="1.70" fill="none" stroke-linejoin="round"/>
<path d="M344.0 165.8C344.2 169.1 345.5 192.8 346.0 198.3C346.4 203.8 348.0 221.0 348.5 220.7C349.0 220.5 350.5 199.1 351.0 195.8C351.5 192.4 353.0 185.6 353.5 187.0C354.0 188.4 355.5 205.1 356.0 209.9C356.5 214.7 358.0 230.6 358.5 234.8C359.0 239.1 360.4 248.6 360.9 252.3C361.5 256.1 363.3 269.1 363.9 272.3C364.6 275.5 367.0 282.0 367.7 284.8C368.4 287.5 370.3 296.8 370.9 299.8C371.6 302.8 373.3 313.7 373.9 314.7C374.6 315.7 377.1 310.4 377.7 309.7C378.3 309.1 379.7 308.1 380.2 308.5C380.7 308.9 382.1 312.1 382.7 313.5C383.2 314.9 385.3 320.6 385.9 322.2C386.5 323.9 388.3 329.7 388.9 329.7C389.5 329.7 391.3 324.2 391.9 322.2C392.5 320.2 394.6 313.0 395.1 309.7C395.7 306.5 397.2 293.3 397.6 289.8C398.1 286.3 399.2 275.8 399.6 274.8C400.1 273.8 401.5 278.5 401.9 279.8C402.3 281.0 403.5 289.3 403.9 287.3C404.3 285.3 405.5 267.6 405.9 259.8C406.3 252.1 407.3 218.1 407.6 209.9C408.0 201.7 409.0 177.9 409.4 177.4C409.8 176.9 410.9 198.7 411.4 204.9C411.8 211.1 413.4 237.4 413.9 239.8C414.3 242.3 415.5 235.4 415.9 229.9C416.2 224.4 417.3 194.2 417.6 184.9C418.0 175.7 418.9 142.5 419.4 137.5C419.9 132.5 421.9 135.1 422.6 134.6C423.3 134.1 425.6 132.9 426.4 132.1C427.1 131.4 429.4 127.2 430.1 127.1C430.8 127.0 433.1 130.6 433.9 130.9C434.6 131.1 436.8 130.4 437.6 129.6C438.3 128.9 440.6 124.1 441.3 123.4C442.1 122.6 444.3 121.6 445.1 122.1C445.8 122.6 448.2 126.0 448.8 128.4C449.4 130.7 450.4 141.1 450.8 145.8C451.2 150.6 452.1 169.7 452.6 175.8C453.0 181.9 454.6 206.0 455.1 207.0C455.6 208.0 457.1 190.9 457.6 185.8C458.1 180.7 459.6 158.3 460.1 155.8C460.6 153.3 462.1 159.1 462.6 160.8C463.0 162.6 464.4 172.8 465.1 173.3C465.7 173.8 468.2 166.2 468.8 165.8C469.4 165.4 470.7 167.1 471.3 169.6C471.9 172.0 474.3 186.2 475.0 190.8C475.8 195.4 478.2 212.1 478.8 215.7C479.4 219.4 480.3 227.5 480.8 227.0C481.2 226.5 482.8 215.9 483.3 210.7C483.8 205.6 485.5 179.3 485.8 175.8" stroke="#0c0c0c" stroke-width="1.90" fill="none" stroke-linejoin="round"/>
<path d="M344.0 135.8C344.2 135.1 345.8 129.4 346.5 128.4C347.1 127.4 349.5 126.0 350.2 125.9C351.0 125.7 353.1 127.1 354.0 127.1C354.8 127.1 358.0 127.0 359.0 125.9C360.0 124.7 363.0 117.5 363.9 115.9C364.9 114.3 367.9 110.6 368.9 109.6C369.9 108.6 373.1 105.8 373.9 105.9C374.8 106.0 376.8 110.0 377.7 110.9C378.6 111.8 381.5 114.5 382.7 114.6C383.8 114.8 387.8 111.8 388.9 112.1C390.0 112.5 392.9 117.1 393.9 118.4C394.9 119.6 397.9 124.2 398.9 124.6C399.9 125.0 403.1 123.2 403.9 122.1C404.7 121.0 406.3 114.8 406.9 113.4C407.4 112.0 408.8 108.4 409.4 108.4C410.0 108.4 411.9 112.1 412.6 113.4C413.3 114.6 415.6 119.9 416.4 120.9C417.1 121.9 419.2 123.0 420.1 123.4C421.0 123.7 424.2 124.4 425.1 124.6C426.0 124.9 428.1 125.4 428.9 125.9C429.6 126.4 431.9 129.2 432.6 129.6C433.3 130.0 435.6 130.1 436.3 129.6C437.1 129.1 439.3 125.4 440.1 124.6C440.8 123.9 443.1 122.1 443.8 122.1C444.6 122.1 446.8 123.2 447.6 124.6C448.3 126.0 450.4 133.9 451.3 135.8C452.2 137.8 455.4 144.7 456.3 144.6C457.2 144.5 459.3 136.0 460.1 134.6C460.8 133.2 462.9 131.0 463.8 130.9C464.7 130.7 467.8 133.2 468.8 133.4C469.8 133.5 472.8 132.6 473.8 132.1C474.8 131.6 477.9 128.8 478.8 128.4C479.7 127.9 481.8 127.7 482.5 127.9C483.2 128.0 485.4 129.4 485.8 129.6" stroke="#184a1e" stroke-width="1.75" fill="none" stroke-linejoin="round"/>
</g>
</g>
<rect x="343.5" y="39.8" width="142.0" height="307.7" fill="none" stroke="#484848" stroke-width="1.5"/>
<rect x="343.5" y="24.8" width="142.0" height="15.0" fill="#cbcbcb" stroke="#484848" stroke-width="1.5"/>
<text x="414.5" y="35.7" font-size="8.6" text-anchor="middle" fill="#151515" stroke="#151515" stroke-width="0.25">19</text>
<path d="M374.3 347.5v3.2M407.5 347.5v3.2M440.6 347.5v3.2M473.9 347.5v3.2" stroke="#333" stroke-width="1" fill="none"/>
<text transform="translate(395.7 366.3) rotate(-45)" font-size="12.8" text-anchor="end" fill="#161616" stroke="#161616" stroke-width="0.3">jul 2020</text>
<text transform="translate(428.9 366.3) rotate(-45)" font-size="12.8" text-anchor="end" fill="#161616" stroke="#161616" stroke-width="0.3">okt 2020</text>
<text transform="translate(462.0 366.3) rotate(-45)" font-size="12.8" text-anchor="end" fill="#161616" stroke="#161616" stroke-width="0.3">jan 2021</text>
<text transform="translate(495.3 366.3) rotate(-45)" font-size="12.8" text-anchor="end" fill="#161616" stroke="#161616" stroke-width="0.3">apr 2021</text>
<g clip-path="url(#c_a4)">
<rect x="491.1" y="39.8" width="142.2" height="307.7" fill="#fff"/>
<path d="M491.1 93.5H633.3M491.1 184.6H633.3M491.1 275.8H633.3M505.4 39.8V347.5M538.5 39.8V347.5M571.6 39.8V347.5M604.8 39.8V347.5" stroke="#f2f2f2" stroke-width="0.8" fill="none"/>
<path d="M491.1 48.0H633.3M491.1 139.1H633.3M491.1 230.2H633.3M491.1 321.3H633.3M521.9 39.8V347.5M555.1 39.8V347.5M588.2 39.8V347.5M621.5 39.8V347.5" stroke="#e8e8e8" stroke-width="1" fill="none"/>
<g clip-path="url(#h_a4)"><g filter="url(#bl)">
<rect x="489.1" y="159.3" width="146.2" height="95.3" fill="url(#g_a4_0)"/>
<rect x="489.1" y="159.3" width="146.2" height="95.3" fill="url(#g_a4_1)" mask="url(#mk1)"/>
<rect x="489.1" y="159.3" width="146.2" height="95.3" fill="url(#g_a4_2)" mask="url(#mk2)"/>
<rect x="489.1" y="159.3" width="146.2" height="95.3" fill="url(#g_a4_3)" mask="url(#mk3)"/>
</g></g>
<path d="M491.1 160.9H633.3" stroke="#fff3a0" stroke-opacity="0.7" stroke-width="1"/><path d="M491.1 253.1H633.3" stroke="#a8ecf6" stroke-opacity="0.8" stroke-width="1.2"/>
<path d="M491.1 139.1H633.3" stroke="#9c5555" stroke-opacity="0.9" stroke-width="1.55" stroke-dasharray="2.60 2.70" fill="none"/>
<g filter="url(#bl2)">
<path d="M491.5 123.1 L492.3 124.4 L493.1 121.8 L493.9 123.2 L494.7 121.3 L495.5 120.1 L496.3 121.0 L497.1 121.3 L497.9 122.0 L498.7 121.4 L499.5 119.3 L500.3 116.7 L501.1 117.8 L501.9 116.9 L502.7 115.4 L503.5 114.1 L504.3 113.2 L505.2 111.6 L506.0 112.3 L506.8 111.2 L507.6 108.2 L508.4 104.3 L509.2 102.6 L510.0 101.5 L510.8 100.9 L511.6 100.6 L512.4 100.4 L513.2 100.3 L514.0 102.5 L514.8 103.1 L515.6 100.4 L516.4 100.5 L517.2 96.9 L518.0 94.3 L518.8 92.1 L519.6 88.4 L520.4 87.1 L521.2 83.6 L522.0 80.5 L522.8 80.2 L523.6 75.8 L524.5 72.5 L525.3 69.9 L526.1 71.2 L526.9 73.2 L527.7 76.0 L528.5 76.0 L529.3 76.7 L530.1 78.9 L530.9 77.5 L531.7 76.1 L532.5 78.0 L533.3 79.3 L534.1 77.6 L534.9 75.3 L535.7 77.7 L536.5 78.1 L537.3 82.5 L538.1 84.7 L538.9 87.0 L539.7 88.8 L540.5 90.4 L541.3 90.9 L542.1 93.1 L542.9 94.7 L543.8 96.7 L544.6 99.4 L545.4 98.8 L546.2 101.9 L547.0 100.5 L547.8 102.3 L548.6 104.4 L549.4 105.1 L550.2 106.5 L551.0 103.8 L551.8 102.2 L552.6 101.8 L553.4 99.2 L554.2 96.8 L555.0 96.5 L555.8 97.5 L556.6 95.4 L557.4 96.9 L558.2 99.7 L559.0 99.9 L559.8 104.1 L560.6 107.6 L561.4 107.4 L562.2 105.0 L563.1 107.0 L563.9 108.8 L564.7 106.6 L565.5 109.3 L566.3 110.6 L567.1 110.5 L567.9 109.3 L568.7 111.4 L569.5 111.2 L570.3 110.5 L571.1 108.5 L571.9 110.6 L572.7 106.4 L573.5 104.0 L574.3 105.3 L575.1 103.3 L575.9 101.8 L576.7 103.2 L577.5 106.6 L578.3 106.9 L579.1 106.2 L579.9 100.6 L580.7 97.4 L581.6 99.3 L582.4 96.5 L583.2 94.2 L584.0 94.0 L584.8 91.1 L585.6 88.6 L586.4 88.1 L587.2 91.8 L588.0 92.0 L588.8 89.4 L589.6 94.6 L590.4 91.7 L591.2 96.6 L592.0 96.1 L592.8 101.0 L593.6 103.6 L594.4 100.2 L595.2 102.9 L596.0 106.8 L596.8 106.8 L597.6 108.0 L598.4 109.0 L599.2 113.3 L600.0 113.8 L600.9 114.8 L601.7 117.9 L602.5 118.1 L603.3 116.2 L604.1 119.8 L604.9 121.2 L605.7 118.4 L606.5 119.9 L607.3 117.0 L608.1 116.8 L608.9 118.3 L609.7 115.6 L610.5 115.2 L611.3 115.1 L612.1 116.3 L612.9 113.5 L613.7 112.9 L614.5 114.7 L615.3 116.5 L616.1 117.6 L616.9 120.4 L617.7 120.8 L618.5 122.7 L619.3 121.3 L620.2 120.1 L621.0 122.6 L621.8 124.1 L622.6 122.9 L623.4 124.2 L624.2 122.2 L625.0 119.1 L625.8 114.1 L626.6 112.9 L627.4 108.1 L628.2 106.5 L629.0 106.2 L629.8 105.7 L630.6 106.8 L631.4 108.8 L632.2 107.1 L633.0 108.1 L633.0 122.7 L632.2 123.6 L631.4 124.3 L630.6 123.1 L629.8 122.0 L629.0 122.6 L628.2 123.6 L627.4 126.7 L626.6 126.7 L625.8 130.4 L625.0 135.2 L624.2 136.9 L623.4 139.4 L622.6 139.5 L621.8 136.1 L621.0 136.5 L620.2 136.8 L619.3 138.0 L618.5 137.2 L617.7 136.8 L616.9 135.2 L616.1 132.1 L615.3 131.9 L614.5 131.5 L613.7 128.9 L612.9 129.6 L612.1 128.7 L611.3 130.4 L610.5 129.9 L609.7 133.2 L608.9 133.4 L608.1 133.3 L607.3 131.2 L606.5 133.7 L605.7 136.3 L604.9 136.5 L604.1 137.9 L603.3 137.3 L602.5 136.5 L601.7 134.6 L600.9 131.7 L600.0 132.0 L599.2 132.8 L598.4 129.1 L597.6 131.9 L596.8 131.5 L596.0 131.0 L595.2 128.3 L594.4 125.4 L593.6 124.5 L592.8 125.0 L592.0 127.7 L591.2 126.5 L590.4 127.1 L589.6 130.1 L588.8 130.1 L588.0 131.3 L587.2 131.2 L586.4 127.0 L585.6 128.4 L584.8 125.5 L584.0 126.6 L583.2 126.9 L582.4 130.4 L581.6 130.4 L580.7 134.3 L579.9 138.1 L579.1 138.2 L578.3 137.1 L577.5 133.5 L576.7 131.9 L575.9 133.3 L575.1 133.0 L574.3 132.8 L573.5 138.0 L572.7 136.2 L571.9 136.9 L571.1 136.6 L570.3 134.9 L569.5 131.4 L568.7 126.6 L567.9 125.5 L567.1 126.6 L566.3 123.4 L565.5 123.0 L564.7 124.6 L563.9 122.6 L563.1 123.3 L562.2 123.4 L561.4 124.1 L560.6 120.8 L559.8 120.8 L559.0 119.2 L558.2 116.4 L557.4 113.7 L556.6 112.6 L555.8 112.7 L555.0 112.3 L554.2 114.9 L553.4 115.8 L552.6 118.3 L551.8 118.0 L551.0 120.6 L550.2 119.9 L549.4 119.3 L548.6 118.3 L547.8 117.1 L547.0 116.7 L546.2 116.1 L545.4 114.9 L544.6 114.4 L543.8 112.6 L542.9 114.0 L542.1 110.5 L541.3 109.7 L540.5 106.5 L539.7 104.6 L538.9 99.8 L538.1 96.1 L537.3 94.7 L536.5 92.6 L535.7 91.0 L534.9 91.6 L534.1 93.2 L533.3 93.9 L532.5 92.6 L531.7 93.3 L530.9 92.5 L530.1 93.2 L529.3 94.0 L528.5 95.0 L527.7 93.8 L526.9 91.8 L526.1 89.6 L525.3 89.1 L524.5 91.4 L523.6 91.0 L522.8 93.9 L522.0 98.5 L521.2 100.1 L520.4 102.4 L519.6 106.5 L518.8 107.2 L518.0 108.8 L517.2 110.8 L516.4 112.8 L515.6 116.1 L514.8 116.2 L514.0 116.4 L513.2 117.1 L512.4 117.8 L511.6 115.7 L510.8 113.1 L510.0 116.8 L509.2 120.1 L508.4 123.7 L507.6 125.5 L506.8 126.5 L506.0 126.6 L505.2 127.1 L504.3 128.7 L503.5 129.4 L502.7 130.7 L501.9 134.8 L501.1 134.3 L500.3 133.0 L499.5 135.5 L498.7 134.8 L497.9 137.0 L497.1 136.7 L496.3 136.0 L495.5 135.7 L494.7 137.3 L493.9 137.2 L493.1 137.4 L492.3 137.0 L491.5 136.1Z" fill="#858585" fill-opacity="0.5"/>
<path d="M491.5 155.8C491.7 159.3 492.8 183.5 493.2 190.8C493.7 198.0 495.2 227.7 495.7 228.2C496.2 228.7 497.7 200.8 498.2 195.8C498.7 190.8 500.2 178.6 500.7 178.3C501.2 178.0 502.7 188.5 503.2 192.4C503.7 196.3 505.2 212.9 505.7 217.4C506.2 221.9 507.7 232.9 508.2 237.3C508.7 241.8 510.1 258.8 510.7 262.3C511.3 265.8 513.8 270.3 514.5 272.3C515.1 274.3 516.4 279.5 516.9 282.3C517.4 285.0 519.0 296.8 519.4 299.8C519.9 302.8 521.0 311.7 521.4 312.2C521.9 312.7 523.4 306.1 523.9 304.8C524.4 303.4 525.9 298.3 526.4 298.5C527.0 298.8 528.8 305.1 529.4 307.2C530.0 309.4 531.9 317.0 532.4 319.7C533.0 322.5 534.5 332.8 534.9 334.7C535.4 336.6 536.3 338.3 536.9 338.4C537.5 338.6 540.1 337.3 540.7 336.0C541.2 334.6 542.0 328.6 542.4 324.7C542.8 320.9 544.0 303.3 544.4 297.3C544.8 291.3 546.1 269.4 546.4 264.8C546.7 260.2 547.4 251.6 547.6 251.1C547.9 250.6 549.0 258.1 549.4 259.8C549.8 261.6 551.0 270.0 551.4 268.6C551.8 267.1 552.8 250.7 553.1 244.8C553.5 239.0 554.5 215.1 554.9 209.9C555.3 204.6 556.5 194.9 556.9 192.4C557.2 189.9 558.0 181.4 558.4 184.9C558.8 188.4 560.2 224.1 560.6 227.4C561.1 230.6 562.2 222.6 562.6 217.4C563.0 212.1 564.0 182.9 564.4 174.9C564.7 167.0 565.9 141.8 566.4 137.5C566.9 133.2 568.7 132.5 569.4 132.1C570.0 131.7 572.4 133.6 573.1 133.4C573.9 133.1 576.1 129.9 576.9 129.6C577.6 129.4 579.9 131.2 580.6 130.9C581.3 130.5 583.6 126.6 584.3 125.9C585.1 125.1 587.3 123.7 588.1 123.4C588.8 123.0 591.1 122.1 591.8 122.1C592.6 122.1 595.0 122.0 595.6 123.4C596.2 124.7 597.6 131.6 598.1 135.8C598.5 140.1 599.4 160.7 599.8 165.8C600.2 170.9 601.3 186.0 601.8 187.0C602.3 188.0 604.2 178.4 604.8 175.8C605.4 173.2 607.4 161.9 608.1 160.8C608.8 159.7 611.1 164.9 611.8 164.6C612.5 164.2 614.9 157.9 615.5 157.1C616.2 156.2 617.4 154.7 618.0 155.8C618.7 156.9 621.2 165.3 621.8 168.3C622.4 171.3 623.8 182.4 624.3 185.8C624.8 189.2 626.2 201.5 626.8 202.0C627.3 202.5 629.2 194.4 629.8 190.8C630.4 187.2 632.7 168.3 633.0 165.8" stroke="#9a9a9a" stroke-opacity="0.5" stroke-width="4.8" fill="none" stroke-linejoin="round"/>
<path d="M510.7 256.1 L511.5 257.7 L512.3 260.3 L513.1 263.4 L514.0 265.9 L514.8 269.0 L515.6 270.9 L516.4 273.5 L517.2 278.3 L518.0 284.8 L518.8 290.9 L519.7 297.1 L520.5 300.3 L521.3 306.0 L522.1 305.6 L522.9 301.6 L523.7 298.9 L524.5 296.2 L525.3 294.8 L526.2 293.2 L527.0 293.7 L527.8 296.8 L528.6 299.9 L529.4 301.5 L530.2 304.5 L531.0 307.5 L531.9 310.2 L532.7 315.5 L533.5 319.9 L534.3 324.1 L535.1 330.2 L535.9 332.1 L536.7 332.1 L537.6 331.0 L538.4 331.7 L539.2 331.6 L540.0 330.4 L540.8 328.4 L541.6 323.4 L542.4 317.4 L543.3 307.0 L544.1 295.1 L544.9 282.3 L545.7 270.1 L546.5 257.7 L547.3 257.6 L548.1 256.0 L548.9 254.4 L549.8 254.9 L550.6 257.7 L551.4 261.1 L551.4 275.6 L550.6 271.7 L549.8 267.8 L548.9 266.0 L548.1 269.1 L547.3 269.6 L546.5 270.6 L545.7 281.7 L544.9 296.4 L544.1 307.8 L543.3 318.8 L542.4 329.9 L541.6 336.4 L540.8 339.7 L540.0 342.5 L539.2 341.3 L538.4 342.8 L537.6 343.8 L536.7 343.4 L535.9 342.8 L535.1 342.8 L534.3 337.9 L533.5 331.5 L532.7 326.6 L531.9 323.2 L531.0 321.6 L530.2 317.5 L529.4 313.7 L528.6 310.5 L527.8 308.9 L527.0 307.8 L526.2 306.8 L525.3 308.6 L524.5 309.4 L523.7 310.8 L522.9 312.0 L522.1 315.2 L521.3 315.8 L520.5 311.7 L519.7 306.9 L518.8 300.4 L518.0 295.0 L517.2 290.0 L516.4 285.5 L515.6 282.4 L514.8 278.8 L514.0 277.4 L513.1 274.2 L512.3 273.1 L511.5 269.8 L510.7 268.2Z" fill="#808080" fill-opacity="0.5"/>
<path d="M491.5 160.8C491.7 162.3 492.8 173.8 493.2 175.8C493.7 177.8 495.1 181.3 495.7 180.8C496.3 180.3 498.8 171.9 499.5 170.8C500.1 169.7 501.3 168.8 502.0 169.6C502.6 170.3 505.0 176.2 505.7 178.3C506.5 180.4 508.7 188.0 509.4 190.8C510.2 193.5 512.6 203.5 513.2 205.8C513.8 208.0 515.1 212.5 515.7 213.2C516.3 214.0 518.7 214.0 519.4 213.2C520.2 212.5 522.4 207.1 523.2 205.8C523.9 204.4 526.2 199.8 526.9 199.5C527.7 199.3 530.0 201.4 530.7 203.3C531.3 205.1 532.7 215.1 533.2 218.2C533.7 221.3 535.2 233.5 535.7 234.5C536.2 235.5 537.7 230.6 538.2 228.2C538.7 225.8 540.0 212.9 540.7 210.7C541.3 208.6 543.7 207.2 544.4 207.0C545.1 206.8 547.4 208.4 548.1 208.2C548.9 208.1 551.2 207.7 551.9 205.8C552.6 203.8 554.3 190.5 554.9 188.3C555.4 186.0 556.8 182.5 557.4 183.3C558.0 184.0 560.1 195.5 560.6 195.8C561.2 196.0 562.7 189.8 563.1 185.8C563.5 181.8 564.5 162.1 564.9 155.8C565.2 149.6 565.8 126.7 566.4 123.4C566.9 120.0 569.8 122.6 570.6 122.1C571.4 121.6 573.6 119.1 574.4 118.4C575.1 117.6 577.4 115.5 578.1 114.6C578.8 113.8 581.1 110.8 581.9 109.6C582.6 108.5 584.8 104.0 585.6 103.4C586.3 102.8 588.6 103.0 589.3 103.4C590.1 103.8 592.3 106.2 593.1 107.2C593.8 108.1 596.2 111.8 596.8 113.4C597.4 115.0 598.8 120.6 599.3 123.4C599.8 126.1 601.3 137.6 601.8 140.8C602.3 144.1 603.7 153.6 604.3 155.8C604.9 158.1 607.3 162.7 608.1 163.3C608.8 163.9 611.2 163.6 611.8 162.1C612.4 160.6 613.8 151.3 614.3 148.3C614.8 145.3 616.2 133.4 616.8 132.1C617.4 130.9 619.8 134.7 620.5 135.8C621.3 137.0 623.5 141.6 624.3 143.3C625.0 145.1 627.2 150.8 628.0 153.3C628.9 155.8 632.5 166.8 633.0 168.3" stroke="#8c8cee" stroke-opacity="0.6" stroke-width="5" fill="none" stroke-linejoin="round"/>
<path d="M491.5 129.6C491.8 129.9 493.8 132.2 494.5 132.1C495.1 132.0 497.5 129.0 498.2 128.4C499.0 127.7 501.1 126.9 502.0 125.9C502.8 124.9 506.1 120.1 507.0 118.4C507.8 116.6 510.0 109.1 510.7 108.4C511.4 107.6 513.7 111.4 514.5 110.9C515.2 110.4 517.4 105.4 518.2 103.4C518.9 101.4 521.2 93.2 521.9 90.9C522.7 88.7 524.9 81.3 525.7 80.9C526.4 80.6 528.7 86.7 529.4 87.2C530.2 87.7 532.4 86.2 533.2 85.9C533.9 85.7 536.3 83.7 536.9 84.7C537.5 85.7 538.8 93.8 539.4 95.9C540.0 98.0 542.4 104.4 543.1 105.9C543.9 107.4 546.2 110.1 546.9 110.9C547.6 111.6 549.9 113.9 550.6 113.4C551.4 112.9 553.8 106.8 554.4 105.9C555.0 105.0 556.4 103.9 556.9 104.7C557.4 105.4 558.8 112.0 559.4 113.4C560.0 114.8 562.4 118.1 563.1 118.4C563.9 118.6 566.0 116.0 566.9 115.9C567.7 115.8 570.9 116.9 571.9 117.1C572.9 117.4 575.9 118.1 576.9 118.4C577.8 118.6 580.9 119.5 581.9 119.6C582.8 119.8 585.8 119.6 586.8 119.6C587.8 119.6 590.8 119.4 591.8 119.6C592.8 119.9 595.9 121.4 596.8 122.1C597.7 122.9 599.8 126.2 600.6 127.1C601.3 128.0 603.6 131.0 604.3 130.9C605.1 130.7 607.3 126.7 608.1 125.9C608.8 125.1 611.1 122.9 611.8 122.9C612.5 122.9 614.8 125.1 615.5 125.9C616.3 126.7 618.5 130.2 619.3 130.9C620.0 131.5 622.3 133.0 623.0 132.1C623.7 131.2 625.7 123.9 626.3 122.1C626.9 120.4 628.6 115.3 629.3 114.6C630.0 114.0 632.6 115.8 633.0 115.9" stroke="#9ad79a" stroke-opacity="0.85" stroke-width="3.8" fill="none" stroke-linejoin="round"/>
<path d="M491.5 160.8C491.7 162.3 492.8 173.8 493.2 175.8C493.7 177.8 495.1 181.3 495.7 180.8C496.3 180.3 498.8 171.9 499.5 170.8C500.1 169.7 501.3 168.8 502.0 169.6C502.6 170.3 505.0 176.2 505.7 178.3C506.5 180.4 508.7 188.0 509.4 190.8C510.2 193.5 512.6 203.5 513.2 205.8C513.8 208.0 515.1 212.5 515.7 213.2C516.3 214.0 518.7 214.0 519.4 213.2C520.2 212.5 522.4 207.1 523.2 205.8C523.9 204.4 526.2 199.8 526.9 199.5C527.7 199.3 530.0 201.4 530.7 203.3C531.3 205.1 532.7 215.1 533.2 218.2C533.7 221.3 535.2 233.5 535.7 234.5C536.2 235.5 537.7 230.6 538.2 228.2C538.7 225.8 540.0 212.9 540.7 210.7C541.3 208.6 543.7 207.2 544.4 207.0C545.1 206.8 547.4 208.4 548.1 208.2C548.9 208.1 551.2 207.7 551.9 205.8C552.6 203.8 554.3 190.5 554.9 188.3C555.4 186.0 556.8 182.5 557.4 183.3C558.0 184.0 560.1 195.5 560.6 195.8C561.2 196.0 562.7 189.8 563.1 185.8C563.5 181.8 564.5 162.1 564.9 155.8C565.2 149.6 565.8 126.7 566.4 123.4C566.9 120.0 569.8 122.6 570.6 122.1C571.4 121.6 573.6 119.1 574.4 118.4C575.1 117.6 577.4 115.5 578.1 114.6C578.8 113.8 581.1 110.8 581.9 109.6C582.6 108.5 584.8 104.0 585.6 103.4C586.3 102.8 588.6 103.0 589.3 103.4C590.1 103.8 592.3 106.2 593.1 107.2C593.8 108.1 596.2 111.8 596.8 113.4C597.4 115.0 598.8 120.6 599.3 123.4C599.8 126.1 601.3 137.6 601.8 140.8C602.3 144.1 603.7 153.6 604.3 155.8C604.9 158.1 607.3 162.7 608.1 163.3C608.8 163.9 611.2 163.6 611.8 162.1C612.4 160.6 613.8 151.3 614.3 148.3C614.8 145.3 616.2 133.4 616.8 132.1C617.4 130.9 619.8 134.7 620.5 135.8C621.3 137.0 623.5 141.6 624.3 143.3C625.0 145.1 627.2 150.8 628.0 153.3C628.9 155.8 632.5 166.8 633.0 168.3" stroke="#15157a" stroke-width="1.70" fill="none" stroke-linejoin="round"/>
<path d="M491.5 155.8C491.7 159.3 492.8 183.5 493.2 190.8C493.7 198.0 495.2 227.7 495.7 228.2C496.2 228.7 497.7 200.8 498.2 195.8C498.7 190.8 500.2 178.6 500.7 178.3C501.2 178.0 502.7 188.5 503.2 192.4C503.7 196.3 505.2 212.9 505.7 217.4C506.2 221.9 507.7 232.9 508.2 237.3C508.7 241.8 510.1 258.8 510.7 262.3C511.3 265.8 513.8 270.3 514.5 272.3C515.1 274.3 516.4 279.5 516.9 282.3C517.4 285.0 519.0 296.8 519.4 299.8C519.9 302.8 521.0 311.7 521.4 312.2C521.9 312.7 523.4 306.1 523.9 304.8C524.4 303.4 525.9 298.3 526.4 298.5C527.0 298.8 528.8 305.1 529.4 307.2C530.0 309.4 531.9 317.0 532.4 319.7C533.0 322.5 534.5 332.8 534.9 334.7C535.4 336.6 536.3 338.3 536.9 338.4C537.5 338.6 540.1 337.3 540.7 336.0C541.2 334.6 542.0 328.6 542.4 324.7C542.8 320.9 544.0 303.3 544.4 297.3C544.8 291.3 546.1 269.4 546.4 264.8C546.7 260.2 547.4 251.6 547.6 251.1C547.9 250.6 549.0 258.1 549.4 259.8C549.8 261.6 551.0 270.0 551.4 268.6C551.8 267.1 552.8 250.7 553.1 244.8C553.5 239.0 554.5 215.1 554.9 209.9C555.3 204.6 556.5 194.9 556.9 192.4C557.2 189.9 558.0 181.4 558.4 184.9C558.8 188.4 560.2 224.1 560.6 227.4C561.1 230.6 562.2 222.6 562.6 217.4C563.0 212.1 564.0 182.9 564.4 174.9C564.7 167.0 565.9 141.8 566.4 137.5C566.9 133.2 568.7 132.5 569.4 132.1C570.0 131.7 572.4 133.6 573.1 133.4C573.9 133.1 576.1 129.9 576.9 129.6C577.6 129.4 579.9 131.2 580.6 130.9C581.3 130.5 583.6 126.6 584.3 125.9C585.1 125.1 587.3 123.7 588.1 123.4C588.8 123.0 591.1 122.1 591.8 122.1C592.6 122.1 595.0 122.0 595.6 123.4C596.2 124.7 597.6 131.6 598.1 135.8C598.5 140.1 599.4 160.7 599.8 165.8C600.2 170.9 601.3 186.0 601.8 187.0C602.3 188.0 604.2 178.4 604.8 175.8C605.4 173.2 607.4 161.9 608.1 160.8C608.8 159.7 611.1 164.9 611.8 164.6C612.5 164.2 614.9 157.9 615.5 157.1C616.2 156.2 617.4 154.7 618.0 155.8C618.7 156.9 621.2 165.3 621.8 168.3C622.4 171.3 623.8 182.4 624.3 185.8C624.8 189.2 626.2 201.5 626.8 202.0C627.3 202.5 629.2 194.4 629.8 190.8C630.4 187.2 632.7 168.3 633.0 165.8" stroke="#0c0c0c" stroke-width="1.90" fill="none" stroke-linejoin="round"/>
<path d="M491.5 129.6C491.8 129.9 493.8 132.2 494.5 132.1C495.1 132.0 497.5 129.0 498.2 128.4C499.0 127.7 501.1 126.9 502.0 125.9C502.8 124.9 506.1 120.1 507.0 118.4C507.8 116.6 510.0 109.1 510.7 108.4C511.4 107.6 513.7 111.4 514.5 110.9C515.2 110.4 517.4 105.4 518.2 103.4C518.9 101.4 521.2 93.2 521.9 90.9C522.7 88.7 524.9 81.3 525.7 80.9C526.4 80.6 528.7 86.7 529.4 87.2C530.2 87.7 532.4 86.2 533.2 85.9C533.9 85.7 536.3 83.7 536.9 84.7C537.5 85.7 538.8 93.8 539.4 95.9C540.0 98.0 542.4 104.4 543.1 105.9C543.9 107.4 546.2 110.1 546.9 110.9C547.6 111.6 549.9 113.9 550.6 113.4C551.4 112.9 553.8 106.8 554.4 105.9C555.0 105.0 556.4 103.9 556.9 104.7C557.4 105.4 558.8 112.0 559.4 113.4C560.0 114.8 562.4 118.1 563.1 118.4C563.9 118.6 566.0 116.0 566.9 115.9C567.7 115.8 570.9 116.9 571.9 117.1C572.9 117.4 575.9 118.1 576.9 118.4C577.8 118.6 580.9 119.5 581.9 119.6C582.8 119.8 585.8 119.6 586.8 119.6C587.8 119.6 590.8 119.4 591.8 119.6C592.8 119.9 595.9 121.4 596.8 122.1C597.7 122.9 599.8 126.2 600.6 127.1C601.3 128.0 603.6 131.0 604.3 130.9C605.1 130.7 607.3 126.7 608.1 125.9C608.8 125.1 611.1 122.9 611.8 122.9C612.5 122.9 614.8 125.1 615.5 125.9C616.3 126.7 618.5 130.2 619.3 130.9C620.0 131.5 622.3 133.0 623.0 132.1C623.7 131.2 625.7 123.9 626.3 122.1C626.9 120.4 628.6 115.3 629.3 114.6C630.0 114.0 632.6 115.8 633.0 115.9" stroke="#184a1e" stroke-width="1.75" fill="none" stroke-linejoin="round"/>
</g>
</g>
<rect x="491.1" y="39.8" width="142.2" height="307.7" fill="none" stroke="#484848" stroke-width="1.5"/>
<rect x="491.1" y="24.8" width="142.2" height="15.0" fill="#cbcbcb" stroke="#484848" stroke-width="1.5"/>
<text x="562.2" y="35.7" font-size="8.6" text-anchor="middle" fill="#151515" stroke="#151515" stroke-width="0.25">22</text>
<path d="M521.9 347.5v3.2M555.1 347.5v3.2M588.2 347.5v3.2M621.5 347.5v3.2" stroke="#333" stroke-width="1" fill="none"/>
<text transform="translate(543.3 366.3) rotate(-45)" font-size="12.8" text-anchor="end" fill="#161616" stroke="#161616" stroke-width="0.3">jul 2020</text>
<text transform="translate(576.5 366.3) rotate(-45)" font-size="12.8" text-anchor="end" fill="#161616" stroke="#161616" stroke-width="0.3">okt 2020</text>
<text transform="translate(609.6 366.3) rotate(-45)" font-size="12.8" text-anchor="end" fill="#161616" stroke="#161616" stroke-width="0.3">jan 2021</text>
<text transform="translate(642.9 366.3) rotate(-45)" font-size="12.8" text-anchor="end" fill="#161616" stroke="#161616" stroke-width="0.3">apr 2021</text>
<path d="M45.5 48.0H48.5" stroke="#444" stroke-width="1"/>
<text x="43.7" y="51.9" font-size="9.1" text-anchor="end" fill="#333">20</text>
<path d="M45.5 139.1H48.5" stroke="#444" stroke-width="1"/>
<text x="43.7" y="143.0" font-size="9.1" text-anchor="end" fill="#333">0</text>
<path d="M45.5 230.2H48.5" stroke="#444" stroke-width="1"/>
<text x="43.7" y="234.1" font-size="9.1" text-anchor="end" fill="#333">-20</text>
<path d="M45.5 321.3H48.5" stroke="#444" stroke-width="1"/>
<text x="43.7" y="325.2" font-size="9.1" text-anchor="end" fill="#333">-40</text>
<path d="M633.3 93.5h3" stroke="#444" stroke-width="1"/>
<text x="637.7" y="97.5" font-size="9.1" fill="#333">80</text>
<path d="M633.3 184.6h3" stroke="#444" stroke-width="1"/>
<text x="637.7" y="188.5" font-size="9.1" fill="#333">60</text>
<path d="M633.3 275.8h3" stroke="#444" stroke-width="1"/>
<text x="637.7" y="279.6" font-size="9.1" fill="#333">40</text>
<g clip-path="url(#c_b1)">
<rect x="48.7" y="451.0" width="163.7" height="348.7" fill="#fff"/>
<path d="M48.7 493.4H212.4M48.7 601.8H212.4M48.7 710.2H212.4M64.7 451.0V799.7M103.4 451.0V799.7M141.9 451.0V799.7M180.2 451.0V799.7" stroke="#f2f2f2" stroke-width="0.8" fill="none"/>
<path d="M48.7 547.6H212.4M48.7 656.0H212.4M48.7 764.4H212.4M84.1 451.0V799.7M122.8 451.0V799.7M160.9 451.0V799.7M199.4 451.0V799.7" stroke="#e8e8e8" stroke-width="1" fill="none"/>
<g clip-path="url(#h_b1)"><g filter="url(#bl)">
<rect x="46.7" y="572.3" width="167.7" height="112.5" fill="url(#g_b1_0)"/>
<rect x="46.7" y="572.3" width="167.7" height="112.5" fill="url(#g_b1_1)" mask="url(#mk1)"/>
<rect x="46.7" y="572.3" width="167.7" height="112.5" fill="url(#g_b1_2)" mask="url(#mk2)"/>
<rect x="46.7" y="572.3" width="167.7" height="112.5" fill="url(#g_b1_3)" mask="url(#mk3)"/>
</g></g>
<path d="M48.7 573.9H212.4" stroke="#fff3a0" stroke-opacity="0.7" stroke-width="1"/><path d="M48.7 683.3H212.4" stroke="#a8ecf6" stroke-opacity="0.8" stroke-width="1.2"/>
<path d="M48.7 547.6H212.4" stroke="#9c5555" stroke-opacity="0.9" stroke-width="1.74" stroke-dasharray="2.91 3.02" fill="none"/>
<g filter="url(#bl2)">
<path d="M48.7 507.3 L49.5 509.1 L50.3 511.4 L51.1 516.4 L52.0 518.3 L52.8 518.1 L53.6 520.4 L54.4 521.8 L55.2 521.3 L56.0 519.3 L56.8 520.1 L57.6 520.7 L58.4 517.2 L59.2 516.5 L60.0 514.5 L60.8 518.6 L61.6 521.8 L62.4 523.5 L63.2 520.3 L64.0 522.0 L64.8 523.7 L65.6 518.5 L66.4 518.1 L67.2 514.1 L68.0 512.1 L68.8 505.7 L69.6 501.8 L70.4 502.2 L71.2 503.3 L72.0 502.5 L72.8 503.7 L73.6 499.8 L74.4 498.4 L75.2 498.8 L76.0 501.5 L76.8 503.6 L77.6 505.1 L78.5 500.8 L79.3 496.1 L80.1 496.8 L80.9 493.9 L81.7 492.6 L82.5 489.2 L83.3 489.8 L84.1 487.3 L84.9 486.1 L85.7 488.0 L86.5 492.3 L87.3 491.2 L88.1 493.7 L88.9 497.8 L89.7 498.2 L90.5 498.8 L91.3 497.8 L92.1 497.8 L92.9 501.5 L93.7 503.4 L94.5 503.0 L95.3 504.8 L96.1 503.8 L96.9 503.6 L97.7 502.0 L98.5 498.0 L99.3 494.9 L100.1 488.4 L100.9 486.4 L101.7 485.1 L102.5 482.6 L103.3 484.6 L104.2 490.9 L105.0 494.9 L105.8 498.2 L106.6 496.5 L107.4 500.2 L108.2 501.8 L109.0 505.9 L109.8 510.2 L110.6 512.1 L111.4 509.6 L112.2 511.8 L113.0 513.5 L113.8 512.2 L114.6 511.9 L115.4 509.0 L116.2 506.2 L117.0 503.8 L117.8 502.1 L118.6 503.0 L119.4 503.1 L120.2 497.9 L121.0 496.5 L121.8 494.4 L122.6 494.3 L123.4 494.4 L124.2 496.4 L125.0 497.7 L125.8 498.6 L126.6 500.4 L127.4 500.4 L128.2 500.9 L129.0 503.7 L129.8 505.8 L130.7 505.6 L131.5 505.5 L132.3 509.1 L133.1 510.4 L133.9 506.4 L134.7 504.7 L135.5 505.7 L136.3 502.8 L137.1 500.0 L137.9 502.0 L138.7 504.6 L139.5 508.5 L140.3 504.8 L141.1 502.3 L141.9 507.0 L142.7 507.7 L143.5 503.6 L144.3 504.0 L145.1 498.1 L145.9 502.5 L146.7 501.5 L147.5 500.2 L148.3 499.9 L149.1 500.4 L149.9 499.7 L150.7 500.2 L151.5 502.4 L152.3 499.1 L153.1 500.6 L153.9 490.8 L154.7 490.1 L155.5 485.7 L156.3 489.2 L157.2 484.6 L158.0 487.3 L158.8 483.9 L159.6 480.3 L160.4 483.5 L161.2 490.8 L162.0 496.2 L162.8 493.8 L163.6 490.9 L164.4 495.9 L165.2 495.7 L166.0 498.5 L166.8 491.6 L167.6 489.2 L168.4 495.5 L169.2 497.9 L170.0 500.6 L170.8 499.8 L171.6 499.0 L172.4 502.9 L173.2 501.6 L174.0 502.9 L174.8 509.2 L175.6 514.8 L176.4 516.9 L177.2 515.3 L178.0 514.6 L178.8 518.6 L179.6 520.5 L180.4 523.4 L181.2 525.6 L182.0 523.1 L182.9 525.1 L183.7 526.9 L184.5 528.5 L185.3 524.5 L186.1 524.5 L186.9 522.2 L187.7 521.4 L188.5 520.4 L189.3 521.3 L190.1 519.6 L190.9 519.4 L191.7 519.8 L192.5 518.0 L193.3 509.4 L194.1 510.3 L194.9 503.9 L195.7 509.6 L196.5 509.1 L197.3 515.2 L198.1 515.8 L198.9 519.3 L199.7 519.0 L200.5 521.7 L201.3 520.5 L202.1 523.5 L202.9 522.2 L203.7 525.0 L204.5 523.3 L205.3 521.8 L206.1 520.4 L206.9 520.2 L207.7 522.5 L208.5 518.6 L209.4 517.9 L210.2 519.1 L211.0 518.2 L211.8 518.2 L211.8 540.7 L211.0 539.3 L210.2 539.8 L209.4 539.1 L208.5 542.8 L207.7 540.9 L206.9 540.9 L206.1 543.0 L205.3 541.0 L204.5 542.6 L203.7 541.8 L202.9 543.7 L202.1 543.4 L201.3 545.4 L200.5 551.1 L199.7 550.3 L198.9 545.5 L198.1 550.2 L197.3 553.0 L196.5 551.7 L195.7 551.1 L194.9 551.0 L194.1 549.7 L193.3 549.2 L192.5 549.0 L191.7 549.1 L190.9 545.0 L190.1 544.3 L189.3 545.9 L188.5 546.2 L187.7 547.2 L186.9 547.8 L186.1 547.8 L185.3 545.9 L184.5 548.5 L183.7 546.9 L182.9 543.4 L182.0 544.6 L181.2 544.7 L180.4 544.5 L179.6 542.0 L178.8 543.8 L178.0 544.4 L177.2 544.0 L176.4 541.7 L175.6 544.8 L174.8 545.6 L174.0 541.3 L173.2 538.5 L172.4 539.4 L171.6 539.8 L170.8 539.7 L170.0 547.0 L169.2 543.6 L168.4 545.6 L167.6 544.9 L166.8 539.6 L166.0 542.1 L165.2 538.2 L164.4 538.9 L163.6 539.0 L162.8 538.2 L162.0 533.0 L161.2 536.3 L160.4 538.7 L159.6 539.5 L158.8 537.6 L158.0 535.8 L157.2 544.7 L156.3 541.4 L155.5 542.0 L154.7 538.6 L153.9 536.6 L153.1 539.1 L152.3 543.3 L151.5 540.0 L150.7 534.9 L149.9 533.8 L149.1 534.9 L148.3 540.8 L147.5 542.9 L146.7 539.1 L145.9 542.4 L145.1 541.3 L144.3 544.9 L143.5 539.7 L142.7 544.2 L141.9 541.2 L141.1 544.5 L140.3 544.3 L139.5 538.6 L138.7 544.0 L137.9 539.7 L137.1 537.6 L136.3 541.7 L135.5 537.0 L134.7 538.1 L133.9 533.8 L133.1 535.2 L132.3 535.8 L131.5 532.4 L130.7 528.2 L129.8 530.9 L129.0 527.4 L128.2 523.2 L127.4 520.3 L126.6 521.2 L125.8 522.3 L125.0 519.6 L124.2 519.3 L123.4 516.1 L122.6 516.0 L121.8 516.4 L121.0 516.9 L120.2 520.0 L119.4 524.5 L118.6 526.3 L117.8 526.9 L117.0 529.3 L116.2 528.8 L115.4 531.4 L114.6 535.4 L113.8 538.4 L113.0 535.9 L112.2 532.9 L111.4 533.0 L110.6 534.2 L109.8 530.2 L109.0 527.5 L108.2 527.5 L107.4 523.4 L106.6 520.7 L105.8 515.1 L105.0 513.5 L104.2 512.3 L103.3 509.0 L102.5 509.5 L101.7 507.1 L100.9 508.3 L100.1 508.6 L99.3 512.9 L98.5 517.9 L97.7 521.7 L96.9 526.4 L96.1 530.5 L95.3 527.7 L94.5 525.0 L93.7 527.2 L92.9 523.5 L92.1 523.7 L91.3 522.7 L90.5 520.8 L89.7 520.5 L88.9 515.8 L88.1 515.5 L87.3 513.2 L86.5 512.8 L85.7 513.7 L84.9 511.7 L84.1 512.1 L83.3 513.5 L82.5 514.2 L81.7 512.1 L80.9 512.3 L80.1 515.4 L79.3 518.3 L78.5 524.0 L77.6 529.0 L76.8 528.9 L76.0 527.4 L75.2 526.2 L74.4 525.9 L73.6 524.3 L72.8 526.4 L72.0 526.7 L71.2 524.6 L70.4 525.0 L69.6 526.0 L68.8 532.0 L68.0 532.7 L67.2 537.7 L66.4 537.3 L65.6 541.1 L64.8 544.5 L64.0 544.8 L63.2 544.7 L62.4 540.9 L61.6 541.3 L60.8 542.8 L60.0 539.2 L59.2 539.1 L58.4 542.4 L57.6 540.8 L56.8 542.2 L56.0 541.3 L55.2 542.6 L54.4 542.6 L53.6 541.8 L52.8 541.1 L52.0 538.9 L51.1 537.0 L50.3 538.7 L49.5 534.8 L48.7 529.9Z" fill="#858585" fill-opacity="0.5"/>
<path d="M48.7 571.8C48.9 574.3 50.1 591.3 50.5 596.8C50.9 602.3 52.0 621.7 52.5 626.7C52.9 631.7 54.5 647.2 55.0 646.7C55.5 646.2 57.0 627.0 57.5 621.7C57.9 616.5 59.1 597.6 59.5 594.3C59.9 590.9 61.0 587.0 61.2 588.0C61.5 589.1 61.7 601.0 62.0 605.0C62.3 608.9 64.0 622.7 64.5 627.5C65.0 632.2 66.5 647.4 67.0 652.4C67.5 657.4 69.0 673.1 69.5 677.4C69.9 681.6 70.7 692.4 71.2 694.9C71.8 697.3 74.2 700.3 75.0 702.3C75.7 704.3 78.1 711.8 78.7 714.8C79.3 717.8 80.7 728.9 81.2 732.3C81.7 735.7 83.1 747.3 83.7 748.5C84.3 749.8 86.7 745.5 87.4 744.8C88.2 744.0 90.4 741.5 91.2 741.0C91.9 740.5 94.3 738.4 94.9 739.8C95.6 741.2 96.9 751.5 97.4 754.8C97.9 758.0 99.5 769.9 99.9 772.2C100.4 774.6 101.5 778.7 101.9 778.5C102.4 778.2 103.9 772.6 104.4 769.7C104.9 766.9 106.4 754.8 106.9 749.8C107.4 744.8 109.0 725.8 109.4 719.8C109.8 713.8 110.9 695.1 111.2 689.9C111.4 684.6 112.1 668.6 112.4 667.4C112.7 666.1 114.0 674.6 114.4 677.4C114.8 680.1 116.4 691.9 116.9 694.9C117.4 697.8 118.7 709.6 119.1 707.3C119.6 705.1 120.8 679.1 121.1 672.4C121.5 665.6 122.5 646.2 122.9 639.9C123.3 633.7 124.5 614.2 124.9 610.0C125.2 605.7 126.1 595.7 126.4 597.5C126.7 599.2 127.8 621.8 128.1 627.5C128.5 633.1 129.5 652.4 129.9 653.7C130.3 654.9 131.5 645.0 131.9 639.9C132.2 634.8 133.3 611.8 133.6 602.5C134.0 593.2 135.0 553.9 135.4 546.9C135.7 539.8 136.8 533.0 137.4 531.9C137.9 530.8 140.4 535.7 141.1 535.6C141.9 535.5 144.1 530.9 144.8 530.6C145.6 530.4 147.9 533.1 148.6 533.1C149.3 533.1 151.6 531.5 152.3 530.6C153.1 529.8 155.3 525.1 156.1 524.4C156.8 523.6 159.1 523.5 159.8 523.1C160.6 522.8 162.8 520.9 163.6 520.6C164.3 520.4 166.6 520.0 167.3 520.6C168.1 521.3 170.5 524.3 171.1 526.9C171.6 529.5 172.4 541.9 172.8 546.9C173.2 551.8 174.4 570.8 174.8 576.8C175.2 582.8 176.4 605.8 176.8 606.8C177.3 607.8 178.8 592.0 179.3 586.8C179.8 581.6 181.4 558.2 181.8 554.3C182.2 550.5 183.1 547.6 183.6 548.1C184.0 548.6 185.5 557.0 186.0 559.3C186.5 561.7 188.0 571.6 188.5 571.8C189.0 572.1 190.5 563.3 191.0 561.8C191.6 560.3 193.7 556.6 194.3 556.8C194.9 557.1 196.7 562.3 197.3 564.3C197.9 566.3 199.6 573.1 200.3 576.8C200.9 580.6 202.9 597.5 203.5 601.8C204.1 606.0 205.4 617.8 206.0 619.2C206.6 620.7 208.7 619.0 209.3 616.8C209.8 614.5 211.5 598.8 211.8 596.8" stroke="#9a9a9a" stroke-opacity="0.5" stroke-width="4.8" fill="none" stroke-linejoin="round"/>
<path d="M71.2 687.4 L72.0 688.9 L72.8 691.5 L73.6 692.3 L74.5 695.1 L75.3 695.9 L76.1 700.5 L76.9 701.4 L77.7 705.0 L78.5 707.4 L79.3 712.8 L80.1 719.9 L81.0 725.7 L81.8 731.8 L82.6 737.4 L83.4 741.9 L84.2 741.3 L85.0 740.1 L85.8 740.4 L86.6 739.0 L87.5 739.2 L88.3 737.3 L89.1 737.7 L89.9 734.9 L90.7 733.1 L91.5 732.5 L92.3 734.3 L93.1 733.9 L94.0 734.6 L94.8 733.3 L95.6 737.0 L96.4 742.2 L97.2 746.2 L98.0 751.3 L98.8 756.9 L99.6 762.4 L100.5 765.4 L101.3 770.1 L102.1 771.9 L102.9 769.3 L103.7 767.1 L104.5 763.4 L105.3 756.8 L106.1 750.2 L107.0 742.3 L107.8 731.8 L108.6 722.6 L109.4 712.8 L110.2 699.1 L111.0 685.7 L111.8 684.3 L112.6 685.8 L113.5 686.8 L114.3 688.2 L115.1 688.6 L115.9 688.4 L116.7 688.0 L117.5 693.2 L118.3 696.1 L119.1 699.1 L119.1 713.0 L118.3 707.6 L117.5 704.4 L116.7 701.4 L115.9 700.9 L115.1 701.6 L114.3 699.4 L113.5 698.1 L112.6 695.7 L111.8 695.1 L111.0 697.7 L110.2 713.4 L109.4 725.9 L108.6 735.1 L107.8 744.4 L107.0 754.3 L106.1 760.9 L105.3 768.2 L104.5 775.4 L103.7 777.5 L102.9 780.0 L102.1 782.5 L101.3 781.6 L100.5 779.6 L99.6 776.4 L98.8 769.8 L98.0 765.0 L97.2 761.4 L96.4 755.2 L95.6 750.5 L94.8 745.2 L94.0 747.4 L93.1 746.3 L92.3 746.6 L91.5 746.9 L90.7 748.1 L89.9 747.7 L89.1 750.2 L88.3 749.2 L87.5 751.7 L86.6 750.8 L85.8 752.4 L85.0 752.2 L84.2 754.7 L83.4 752.6 L82.6 749.5 L81.8 742.6 L81.0 736.3 L80.1 732.8 L79.3 727.7 L78.5 722.2 L77.7 718.3 L76.9 715.2 L76.1 711.0 L75.3 709.6 L74.5 708.2 L73.6 707.4 L72.8 705.9 L72.0 703.7 L71.2 700.7Z" fill="#808080" fill-opacity="0.5"/>
<path d="M48.7 576.8C49.0 579.3 50.7 597.5 51.2 601.8C51.7 606.0 53.2 618.8 53.7 619.2C54.2 619.8 55.7 609.5 56.2 606.8C56.7 604.0 58.2 593.8 58.7 591.8C59.2 589.8 60.7 585.8 61.2 586.8C61.7 587.8 63.1 599.4 63.7 601.8C64.3 604.1 66.3 610.0 67.0 610.5C67.6 611.0 69.3 607.9 70.0 606.8C70.6 605.6 73.0 600.5 73.7 599.3C74.5 598.0 76.8 594.0 77.5 594.3C78.1 594.5 79.5 599.3 80.0 601.8C80.5 604.3 81.8 616.3 82.5 619.2C83.1 622.2 85.4 630.0 86.2 631.7C86.9 633.5 89.2 636.6 89.9 636.7C90.7 636.8 92.9 633.7 93.7 633.0C94.4 632.2 96.7 630.0 97.4 629.2C98.2 628.5 100.5 624.7 101.2 625.5C101.8 626.2 103.1 634.6 103.7 636.7C104.2 638.8 106.3 646.7 106.9 646.7C107.5 646.7 109.3 638.7 109.9 636.7C110.5 634.7 112.3 627.4 112.9 626.7C113.5 626.1 115.5 629.9 116.2 630.5C116.8 631.1 118.8 634.1 119.4 633.0C120.0 631.9 121.8 621.4 122.4 619.2C122.9 617.1 124.3 611.0 124.9 611.8C125.5 612.5 128.0 626.0 128.6 626.7C129.3 627.5 130.7 623.2 131.1 619.2C131.5 615.3 132.5 594.5 132.9 586.8C133.2 579.1 134.4 548.6 134.9 541.9C135.3 535.1 136.7 521.5 137.4 519.4C138.0 517.3 140.4 521.1 141.1 520.6C141.9 520.1 144.0 515.5 144.8 514.4C145.7 513.3 148.9 510.3 149.8 509.4C150.8 508.5 153.8 506.2 154.8 505.7C155.8 505.2 158.8 504.3 159.8 504.4C160.8 504.5 163.8 506.5 164.8 506.9C165.8 507.3 168.9 507.4 169.8 508.2C170.7 508.9 173.0 512.0 173.6 514.4C174.1 516.8 174.9 527.9 175.3 531.9C175.7 535.9 176.9 550.6 177.3 554.3C177.8 558.1 179.3 567.2 179.8 569.3C180.3 571.4 181.7 575.6 182.3 575.6C182.9 575.6 185.3 572.2 186.0 569.3C186.8 566.4 189.2 550.8 189.8 546.9C190.4 542.9 191.8 531.8 192.3 529.4C192.8 527.0 194.2 523.4 194.8 523.1C195.4 522.9 197.8 524.8 198.5 526.9C199.3 529.0 201.5 540.9 202.3 544.4C203.0 547.9 205.3 558.1 206.0 561.8C206.8 565.6 209.2 578.3 209.8 581.8C210.3 585.3 211.6 595.3 211.8 596.8" stroke="#8c8cee" stroke-opacity="0.6" stroke-width="5" fill="none" stroke-linejoin="round"/>
<path d="M48.7 519.4C49.1 520.5 51.7 529.4 52.5 530.6C53.2 531.9 55.5 532.1 56.2 531.9C57.0 531.6 59.1 527.9 60.0 528.1C60.9 528.4 64.0 535.7 65.0 534.4C66.0 533.0 69.1 516.6 70.0 514.4C70.8 512.2 73.0 511.9 73.7 511.9C74.5 511.9 76.7 515.4 77.5 514.4C78.2 513.4 80.5 503.5 81.2 501.9C81.9 500.3 84.2 497.8 84.9 498.2C85.7 498.6 87.9 504.2 88.7 505.7C89.4 507.2 91.7 511.9 92.4 513.1C93.2 514.4 95.4 519.5 96.2 518.1C96.9 516.8 99.2 501.5 99.9 499.4C100.6 497.3 102.3 496.2 102.9 496.9C103.5 497.7 105.5 504.5 106.2 506.9C106.9 509.3 109.2 518.8 109.9 520.6C110.7 522.5 112.9 526.3 113.7 525.6C114.4 525.0 116.6 516.1 117.4 514.4C118.1 512.7 120.4 509.0 121.1 508.2C121.9 507.4 124.1 505.9 124.9 506.4C125.6 506.9 127.9 511.6 128.6 513.1C129.4 514.7 131.6 520.4 132.4 521.9C133.1 523.4 135.4 527.3 136.1 528.1C136.9 529.0 139.1 530.8 139.9 530.6C140.6 530.5 142.9 527.6 143.6 526.9C144.4 526.1 146.6 523.3 147.3 523.1C148.1 523.0 150.3 525.9 151.1 525.6C151.8 525.4 154.1 520.3 154.8 520.6C155.6 521.0 157.8 528.8 158.6 529.4C159.3 530.0 161.6 527.5 162.3 526.9C163.1 526.3 165.3 522.9 166.1 523.1C166.8 523.4 169.1 528.3 169.8 529.4C170.6 530.5 172.8 534.0 173.6 534.4C174.3 534.7 176.4 532.9 177.3 533.1C178.2 533.4 181.3 536.9 182.3 536.9C183.3 536.9 186.4 533.2 187.3 533.1C188.2 533.0 190.3 535.0 191.0 535.6C191.8 536.2 193.9 539.1 194.8 539.4C195.7 539.6 198.8 538.7 199.8 538.1C200.8 537.5 203.6 534.1 204.8 533.1C206.0 532.1 211.1 528.6 211.8 528.1" stroke="#9ad79a" stroke-opacity="0.85" stroke-width="3.8" fill="none" stroke-linejoin="round"/>
<path d="M48.7 576.8C49.0 579.3 50.7 597.5 51.2 601.8C51.7 606.0 53.2 618.8 53.7 619.2C54.2 619.8 55.7 609.5 56.2 606.8C56.7 604.0 58.2 593.8 58.7 591.8C59.2 589.8 60.7 585.8 61.2 586.8C61.7 587.8 63.1 599.4 63.7 601.8C64.3 604.1 66.3 610.0 67.0 610.5C67.6 611.0 69.3 607.9 70.0 606.8C70.6 605.6 73.0 600.5 73.7 599.3C74.5 598.0 76.8 594.0 77.5 594.3C78.1 594.5 79.5 599.3 80.0 601.8C80.5 604.3 81.8 616.3 82.5 619.2C83.1 622.2 85.4 630.0 86.2 631.7C86.9 633.5 89.2 636.6 89.9 636.7C90.7 636.8 92.9 633.7 93.7 633.0C94.4 632.2 96.7 630.0 97.4 629.2C98.2 628.5 100.5 624.7 101.2 625.5C101.8 626.2 103.1 634.6 103.7 636.7C104.2 638.8 106.3 646.7 106.9 646.7C107.5 646.7 109.3 638.7 109.9 636.7C110.5 634.7 112.3 627.4 112.9 626.7C113.5 626.1 115.5 629.9 116.2 630.5C116.8 631.1 118.8 634.1 119.4 633.0C120.0 631.9 121.8 621.4 122.4 619.2C122.9 617.1 124.3 611.0 124.9 611.8C125.5 612.5 128.0 626.0 128.6 626.7C129.3 627.5 130.7 623.2 131.1 619.2C131.5 615.3 132.5 594.5 132.9 586.8C133.2 579.1 134.4 548.6 134.9 541.9C135.3 535.1 136.7 521.5 137.4 519.4C138.0 517.3 140.4 521.1 141.1 520.6C141.9 520.1 144.0 515.5 144.8 514.4C145.7 513.3 148.9 510.3 149.8 509.4C150.8 508.5 153.8 506.2 154.8 505.7C155.8 505.2 158.8 504.3 159.8 504.4C160.8 504.5 163.8 506.5 164.8 506.9C165.8 507.3 168.9 507.4 169.8 508.2C170.7 508.9 173.0 512.0 173.6 514.4C174.1 516.8 174.9 527.9 175.3 531.9C175.7 535.9 176.9 550.6 177.3 554.3C177.8 558.1 179.3 567.2 179.8 569.3C180.3 571.4 181.7 575.6 182.3 575.6C182.9 575.6 185.3 572.2 186.0 569.3C186.8 566.4 189.2 550.8 189.8 546.9C190.4 542.9 191.8 531.8 192.3 529.4C192.8 527.0 194.2 523.4 194.8 523.1C195.4 522.9 197.8 524.8 198.5 526.9C199.3 529.0 201.5 540.9 202.3 544.4C203.0 547.9 205.3 558.1 206.0 561.8C206.8 565.6 209.2 578.3 209.8 581.8C210.3 585.3 211.6 595.3 211.8 596.8" stroke="#15157a" stroke-width="1.90" fill="none" stroke-linejoin="round"/>
<path d="M48.7 571.8C48.9 574.3 50.1 591.3 50.5 596.8C50.9 602.3 52.0 621.7 52.5 626.7C52.9 631.7 54.5 647.2 55.0 646.7C55.5 646.2 57.0 627.0 57.5 621.7C57.9 616.5 59.1 597.6 59.5 594.3C59.9 590.9 61.0 587.0 61.2 588.0C61.5 589.1 61.7 601.0 62.0 605.0C62.3 608.9 64.0 622.7 64.5 627.5C65.0 632.2 66.5 647.4 67.0 652.4C67.5 657.4 69.0 673.1 69.5 677.4C69.9 681.6 70.7 692.4 71.2 694.9C71.8 697.3 74.2 700.3 75.0 702.3C75.7 704.3 78.1 711.8 78.7 714.8C79.3 717.8 80.7 728.9 81.2 732.3C81.7 735.7 83.1 747.3 83.7 748.5C84.3 749.8 86.7 745.5 87.4 744.8C88.2 744.0 90.4 741.5 91.2 741.0C91.9 740.5 94.3 738.4 94.9 739.8C95.6 741.2 96.9 751.5 97.4 754.8C97.9 758.0 99.5 769.9 99.9 772.2C100.4 774.6 101.5 778.7 101.9 778.5C102.4 778.2 103.9 772.6 104.4 769.7C104.9 766.9 106.4 754.8 106.9 749.8C107.4 744.8 109.0 725.8 109.4 719.8C109.8 713.8 110.9 695.1 111.2 689.9C111.4 684.6 112.1 668.6 112.4 667.4C112.7 666.1 114.0 674.6 114.4 677.4C114.8 680.1 116.4 691.9 116.9 694.9C117.4 697.8 118.7 709.6 119.1 707.3C119.6 705.1 120.8 679.1 121.1 672.4C121.5 665.6 122.5 646.2 122.9 639.9C123.3 633.7 124.5 614.2 124.9 610.0C125.2 605.7 126.1 595.7 126.4 597.5C126.7 599.2 127.8 621.8 128.1 627.5C128.5 633.1 129.5 652.4 129.9 653.7C130.3 654.9 131.5 645.0 131.9 639.9C132.2 634.8 133.3 611.8 133.6 602.5C134.0 593.2 135.0 553.9 135.4 546.9C135.7 539.8 136.8 533.0 137.4 531.9C137.9 530.8 140.4 535.7 141.1 535.6C141.9 535.5 144.1 530.9 144.8 530.6C145.6 530.4 147.9 533.1 148.6 533.1C149.3 533.1 151.6 531.5 152.3 530.6C153.1 529.8 155.3 525.1 156.1 524.4C156.8 523.6 159.1 523.5 159.8 523.1C160.6 522.8 162.8 520.9 163.6 520.6C164.3 520.4 166.6 520.0 167.3 520.6C168.1 521.3 170.5 524.3 171.1 526.9C171.6 529.5 172.4 541.9 172.8 546.9C173.2 551.8 174.4 570.8 174.8 576.8C175.2 582.8 176.4 605.8 176.8 606.8C177.3 607.8 178.8 592.0 179.3 586.8C179.8 581.6 181.4 558.2 181.8 554.3C182.2 550.5 183.1 547.6 183.6 548.1C184.0 548.6 185.5 557.0 186.0 559.3C186.5 561.7 188.0 571.6 188.5 571.8C189.0 572.1 190.5 563.3 191.0 561.8C191.6 560.3 193.7 556.6 194.3 556.8C194.9 557.1 196.7 562.3 197.3 564.3C197.9 566.3 199.6 573.1 200.3 576.8C200.9 580.6 202.9 597.5 203.5 601.8C204.1 606.0 205.4 617.8 206.0 619.2C206.6 620.7 208.7 619.0 209.3 616.8C209.8 614.5 211.5 598.8 211.8 596.8" stroke="#0c0c0c" stroke-width="2.13" fill="none" stroke-linejoin="round"/>
<path d="M48.7 519.4C49.1 520.5 51.7 529.4 52.5 530.6C53.2 531.9 55.5 532.1 56.2 531.9C57.0 531.6 59.1 527.9 60.0 528.1C60.9 528.4 64.0 535.7 65.0 534.4C66.0 533.0 69.1 516.6 70.0 514.4C70.8 512.2 73.0 511.9 73.7 511.9C74.5 511.9 76.7 515.4 77.5 514.4C78.2 513.4 80.5 503.5 81.2 501.9C81.9 500.3 84.2 497.8 84.9 498.2C85.7 498.6 87.9 504.2 88.7 505.7C89.4 507.2 91.7 511.9 92.4 513.1C93.2 514.4 95.4 519.5 96.2 518.1C96.9 516.8 99.2 501.5 99.9 499.4C100.6 497.3 102.3 496.2 102.9 496.9C103.5 497.7 105.5 504.5 106.2 506.9C106.9 509.3 109.2 518.8 109.9 520.6C110.7 522.5 112.9 526.3 113.7 525.6C114.4 525.0 116.6 516.1 117.4 514.4C118.1 512.7 120.4 509.0 121.1 508.2C121.9 507.4 124.1 505.9 124.9 506.4C125.6 506.9 127.9 511.6 128.6 513.1C129.4 514.7 131.6 520.4 132.4 521.9C133.1 523.4 135.4 527.3 136.1 528.1C136.9 529.0 139.1 530.8 139.9 530.6C140.6 530.5 142.9 527.6 143.6 526.9C144.4 526.1 146.6 523.3 147.3 523.1C148.1 523.0 150.3 525.9 151.1 525.6C151.8 525.4 154.1 520.3 154.8 520.6C155.6 521.0 157.8 528.8 158.6 529.4C159.3 530.0 161.6 527.5 162.3 526.9C163.1 526.3 165.3 522.9 166.1 523.1C166.8 523.4 169.1 528.3 169.8 529.4C170.6 530.5 172.8 534.0 173.6 534.4C174.3 534.7 176.4 532.9 177.3 533.1C178.2 533.4 181.3 536.9 182.3 536.9C183.3 536.9 186.4 533.2 187.3 533.1C188.2 533.0 190.3 535.0 191.0 535.6C191.8 536.2 193.9 539.1 194.8 539.4C195.7 539.6 198.8 538.7 199.8 538.1C200.8 537.5 203.6 534.1 204.8 533.1C206.0 532.1 211.1 528.6 211.8 528.1" stroke="#184a1e" stroke-width="1.96" fill="none" stroke-linejoin="round"/>
</g>
</g>
<rect x="48.7" y="451.0" width="163.7" height="348.7" fill="none" stroke="#484848" stroke-width="1.5"/>
<rect x="48.7" y="433.1" width="163.7" height="17.9" fill="#cbcbcb" stroke="#484848" stroke-width="1.5"/>
<text x="130.6" y="445.4" font-size="8.6" text-anchor="middle" fill="#151515" stroke="#151515" stroke-width="0.25">0</text>
<path d="M84.1 799.7v3.2M122.8 799.7v3.2M160.9 799.7v3.2M199.4 799.7v3.2" stroke="#333" stroke-width="1" fill="none"/>
<text transform="translate(108.4 820.4) rotate(-45)" font-size="14.6" text-anchor="end" fill="#161616" stroke="#161616" stroke-width="0.3">jul 2020</text>
<text transform="translate(147.1 820.4) rotate(-45)" font-size="14.6" text-anchor="end" fill="#161616" stroke="#161616" stroke-width="0.3">okt 2020</text>
<text transform="translate(185.2 820.4) rotate(-45)" font-size="14.6" text-anchor="end" fill="#161616" stroke="#161616" stroke-width="0.3">jan 2021</text>
<text transform="translate(223.7 820.4) rotate(-45)" font-size="14.6" text-anchor="end" fill="#161616" stroke="#161616" stroke-width="0.3">apr 2021</text>
<g clip-path="url(#c_b2)">
<rect x="218.4" y="451.0" width="163.1" height="348.7" fill="#fff"/>
<path d="M218.4 493.4H381.5M218.4 601.8H381.5M218.4 710.2H381.5M234.4 451.0V799.7M273.1 451.0V799.7M311.6 451.0V799.7M349.9 451.0V799.7" stroke="#f2f2f2" stroke-width="0.8" fill="none"/>
<path d="M218.4 547.6H381.5M218.4 656.0H381.5M218.4 764.4H381.5M253.8 451.0V799.7M292.5 451.0V799.7M330.6 451.0V799.7M369.1 451.0V799.7" stroke="#e8e8e8" stroke-width="1" fill="none"/>
<g clip-path="url(#h_b2)"><g filter="url(#bl)">
<rect x="216.4" y="572.3" width="167.1" height="112.5" fill="url(#g_b2_0)"/>
<rect x="216.4" y="572.3" width="167.1" height="112.5" fill="url(#g_b2_1)" mask="url(#mk1)"/>
<rect x="216.4" y="572.3" width="167.1" height="112.5" fill="url(#g_b2_2)" mask="url(#mk2)"/>
<rect x="216.4" y="572.3" width="167.1" height="112.5" fill="url(#g_b2_3)" mask="url(#mk3)"/>
</g></g>
<path d="M218.4 573.9H381.5" stroke="#fff3a0" stroke-opacity="0.7" stroke-width="1"/><path d="M218.4 683.3H381.5" stroke="#a8ecf6" stroke-opacity="0.8" stroke-width="1.2"/>
<path d="M218.4 547.6H381.5" stroke="#9c5555" stroke-opacity="0.9" stroke-width="1.74" stroke-dasharray="2.91 3.02" fill="none"/>
<g filter="url(#bl2)">
<path d="M218.5 520.8 L219.3 521.7 L220.1 518.9 L220.9 519.2 L221.7 516.5 L222.5 519.8 L223.3 520.8 L224.1 521.1 L224.9 518.0 L225.7 517.7 L226.5 512.5 L227.3 514.3 L228.1 513.7 L228.9 514.3 L229.7 511.4 L230.5 512.7 L231.3 512.4 L232.1 507.0 L232.9 503.7 L233.7 503.2 L234.5 501.2 L235.3 504.9 L236.1 502.1 L236.9 500.6 L237.7 498.4 L238.5 498.2 L239.3 496.6 L240.1 492.7 L240.9 490.9 L241.7 492.8 L242.5 498.5 L243.3 501.5 L244.1 503.4 L245.0 507.9 L245.8 505.3 L246.6 505.1 L247.4 503.1 L248.2 497.0 L249.0 490.9 L249.8 478.2 L250.6 469.3 L251.4 463.4 L252.2 459.8 L253.0 460.0 L253.8 460.0 L254.6 463.1 L255.4 462.6 L256.2 465.5 L257.0 462.9 L257.8 465.2 L258.6 466.1 L259.4 466.0 L260.2 468.2 L261.0 467.0 L261.8 469.6 L262.6 467.6 L263.4 469.8 L264.2 468.1 L265.0 466.2 L265.8 462.5 L266.6 461.1 L267.4 464.4 L268.2 464.1 L269.0 465.9 L269.8 466.7 L270.6 464.1 L271.4 463.8 L272.2 466.3 L273.0 467.4 L273.8 467.0 L274.6 470.6 L275.4 471.7 L276.2 470.8 L277.0 474.3 L277.8 475.1 L278.6 478.0 L279.4 481.3 L280.2 479.6 L281.0 480.7 L281.8 484.0 L282.6 487.3 L283.4 481.8 L284.2 480.8 L285.0 477.6 L285.8 472.4 L286.6 471.7 L287.4 468.3 L288.2 468.0 L289.1 462.6 L289.9 464.9 L290.7 465.4 L291.5 464.3 L292.3 462.0 L293.1 458.6 L293.9 458.7 L294.7 461.2 L295.5 463.0 L296.3 466.0 L297.1 468.4 L297.9 471.7 L298.7 473.9 L299.5 477.0 L300.3 478.0 L301.1 479.1 L301.9 480.1 L302.7 477.0 L303.5 479.1 L304.3 477.5 L305.1 475.1 L305.9 477.1 L306.7 476.8 L307.5 480.0 L308.3 484.7 L309.1 487.9 L309.9 487.5 L310.7 488.4 L311.5 491.2 L312.3 491.9 L313.1 488.1 L313.9 484.1 L314.7 483.3 L315.5 486.9 L316.3 489.5 L317.1 490.4 L317.9 492.5 L318.7 492.2 L319.5 494.9 L320.3 487.9 L321.1 486.4 L321.9 488.2 L322.7 491.2 L323.5 486.1 L324.3 486.2 L325.1 489.3 L325.9 491.5 L326.7 492.8 L327.5 485.0 L328.3 484.2 L329.1 480.4 L329.9 488.4 L330.7 487.4 L331.5 489.6 L332.3 492.5 L333.2 495.2 L334.0 492.0 L334.8 492.0 L335.6 495.3 L336.4 499.0 L337.2 501.4 L338.0 497.1 L338.8 497.4 L339.6 499.2 L340.4 505.6 L341.2 507.4 L342.0 505.5 L342.8 508.3 L343.6 506.6 L344.4 513.1 L345.2 517.2 L346.0 513.7 L346.8 514.2 L347.6 512.8 L348.4 515.3 L349.2 515.7 L350.0 513.4 L350.8 512.2 L351.6 515.1 L352.4 512.8 L353.2 514.4 L354.0 512.5 L354.8 512.7 L355.6 513.5 L356.4 510.1 L357.2 510.5 L358.0 509.7 L358.8 510.5 L359.6 511.0 L360.4 508.8 L361.2 509.2 L362.0 510.2 L362.8 507.2 L363.6 503.6 L364.4 508.2 L365.2 512.4 L366.0 511.4 L366.8 511.1 L367.6 509.9 L368.4 511.7 L369.2 511.2 L370.0 514.6 L370.8 513.0 L371.6 513.0 L372.4 509.6 L373.2 509.6 L374.0 508.0 L374.8 508.5 L375.6 502.6 L376.4 499.8 L377.3 503.0 L378.1 506.0 L378.9 507.1 L379.7 505.8 L380.5 506.0 L381.3 511.2 L381.3 533.1 L380.5 530.8 L379.7 530.5 L378.9 526.1 L378.1 525.9 L377.3 527.0 L376.4 528.2 L375.6 527.3 L374.8 529.4 L374.0 529.2 L373.2 534.2 L372.4 534.9 L371.6 533.1 L370.8 533.7 L370.0 535.6 L369.2 539.4 L368.4 540.2 L367.6 538.6 L366.8 537.7 L366.0 535.6 L365.2 536.4 L364.4 537.6 L363.6 537.8 L362.8 534.0 L362.0 536.1 L361.2 533.6 L360.4 533.9 L359.6 534.3 L358.8 536.1 L358.0 535.5 L357.2 537.7 L356.4 538.4 L355.6 538.7 L354.8 535.5 L354.0 534.2 L353.2 537.0 L352.4 540.7 L351.6 541.4 L350.8 541.0 L350.0 541.7 L349.2 545.9 L348.4 545.6 L347.6 550.0 L346.8 548.1 L346.0 546.3 L345.2 547.2 L344.4 544.2 L343.6 538.5 L342.8 538.1 L342.0 539.7 L341.2 533.6 L340.4 535.4 L339.6 530.5 L338.8 525.9 L338.0 527.0 L337.2 531.2 L336.4 531.9 L335.6 529.4 L334.8 532.1 L334.0 529.7 L333.2 526.5 L332.3 529.6 L331.5 528.1 L330.7 526.6 L329.9 528.9 L329.1 533.9 L328.3 529.7 L327.5 533.7 L326.7 533.6 L325.9 531.6 L325.1 533.5 L324.3 536.2 L323.5 536.4 L322.7 538.4 L321.9 535.4 L321.1 526.8 L320.3 528.4 L319.5 529.3 L318.7 526.9 L317.9 528.9 L317.1 526.8 L316.3 532.1 L315.5 523.6 L314.7 526.0 L313.9 529.0 L313.1 525.8 L312.3 528.2 L311.5 532.7 L310.7 539.4 L309.9 537.3 L309.1 530.1 L308.3 523.1 L307.5 510.7 L306.7 507.4 L305.9 505.1 L305.1 508.8 L304.3 506.1 L303.5 505.0 L302.7 509.7 L301.9 507.8 L301.1 507.0 L300.3 502.8 L299.5 499.7 L298.7 495.4 L297.9 495.4 L297.1 494.3 L296.3 490.0 L295.5 487.0 L294.7 485.5 L293.9 483.2 L293.1 481.8 L292.3 484.6 L291.5 488.5 L290.7 485.7 L289.9 485.1 L289.1 487.8 L288.2 493.0 L287.4 498.3 L286.6 497.9 L285.8 498.6 L285.0 498.9 L284.2 501.3 L283.4 504.9 L282.6 510.0 L281.8 506.6 L281.0 507.2 L280.2 504.9 L279.4 502.2 L278.6 500.5 L277.8 495.5 L277.0 494.0 L276.2 491.8 L275.4 494.0 L274.6 491.3 L273.8 491.5 L273.0 490.9 L272.2 491.6 L271.4 487.8 L270.6 489.5 L269.8 487.2 L269.0 485.3 L268.2 487.6 L267.4 489.4 L266.6 492.4 L265.8 494.6 L265.0 491.9 L264.2 495.9 L263.4 493.6 L262.6 492.6 L261.8 490.9 L261.0 493.6 L260.2 492.5 L259.4 488.4 L258.6 484.6 L257.8 485.3 L257.0 487.1 L256.2 485.4 L255.4 483.5 L254.6 484.9 L253.8 485.5 L253.0 488.2 L252.2 486.0 L251.4 492.7 L250.6 502.4 L249.8 512.2 L249.0 517.5 L248.2 522.9 L247.4 525.4 L246.6 531.1 L245.8 529.5 L245.0 526.5 L244.1 525.8 L243.3 524.3 L242.5 525.4 L241.7 522.1 L240.9 524.0 L240.1 519.0 L239.3 519.3 L238.5 522.7 L237.7 525.0 L236.9 525.9 L236.1 528.3 L235.3 532.1 L234.5 531.1 L233.7 528.3 L232.9 530.3 L232.1 533.3 L231.3 536.9 L230.5 539.1 L229.7 539.1 L228.9 540.7 L228.1 538.0 L227.3 538.4 L226.5 537.2 L225.7 536.7 L224.9 537.8 L224.1 538.5 L223.3 539.1 L222.5 541.5 L221.7 541.2 L220.9 540.1 L220.1 541.2 L219.3 543.8 L218.5 542.4Z" fill="#858585" fill-opacity="0.5"/>
<path d="M347.6 552.0 L348.4 552.7 L349.2 551.9 L350.0 550.5 L350.8 550.7 L351.6 546.9 L352.5 544.5 L353.3 545.5 L354.1 542.9 L354.9 545.0 L355.7 544.6 L356.6 546.8 L357.4 547.6 L358.2 548.5 L359.0 548.0 L359.8 547.4 L360.7 545.2 L361.5 546.6 L362.3 546.5 L363.1 544.9 L363.9 542.0 L364.8 545.1 L365.6 543.9 L366.4 543.5 L367.2 544.8 L368.0 545.0 L368.9 547.3 L369.7 551.4 L370.5 552.5 L371.3 555.6 L372.1 554.1 L373.0 553.9 L373.8 557.1 L373.8 576.1 L373.0 572.5 L372.1 572.3 L371.3 570.8 L370.5 569.6 L369.7 565.2 L368.9 565.3 L368.0 566.9 L367.2 564.3 L366.4 564.3 L365.6 561.9 L364.8 559.7 L363.9 558.8 L363.1 559.7 L362.3 560.2 L361.5 561.9 L360.7 561.3 L359.8 563.3 L359.0 566.6 L358.2 567.4 L357.4 568.2 L356.6 566.1 L355.7 566.1 L354.9 566.9 L354.1 566.5 L353.3 567.3 L352.5 567.1 L351.6 563.6 L350.8 564.3 L350.0 566.9 L349.2 565.8 L348.4 566.8 L347.6 566.9Z" fill="#858585" fill-opacity="0.5"/>
<path d="M218.5 564.3C218.7 567.6 219.7 591.3 220.2 596.8C220.7 602.3 222.9 619.2 223.5 619.2C224.1 619.2 225.9 600.5 226.5 596.8C227.0 593.0 228.6 583.5 229.0 581.8C229.4 580.1 229.9 576.2 230.2 579.3C230.6 582.4 232.2 605.9 232.7 612.5C233.2 619.0 234.7 639.7 235.2 644.9C235.7 650.2 237.3 660.4 237.7 664.9C238.1 669.4 238.6 685.1 239.0 689.9C239.3 694.6 240.5 709.6 241.0 712.3C241.5 715.1 243.3 716.6 244.0 717.3C244.6 718.1 247.1 718.1 247.7 719.8C248.3 721.6 249.7 731.8 250.2 734.8C250.7 737.8 252.1 748.4 252.7 749.8C253.3 751.1 255.7 748.9 256.4 748.5C257.2 748.1 259.4 745.6 260.2 746.0C260.9 746.4 263.3 750.6 263.9 752.3C264.6 753.9 265.9 759.8 266.4 762.2C266.9 764.7 268.5 775.1 268.9 777.2C269.4 779.4 270.5 783.0 270.9 783.5C271.4 784.0 272.9 783.6 273.4 782.2C273.9 780.8 275.4 774.0 275.9 769.7C276.4 765.5 278.0 747.3 278.4 739.8C278.8 732.3 279.8 703.1 280.1 694.9C280.5 686.6 281.5 659.9 281.9 657.4C282.3 654.9 283.5 666.1 283.9 669.9C284.3 673.6 285.9 690.9 286.4 694.9C286.8 698.8 288.0 711.8 288.4 709.8C288.8 707.8 289.8 682.4 290.1 674.9C290.5 667.4 291.5 642.4 291.9 634.9C292.3 627.4 293.6 605.2 293.9 600.0C294.2 594.8 294.8 582.1 295.1 583.0C295.4 584.0 296.5 602.9 296.9 609.3C297.3 615.6 298.5 643.2 298.9 646.7C299.3 650.2 300.5 649.2 300.9 644.2C301.2 639.2 302.3 606.5 302.6 596.8C303.0 587.0 304.0 553.6 304.4 546.9C304.7 540.1 305.8 530.8 306.4 529.4C306.9 528.0 309.4 533.4 310.1 533.1C310.9 532.9 313.1 527.8 313.9 526.9C314.6 526.0 316.9 524.3 317.6 524.4C318.3 524.5 320.7 527.6 321.3 528.1C322.0 528.6 323.2 530.1 323.8 529.4C324.5 528.6 326.8 522.0 327.6 520.6C328.3 519.3 330.6 516.3 331.3 515.6C332.1 515.0 334.3 514.0 335.1 514.4C335.8 514.8 338.1 517.6 338.8 519.4C339.5 521.1 341.3 528.1 341.8 531.9C342.3 535.6 343.4 551.3 343.8 556.8C344.2 562.3 345.4 581.7 345.8 586.8C346.2 591.9 347.1 608.5 347.6 608.0C348.0 607.5 349.6 587.9 350.1 581.8C350.5 575.7 351.7 550.8 352.1 546.9C352.4 542.9 353.4 540.9 353.8 541.9C354.2 542.9 355.8 554.8 356.3 556.8C356.7 558.8 357.8 562.1 358.3 561.8C358.8 561.6 360.7 555.5 361.3 554.3C361.8 553.2 363.2 550.4 363.8 550.6C364.3 550.9 366.2 554.7 366.8 556.8C367.4 559.0 369.4 567.3 370.0 571.8C370.7 576.3 372.6 596.4 373.3 601.8C373.9 607.1 375.7 624.5 376.3 625.5C376.8 626.5 378.3 614.6 378.8 611.8C379.3 608.9 381.0 598.3 381.3 596.8" stroke="#9a9a9a" stroke-opacity="0.5" stroke-width="4.8" fill="none" stroke-linejoin="round"/>
<path d="M239.0 682.7 L239.8 693.5 L240.6 701.9 L241.4 706.1 L242.2 707.0 L243.0 708.9 L243.8 709.5 L244.6 710.0 L245.4 712.8 L246.3 712.8 L247.1 712.0 L247.9 713.8 L248.7 719.6 L249.5 722.6 L250.3 727.7 L251.1 734.7 L251.9 738.9 L252.7 743.2 L253.5 742.7 L254.4 741.9 L255.2 743.6 L256.0 743.3 L256.8 742.5 L257.6 741.8 L258.4 741.3 L259.2 741.6 L260.0 740.6 L260.8 741.7 L261.6 741.1 L262.5 743.9 L263.3 743.7 L264.1 744.6 L264.9 750.2 L265.7 751.7 L266.5 756.1 L267.3 760.3 L268.1 766.9 L268.9 770.6 L269.8 774.1 L270.6 776.6 L271.4 776.9 L272.2 775.7 L273.0 775.9 L273.8 774.2 L274.6 769.3 L275.4 766.8 L276.2 760.0 L277.0 748.6 L277.9 739.8 L278.7 726.3 L279.5 705.4 L280.3 688.2 L281.1 688.3 L281.9 688.3 L282.7 688.4 L283.5 687.5 L284.3 688.1 L285.1 689.7 L286.0 690.4 L286.8 691.1 L287.6 697.6 L288.4 701.9 L288.4 714.9 L287.6 709.3 L286.8 703.2 L286.0 701.8 L285.1 702.4 L284.3 701.4 L283.5 702.0 L282.7 701.3 L281.9 702.5 L281.1 701.3 L280.3 701.2 L279.5 720.3 L278.7 741.1 L277.9 754.5 L277.0 763.4 L276.2 772.5 L275.4 779.8 L274.6 782.3 L273.8 788.5 L273.0 789.4 L272.2 789.8 L271.4 789.4 L270.6 787.8 L269.8 785.8 L268.9 785.3 L268.1 780.7 L267.3 774.5 L266.5 769.1 L265.7 764.2 L264.9 762.1 L264.1 757.9 L263.3 757.7 L262.5 756.0 L261.6 757.3 L260.8 755.8 L260.0 754.2 L259.2 753.5 L258.4 752.4 L257.6 754.3 L256.8 754.7 L256.0 755.1 L255.2 756.5 L254.4 756.1 L253.5 757.6 L252.7 757.2 L251.9 750.9 L251.1 746.1 L250.3 741.0 L249.5 736.5 L248.7 732.5 L247.9 728.6 L247.1 725.5 L246.3 725.3 L245.4 724.3 L244.6 724.6 L243.8 724.5 L243.0 722.0 L242.2 719.6 L241.4 718.3 L240.6 713.5 L239.8 704.2 L239.0 696.1Z" fill="#808080" fill-opacity="0.5"/>
<path d="M218.5 559.3C218.7 562.1 219.8 582.1 220.2 586.8C220.7 591.5 222.2 604.4 222.7 606.8C223.2 609.1 224.7 612.5 225.2 610.5C225.7 608.5 227.2 589.9 227.7 586.8C228.2 583.7 229.7 578.8 230.2 579.3C230.7 579.8 232.1 589.4 232.7 591.8C233.3 594.2 235.7 602.8 236.5 603.0C237.2 603.3 239.6 593.9 240.2 594.3C240.8 594.7 242.2 603.5 242.7 606.8C243.2 610.0 244.7 623.4 245.2 626.7C245.7 630.1 247.1 639.2 247.7 640.5C248.3 641.7 250.6 639.7 251.4 639.2C252.3 638.7 255.4 636.2 256.4 635.5C257.4 634.7 260.6 632.4 261.4 631.7C262.3 631.1 264.6 628.5 265.2 629.2C265.8 630.0 267.1 637.2 267.7 639.2C268.2 641.2 270.3 650.4 270.9 649.2C271.5 648.0 272.9 631.7 273.4 626.7C274.0 621.7 275.8 601.0 276.4 599.3C277.0 597.5 278.8 607.0 279.4 609.3C280.0 611.5 282.0 620.0 282.6 621.7C283.3 623.5 285.8 626.7 286.4 626.7C287.0 626.7 288.4 624.2 288.9 621.7C289.4 619.2 290.8 605.3 291.4 601.8C291.9 598.3 293.8 586.8 294.4 586.8C295.0 586.8 297.1 599.8 297.6 601.8C298.2 603.8 299.7 609.8 300.1 606.8C300.5 603.8 301.5 579.3 301.9 571.8C302.2 564.3 303.4 537.6 303.9 531.9C304.3 526.1 305.7 516.3 306.4 514.4C307.0 512.5 309.4 513.5 310.1 513.1C310.9 512.8 313.0 511.2 313.9 510.7C314.7 510.2 317.9 508.7 318.9 508.2C319.8 507.7 322.8 506.3 323.8 505.7C324.8 505.0 328.0 502.0 328.8 501.9C329.7 501.8 331.8 503.4 332.6 504.4C333.3 505.4 335.6 510.2 336.3 511.9C337.1 513.7 339.3 519.6 340.1 521.9C340.8 524.1 343.2 531.9 343.8 534.4C344.4 536.9 345.7 544.0 346.3 546.9C346.9 549.7 349.3 561.6 350.1 563.1C350.8 564.6 353.2 562.5 353.8 561.8C354.4 561.2 355.7 558.8 356.3 556.8C356.9 554.8 359.4 545.1 360.0 541.9C360.7 538.6 362.0 526.5 362.5 524.4C363.0 522.3 364.4 520.4 365.0 520.6C365.7 520.9 368.1 525.0 368.8 526.9C369.4 528.8 371.1 536.6 371.8 539.4C372.4 542.1 374.3 551.1 375.0 554.3C375.7 557.6 378.1 569.1 378.8 571.8C379.4 574.6 381.0 580.8 381.3 581.8" stroke="#8c8cee" stroke-opacity="0.6" stroke-width="5" fill="none" stroke-linejoin="round"/>
<path d="M218.5 531.9C218.9 531.8 221.8 531.1 222.7 530.6C223.7 530.1 226.7 527.9 227.7 526.9C228.7 525.9 231.7 522.1 232.7 520.6C233.7 519.1 236.9 513.3 237.7 511.9C238.5 510.5 240.3 506.8 241.0 506.9C241.6 507.0 243.4 511.9 244.0 513.1C244.5 514.4 246.0 520.3 246.4 519.4C246.9 518.5 248.4 508.4 248.9 504.4C249.4 500.4 251.0 482.9 251.4 479.4C251.9 476.0 252.9 470.0 253.4 469.5C253.9 469.0 255.8 473.6 256.4 474.5C257.1 475.3 259.4 477.7 260.2 478.2C260.9 478.7 263.2 479.4 263.9 479.4C264.7 479.4 266.9 478.5 267.7 478.2C268.4 477.9 270.7 476.2 271.4 476.5C272.2 476.7 274.4 479.4 275.2 480.7C275.9 482.0 278.2 487.8 278.9 489.4C279.6 491.1 281.3 497.2 281.9 496.9C282.5 496.7 284.5 488.9 285.1 486.9C285.8 484.9 288.1 478.3 288.9 477.0C289.6 475.6 292.0 473.7 292.6 473.2C293.3 472.7 294.6 471.1 295.1 472.0C295.6 472.8 297.1 480.0 297.6 481.9C298.1 483.9 299.5 490.8 300.1 491.9C300.7 493.1 303.0 492.9 303.9 493.2C304.7 493.4 307.9 493.9 308.9 494.4C309.9 494.9 312.9 497.4 313.9 498.2C314.8 498.9 317.9 501.2 318.9 501.9C319.8 502.7 323.0 504.8 323.8 505.7C324.7 506.5 326.8 509.9 327.6 510.7C328.3 511.4 330.5 512.7 331.3 513.1C332.2 513.6 335.4 514.8 336.3 515.6C337.2 516.5 339.3 520.3 340.1 521.9C340.8 523.5 343.1 530.8 343.8 531.9C344.6 533.0 346.8 533.6 347.6 533.1C348.3 532.6 350.6 527.9 351.3 526.9C352.0 525.9 354.3 523.5 355.0 523.1C355.8 522.8 358.0 522.8 358.8 523.1C359.5 523.5 361.8 526.3 362.5 526.9C363.3 527.5 365.5 529.3 366.3 529.4C367.0 529.5 369.3 529.3 370.0 528.1C370.8 527.0 373.1 519.4 373.8 518.1C374.4 516.9 376.0 515.3 376.8 515.6C377.5 516.0 380.8 521.3 381.3 521.9" stroke="#9ad79a" stroke-opacity="0.85" stroke-width="3.8" fill="none" stroke-linejoin="round"/>
<path d="M218.5 559.3C218.7 562.1 219.8 582.1 220.2 586.8C220.7 591.5 222.2 604.4 222.7 606.8C223.2 609.1 224.7 612.5 225.2 610.5C225.7 608.5 227.2 589.9 227.7 586.8C228.2 583.7 229.7 578.8 230.2 579.3C230.7 579.8 232.1 589.4 232.7 591.8C233.3 594.2 235.7 602.8 236.5 603.0C237.2 603.3 239.6 593.9 240.2 594.3C240.8 594.7 242.2 603.5 242.7 606.8C243.2 610.0 244.7 623.4 245.2 626.7C245.7 630.1 247.1 639.2 247.7 640.5C248.3 641.7 250.6 639.7 251.4 639.2C252.3 638.7 255.4 636.2 256.4 635.5C257.4 634.7 260.6 632.4 261.4 631.7C262.3 631.1 264.6 628.5 265.2 629.2C265.8 630.0 267.1 637.2 267.7 639.2C268.2 641.2 270.3 650.4 270.9 649.2C271.5 648.0 272.9 631.7 273.4 626.7C274.0 621.7 275.8 601.0 276.4 599.3C277.0 597.5 278.8 607.0 279.4 609.3C280.0 611.5 282.0 620.0 282.6 621.7C283.3 623.5 285.8 626.7 286.4 626.7C287.0 626.7 288.4 624.2 288.9 621.7C289.4 619.2 290.8 605.3 291.4 601.8C291.9 598.3 293.8 586.8 294.4 586.8C295.0 586.8 297.1 599.8 297.6 601.8C298.2 603.8 299.7 609.8 300.1 606.8C300.5 603.8 301.5 579.3 301.9 571.8C302.2 564.3 303.4 537.6 303.9 531.9C304.3 526.1 305.7 516.3 306.4 514.4C307.0 512.5 309.4 513.5 310.1 513.1C310.9 512.8 313.0 511.2 313.9 510.7C314.7 510.2 317.9 508.7 318.9 508.2C319.8 507.7 322.8 506.3 323.8 505.7C324.8 505.0 328.0 502.0 328.8 501.9C329.7 501.8 331.8 503.4 332.6 504.4C333.3 505.4 335.6 510.2 336.3 511.9C337.1 513.7 339.3 519.6 340.1 521.9C340.8 524.1 343.2 531.9 343.8 534.4C344.4 536.9 345.7 544.0 346.3 546.9C346.9 549.7 349.3 561.6 350.1 563.1C350.8 564.6 353.2 562.5 353.8 561.8C354.4 561.2 355.7 558.8 356.3 556.8C356.9 554.8 359.4 545.1 360.0 541.9C360.7 538.6 362.0 526.5 362.5 524.4C363.0 522.3 364.4 520.4 365.0 520.6C365.7 520.9 368.1 525.0 368.8 526.9C369.4 528.8 371.1 536.6 371.8 539.4C372.4 542.1 374.3 551.1 375.0 554.3C375.7 557.6 378.1 569.1 378.8 571.8C379.4 574.6 381.0 580.8 381.3 581.8" stroke="#15157a" stroke-width="1.90" fill="none" stroke-linejoin="round"/>
<path d="M218.5 564.3C218.7 567.6 219.7 591.3 220.2 596.8C220.7 602.3 222.9 619.2 223.5 619.2C224.1 619.2 225.9 600.5 226.5 596.8C227.0 593.0 228.6 583.5 229.0 581.8C229.4 580.1 229.9 576.2 230.2 579.3C230.6 582.4 232.2 605.9 232.7 612.5C233.2 619.0 234.7 639.7 235.2 644.9C235.7 650.2 237.3 660.4 237.7 664.9C238.1 669.4 238.6 685.1 239.0 689.9C239.3 694.6 240.5 709.6 241.0 712.3C241.5 715.1 243.3 716.6 244.0 717.3C244.6 718.1 247.1 718.1 247.7 719.8C248.3 721.6 249.7 731.8 250.2 734.8C250.7 737.8 252.1 748.4 252.7 749.8C253.3 751.1 255.7 748.9 256.4 748.5C257.2 748.1 259.4 745.6 260.2 746.0C260.9 746.4 263.3 750.6 263.9 752.3C264.6 753.9 265.9 759.8 266.4 762.2C266.9 764.7 268.5 775.1 268.9 777.2C269.4 779.4 270.5 783.0 270.9 783.5C271.4 784.0 272.9 783.6 273.4 782.2C273.9 780.8 275.4 774.0 275.9 769.7C276.4 765.5 278.0 747.3 278.4 739.8C278.8 732.3 279.8 703.1 280.1 694.9C280.5 686.6 281.5 659.9 281.9 657.4C282.3 654.9 283.5 666.1 283.9 669.9C284.3 673.6 285.9 690.9 286.4 694.9C286.8 698.8 288.0 711.8 288.4 709.8C288.8 707.8 289.8 682.4 290.1 674.9C290.5 667.4 291.5 642.4 291.9 634.9C292.3 627.4 293.6 605.2 293.9 600.0C294.2 594.8 294.8 582.1 295.1 583.0C295.4 584.0 296.5 602.9 296.9 609.3C297.3 615.6 298.5 643.2 298.9 646.7C299.3 650.2 300.5 649.2 300.9 644.2C301.2 639.2 302.3 606.5 302.6 596.8C303.0 587.0 304.0 553.6 304.4 546.9C304.7 540.1 305.8 530.8 306.4 529.4C306.9 528.0 309.4 533.4 310.1 533.1C310.9 532.9 313.1 527.8 313.9 526.9C314.6 526.0 316.9 524.3 317.6 524.4C318.3 524.5 320.7 527.6 321.3 528.1C322.0 528.6 323.2 530.1 323.8 529.4C324.5 528.6 326.8 522.0 327.6 520.6C328.3 519.3 330.6 516.3 331.3 515.6C332.1 515.0 334.3 514.0 335.1 514.4C335.8 514.8 338.1 517.6 338.8 519.4C339.5 521.1 341.3 528.1 341.8 531.9C342.3 535.6 343.4 551.3 343.8 556.8C344.2 562.3 345.4 581.7 345.8 586.8C346.2 591.9 347.1 608.5 347.6 608.0C348.0 607.5 349.6 587.9 350.1 581.8C350.5 575.7 351.7 550.8 352.1 546.9C352.4 542.9 353.4 540.9 353.8 541.9C354.2 542.9 355.8 554.8 356.3 556.8C356.7 558.8 357.8 562.1 358.3 561.8C358.8 561.6 360.7 555.5 361.3 554.3C361.8 553.2 363.2 550.4 363.8 550.6C364.3 550.9 366.2 554.7 366.8 556.8C367.4 559.0 369.4 567.3 370.0 571.8C370.7 576.3 372.6 596.4 373.3 601.8C373.9 607.1 375.7 624.5 376.3 625.5C376.8 626.5 378.3 614.6 378.8 611.8C379.3 608.9 381.0 598.3 381.3 596.8" stroke="#0c0c0c" stroke-width="2.13" fill="none" stroke-linejoin="round"/>
<path d="M218.5 531.9C218.9 531.8 221.8 531.1 222.7 530.6C223.7 530.1 226.7 527.9 227.7 526.9C228.7 525.9 231.7 522.1 232.7 520.6C233.7 519.1 236.9 513.3 237.7 511.9C238.5 510.5 240.3 506.8 241.0 506.9C241.6 507.0 243.4 511.9 244.0 513.1C244.5 514.4 246.0 520.3 246.4 519.4C246.9 518.5 248.4 508.4 248.9 504.4C249.4 500.4 251.0 482.9 251.4 479.4C251.9 476.0 252.9 470.0 253.4 469.5C253.9 469.0 255.8 473.6 256.4 474.5C257.1 475.3 259.4 477.7 260.2 478.2C260.9 478.7 263.2 479.4 263.9 479.4C264.7 479.4 266.9 478.5 267.7 478.2C268.4 477.9 270.7 476.2 271.4 476.5C272.2 476.7 274.4 479.4 275.2 480.7C275.9 482.0 278.2 487.8 278.9 489.4C279.6 491.1 281.3 497.2 281.9 496.9C282.5 496.7 284.5 488.9 285.1 486.9C285.8 484.9 288.1 478.3 288.9 477.0C289.6 475.6 292.0 473.7 292.6 473.2C293.3 472.7 294.6 471.1 295.1 472.0C295.6 472.8 297.1 480.0 297.6 481.9C298.1 483.9 299.5 490.8 300.1 491.9C300.7 493.1 303.0 492.9 303.9 493.2C304.7 493.4 307.9 493.9 308.9 494.4C309.9 494.9 312.9 497.4 313.9 498.2C314.8 498.9 317.9 501.2 318.9 501.9C319.8 502.7 323.0 504.8 323.8 505.7C324.7 506.5 326.8 509.9 327.6 510.7C328.3 511.4 330.5 512.7 331.3 513.1C332.2 513.6 335.4 514.8 336.3 515.6C337.2 516.5 339.3 520.3 340.1 521.9C340.8 523.5 343.1 530.8 343.8 531.9C344.6 533.0 346.8 533.6 347.6 533.1C348.3 532.6 350.6 527.9 351.3 526.9C352.0 525.9 354.3 523.5 355.0 523.1C355.8 522.8 358.0 522.8 358.8 523.1C359.5 523.5 361.8 526.3 362.5 526.9C363.3 527.5 365.5 529.3 366.3 529.4C367.0 529.5 369.3 529.3 370.0 528.1C370.8 527.0 373.1 519.4 373.8 518.1C374.4 516.9 376.0 515.3 376.8 515.6C377.5 516.0 380.8 521.3 381.3 521.9" stroke="#184a1e" stroke-width="1.96" fill="none" stroke-linejoin="round"/>
</g>
</g>
<rect x="218.4" y="451.0" width="163.1" height="348.7" fill="none" stroke="#484848" stroke-width="1.5"/>
<rect x="218.4" y="433.1" width="163.1" height="17.9" fill="#cbcbcb" stroke="#484848" stroke-width="1.5"/>
<text x="299.9" y="445.4" font-size="8.6" text-anchor="middle" fill="#151515" stroke="#151515" stroke-width="0.25">2</text>
<path d="M253.8 799.7v3.2M292.5 799.7v3.2M330.6 799.7v3.2M369.1 799.7v3.2" stroke="#333" stroke-width="1" fill="none"/>
<text transform="translate(278.1 820.4) rotate(-45)" font-size="14.6" text-anchor="end" fill="#161616" stroke="#161616" stroke-width="0.3">jul 2020</text>
<text transform="translate(316.8 820.4) rotate(-45)" font-size="14.6" text-anchor="end" fill="#161616" stroke="#161616" stroke-width="0.3">okt 2020</text>
<text transform="translate(354.9 820.4) rotate(-45)" font-size="14.6" text-anchor="end" fill="#161616" stroke="#161616" stroke-width="0.3">jan 2021</text>
<text transform="translate(393.4 820.4) rotate(-45)" font-size="14.6" text-anchor="end" fill="#161616" stroke="#161616" stroke-width="0.3">apr 2021</text>
<g clip-path="url(#c_b3)">
<rect x="388.3" y="451.0" width="163.9" height="348.7" fill="#fff"/>
<path d="M388.3 493.4H552.2M388.3 601.8H552.2M388.3 710.2H552.2M404.3 451.0V799.7M443.0 451.0V799.7M481.5 451.0V799.7M519.8 451.0V799.7" stroke="#f2f2f2" stroke-width="0.8" fill="none"/>
<path d="M388.3 547.6H552.2M388.3 656.0H552.2M388.3 764.4H552.2M423.7 451.0V799.7M462.4 451.0V799.7M500.5 451.0V799.7M539.0 451.0V799.7" stroke="#e8e8e8" stroke-width="1" fill="none"/>
<g clip-path="url(#h_b3)"><g filter="url(#bl)">
<rect x="386.3" y="572.3" width="167.9" height="112.5" fill="url(#g_b3_0)"/>
<rect x="386.3" y="572.3" width="167.9" height="112.5" fill="url(#g_b3_1)" mask="url(#mk1)"/>
<rect x="386.3" y="572.3" width="167.9" height="112.5" fill="url(#g_b3_2)" mask="url(#mk2)"/>
<rect x="386.3" y="572.3" width="167.9" height="112.5" fill="url(#g_b3_3)" mask="url(#mk3)"/>
</g></g>
<path d="M388.3 573.9H552.2" stroke="#fff3a0" stroke-opacity="0.7" stroke-width="1"/><path d="M388.3 683.3H552.2" stroke="#a8ecf6" stroke-opacity="0.8" stroke-width="1.2"/>
<path d="M388.3 547.6H552.2" stroke="#9c5555" stroke-opacity="0.9" stroke-width="1.74" stroke-dasharray="2.91 3.02" fill="none"/>
<g filter="url(#bl2)">
<path d="M388.0 532.4 L388.8 530.9 L389.6 529.3 L390.4 529.3 L391.2 527.8 L392.0 528.1 L392.8 527.2 L393.6 526.8 L394.4 525.6 L395.2 524.6 L396.0 523.6 L396.8 524.0 L397.6 523.1 L398.4 523.5 L399.2 521.5 L400.0 521.9 L400.8 522.3 L401.6 522.6 L402.4 521.3 L403.2 521.7 L404.0 522.5 L404.8 522.0 L405.6 521.0 L406.4 518.9 L407.2 518.2 L408.0 516.9 L408.8 514.2 L409.6 513.4 L410.4 512.3 L411.2 511.2 L412.0 509.5 L412.8 508.0 L413.6 507.4 L414.4 505.1 L415.2 504.2 L416.0 503.3 L416.8 504.2 L417.6 505.5 L418.4 506.3 L419.2 507.5 L420.1 509.8 L420.9 511.3 L421.7 509.0 L422.5 507.6 L423.3 507.1 L424.1 505.6 L424.9 503.9 L425.7 504.3 L426.5 503.9 L427.3 502.2 L428.1 500.2 L428.9 500.4 L429.7 502.2 L430.5 501.4 L431.3 502.8 L432.1 503.3 L432.9 503.4 L433.7 504.1 L434.5 502.9 L435.3 502.5 L436.1 502.8 L436.9 501.5 L437.7 501.3 L438.5 500.1 L439.3 499.4 L440.1 499.7 L440.9 498.4 L441.7 498.6 L442.5 498.5 L443.3 499.3 L444.1 500.8 L444.9 502.5 L445.7 501.8 L446.5 502.2 L447.3 503.7 L448.1 505.9 L448.9 508.0 L449.7 507.9 L450.5 509.5 L451.3 509.2 L452.1 511.5 L452.9 511.2 L453.7 511.4 L454.5 511.8 L455.3 511.0 L456.1 509.3 L456.9 506.2 L457.7 504.3 L458.5 501.7 L459.3 499.6 L460.1 498.0 L460.9 494.4 L461.7 491.3 L462.5 489.3 L463.3 487.5 L464.1 491.5 L464.9 493.5 L465.7 497.5 L466.5 501.9 L467.3 505.2 L468.1 508.4 L468.9 511.4 L469.7 515.4 L470.5 517.4 L471.3 516.3 L472.1 516.4 L473.0 516.1 L473.8 513.7 L474.6 514.1 L475.4 513.9 L476.2 514.9 L477.0 516.3 L477.8 516.6 L478.6 518.6 L479.4 519.7 L480.2 520.3 L481.0 521.9 L481.8 521.0 L482.6 522.4 L483.4 521.5 L484.2 522.4 L485.0 521.4 L485.8 522.8 L486.6 521.6 L487.4 521.1 L488.2 521.8 L489.0 521.1 L489.8 520.9 L490.6 521.5 L491.4 521.8 L492.2 521.9 L493.0 522.5 L493.8 521.7 L494.6 522.6 L495.4 522.3 L496.2 523.2 L497.0 521.8 L497.8 522.6 L498.6 521.7 L499.4 520.5 L500.2 520.6 L501.0 521.5 L501.8 522.6 L502.6 522.1 L503.4 521.2 L504.2 522.1 L505.0 521.9 L505.8 523.6 L506.6 524.9 L507.4 525.5 L508.2 525.4 L509.0 527.4 L509.8 529.2 L510.6 529.9 L511.4 530.0 L512.2 531.0 L513.0 533.8 L513.8 534.4 L514.6 535.4 L515.4 536.0 L516.2 536.5 L517.0 535.7 L517.8 534.9 L518.6 535.1 L519.4 533.7 L520.2 531.9 L521.0 530.1 L521.8 529.3 L522.6 527.1 L523.4 525.7 L524.2 524.3 L525.0 523.0 L525.9 523.3 L526.7 522.2 L527.5 522.0 L528.3 522.9 L529.1 522.7 L529.9 523.3 L530.7 524.0 L531.5 523.6 L532.3 524.9 L533.1 524.8 L533.9 525.6 L534.7 526.5 L535.5 526.9 L536.3 527.0 L537.1 526.6 L537.9 524.7 L538.7 524.3 L539.5 523.2 L540.3 523.7 L541.1 523.5 L541.9 522.5 L542.7 521.7 L543.5 521.8 L544.3 521.5 L545.1 521.1 L545.9 518.7 L546.7 518.2 L547.5 517.4 L548.3 517.5 L549.1 517.4 L549.9 517.4 L550.7 516.2 L551.5 514.9 L551.5 524.2 L550.7 525.3 L549.9 524.4 L549.1 525.4 L548.3 526.7 L547.5 526.5 L546.7 528.3 L545.9 528.0 L545.1 529.7 L544.3 529.4 L543.5 530.7 L542.7 530.0 L541.9 529.9 L541.1 531.2 L540.3 533.0 L539.5 533.6 L538.7 534.4 L537.9 533.9 L537.1 535.1 L536.3 536.2 L535.5 535.4 L534.7 534.9 L533.9 534.9 L533.1 533.5 L532.3 534.2 L531.5 533.1 L530.7 532.7 L529.9 532.6 L529.1 532.0 L528.3 530.6 L527.5 531.2 L526.7 531.8 L525.9 533.0 L525.0 533.7 L524.2 533.9 L523.4 535.2 L522.6 535.7 L521.8 537.7 L521.0 539.3 L520.2 540.2 L519.4 542.1 L518.6 543.5 L517.8 544.4 L517.0 544.5 L516.2 544.1 L515.4 543.2 L514.6 543.0 L513.8 543.0 L513.0 542.8 L512.2 541.1 L511.4 540.1 L510.6 537.6 L509.8 538.2 L509.0 536.3 L508.2 535.3 L507.4 534.2 L506.6 533.3 L505.8 532.6 L505.0 531.7 L504.2 530.4 L503.4 531.1 L502.6 530.4 L501.8 529.4 L501.0 529.2 L500.2 529.2 L499.4 529.5 L498.6 530.9 L497.8 531.3 L497.0 530.5 L496.2 531.6 L495.4 530.7 L494.6 530.6 L493.8 530.6 L493.0 530.5 L492.2 529.9 L491.4 530.7 L490.6 529.3 L489.8 530.6 L489.0 531.7 L488.2 531.7 L487.4 531.5 L486.6 530.7 L485.8 529.9 L485.0 530.5 L484.2 529.9 L483.4 530.3 L482.6 529.5 L481.8 529.8 L481.0 527.8 L480.2 527.4 L479.4 527.0 L478.6 527.3 L477.8 528.0 L477.0 526.9 L476.2 525.8 L475.4 524.5 L474.6 524.3 L473.8 523.3 L473.0 523.4 L472.1 523.5 L471.3 525.2 L470.5 526.6 L469.7 523.8 L468.9 521.2 L468.1 516.4 L467.3 513.2 L466.5 508.9 L465.7 505.4 L464.9 503.1 L464.1 500.0 L463.3 497.3 L462.5 499.5 L461.7 501.3 L460.9 502.7 L460.1 506.4 L459.3 509.6 L458.5 510.6 L457.7 513.2 L456.9 515.1 L456.1 517.4 L455.3 518.1 L454.5 520.2 L453.7 522.3 L452.9 521.7 L452.1 520.8 L451.3 520.2 L450.5 519.6 L449.7 517.9 L448.9 517.8 L448.1 516.1 L447.3 513.7 L446.5 512.3 L445.7 511.9 L444.9 510.2 L444.1 509.7 L443.3 506.9 L442.5 506.7 L441.7 507.3 L440.9 508.3 L440.1 508.3 L439.3 508.2 L438.5 508.5 L437.7 509.6 L436.9 511.3 L436.1 511.1 L435.3 512.1 L434.5 512.5 L433.7 511.4 L432.9 510.8 L432.1 510.8 L431.3 511.6 L430.5 510.1 L429.7 509.5 L428.9 510.1 L428.1 509.8 L427.3 511.1 L426.5 512.4 L425.7 514.4 L424.9 515.1 L424.1 515.2 L423.3 515.2 L422.5 516.8 L421.7 517.5 L420.9 518.6 L420.1 518.7 L419.2 517.2 L418.4 515.2 L417.6 513.9 L416.8 513.4 L416.0 512.8 L415.2 513.1 L414.4 514.5 L413.6 515.4 L412.8 516.6 L412.0 518.0 L411.2 518.9 L410.4 519.3 L409.6 521.1 L408.8 523.5 L408.0 524.5 L407.2 526.0 L406.4 527.8 L405.6 530.3 L404.8 530.7 L404.0 531.0 L403.2 531.3 L402.4 530.0 L401.6 529.7 L400.8 529.1 L400.0 530.3 L399.2 532.0 L398.4 532.0 L397.6 531.7 L396.8 532.3 L396.0 534.6 L395.2 534.5 L394.4 534.6 L393.6 536.1 L392.8 537.2 L392.0 537.5 L391.2 539.7 L390.4 539.9 L389.6 539.9 L388.8 540.3 L388.0 539.6Z" fill="#858585" fill-opacity="0.5"/>
<path d="M474.1 508.1 L474.9 506.4 L475.7 507.4 L476.5 509.7 L477.3 509.4 L478.2 508.6 L479.0 511.8 L479.8 509.0 L480.6 506.5 L481.4 507.6 L482.2 508.4 L483.0 507.1 L483.8 506.7 L484.6 508.5 L485.4 504.6 L486.2 503.2 L487.0 501.3 L487.8 504.8 L488.6 501.7 L489.4 503.8 L490.2 504.0 L491.0 502.6 L491.9 496.2 L492.7 496.0 L493.5 496.0 L494.3 498.6 L495.1 495.0 L495.9 497.2 L496.7 498.4 L497.5 498.2 L498.3 496.4 L499.1 493.6 L499.9 496.0 L500.7 498.4 L501.5 495.2 L502.3 496.8 L503.1 496.9 L503.9 496.1 L504.7 495.9 L505.6 500.6 L506.4 498.7 L507.2 501.1 L508.0 504.9 L508.8 501.9 L509.6 502.1 L510.4 510.1 L511.2 509.0 L512.0 509.8 L512.8 508.1 L513.6 508.7 L514.4 500.7 L515.2 499.5 L516.0 499.9 L516.8 501.2 L517.6 501.2 L518.5 502.9 L519.3 501.6 L520.1 501.2 L520.9 498.7 L521.7 497.6 L522.5 496.0 L523.3 495.9 L524.1 501.5 L524.9 502.6 L525.7 510.1 L526.5 510.4 L527.3 513.6 L528.1 513.5 L528.9 516.5 L529.7 515.1 L530.5 515.1 L531.3 515.4 L532.2 511.8 L533.0 513.4 L533.8 511.5 L534.6 514.2 L535.4 515.3 L536.2 516.3 L537.0 512.6 L537.8 511.8 L538.6 511.4 L539.4 512.0 L540.2 515.8 L541.0 517.1 L541.8 517.9 L542.6 520.0 L543.4 519.2 L544.2 518.9 L545.1 516.6 L545.9 516.8 L546.7 517.2 L547.5 515.4 L548.3 515.4 L549.1 514.2 L549.9 515.7 L550.7 514.9 L551.5 514.9 L551.5 527.5 L550.7 526.6 L549.9 528.4 L549.1 529.5 L548.3 529.4 L547.5 529.5 L546.7 529.4 L545.9 529.2 L545.1 530.9 L544.2 531.5 L543.4 531.0 L542.6 532.6 L541.8 532.7 L541.0 533.1 L540.2 534.3 L539.4 537.1 L538.6 537.0 L537.8 537.3 L537.0 538.6 L536.2 535.4 L535.4 536.2 L534.6 537.7 L533.8 535.3 L533.0 535.2 L532.2 534.9 L531.3 538.3 L530.5 540.1 L529.7 539.3 L528.9 539.0 L528.1 540.3 L527.3 535.5 L526.5 533.4 L525.7 531.9 L524.9 533.3 L524.1 537.0 L523.3 541.7 L522.5 542.0 L521.7 540.3 L520.9 545.0 L520.1 544.6 L519.3 544.4 L518.5 539.3 L517.6 546.3 L516.8 548.7 L516.0 549.4 L515.2 543.0 L514.4 544.7 L513.6 544.6 L512.8 540.9 L512.0 541.6 L511.2 537.1 L510.4 537.9 L509.6 538.0 L508.8 534.6 L508.0 532.5 L507.2 536.0 L506.4 535.8 L505.6 534.1 L504.7 528.3 L503.9 531.0 L503.1 530.6 L502.3 527.8 L501.5 528.3 L500.7 528.4 L499.9 531.0 L499.1 533.0 L498.3 532.2 L497.5 530.5 L496.7 533.0 L495.9 533.9 L495.1 530.9 L494.3 535.0 L493.5 531.6 L492.7 529.7 L491.9 530.1 L491.0 532.0 L490.2 531.6 L489.4 536.1 L488.6 532.7 L487.8 532.0 L487.0 534.1 L486.2 530.5 L485.4 535.8 L484.6 536.1 L483.8 538.8 L483.0 538.0 L482.2 536.6 L481.4 539.6 L480.6 537.1 L479.8 533.8 L479.0 535.8 L478.2 538.6 L477.3 538.6 L476.5 537.9 L475.7 535.2 L474.9 531.7 L474.1 531.5Z" fill="#858585" fill-opacity="0.5"/>
<path d="M520.3 559.0 L521.1 555.1 L521.9 553.0 L522.7 550.8 L523.5 552.5 L524.4 552.7 L525.2 553.0 L526.0 555.2 L526.8 555.6 L527.6 555.8 L528.4 555.8 L529.2 553.7 L530.0 554.6 L530.8 554.3 L531.7 551.9 L532.5 549.1 L533.3 550.3 L534.1 554.2 L534.9 557.5 L535.7 559.3 L536.5 560.0 L536.5 574.7 L535.7 571.8 L534.9 570.5 L534.1 568.1 L533.3 564.3 L532.5 565.4 L531.7 566.2 L530.8 569.2 L530.0 572.8 L529.2 573.0 L528.4 571.5 L527.6 572.2 L526.8 570.9 L526.0 572.5 L525.2 572.1 L524.4 570.1 L523.5 572.8 L522.7 574.8 L521.9 573.9 L521.1 573.7 L520.3 574.5Z" fill="#858585" fill-opacity="0.5"/>
<path d="M388.0 589.3C388.2 592.5 389.9 616.2 390.5 621.7C391.0 627.2 392.9 646.2 393.5 644.2C394.1 642.2 396.2 607.6 396.7 601.8C397.3 595.9 398.7 585.5 399.2 585.5C399.7 585.6 401.2 598.5 401.7 602.5C402.2 606.4 403.7 620.7 404.2 625.0C404.7 629.2 406.3 640.4 406.7 644.9C407.2 649.4 408.3 665.3 408.7 669.9C409.1 674.5 410.0 688.4 410.5 691.1C410.9 693.8 412.8 695.7 413.5 697.3C414.1 699.0 416.1 704.6 416.7 707.3C417.3 710.1 418.7 721.3 419.2 724.8C419.7 728.3 421.3 739.7 421.7 742.3C422.1 744.9 423.0 750.6 423.4 751.0C423.9 751.4 425.4 747.0 425.9 746.0C426.4 745.0 427.9 740.7 428.4 741.0C429.0 741.4 431.0 748.1 431.7 749.8C432.4 751.4 434.7 756.0 435.4 757.3C436.1 758.5 437.9 761.8 438.4 762.2C439.0 762.7 440.4 763.2 440.9 762.2C441.4 761.3 442.9 754.8 443.4 752.3C443.9 749.8 445.4 741.0 445.9 737.3C446.4 733.5 448.0 720.8 448.4 714.8C448.8 708.8 450.0 683.9 450.4 677.4C450.8 670.9 451.8 651.2 452.1 649.9C452.5 648.7 453.7 661.4 454.1 664.9C454.6 668.4 456.2 681.7 456.6 684.9C457.1 688.0 458.0 698.1 458.4 696.1C458.8 694.1 460.0 673.0 460.4 664.9C460.8 656.8 462.0 624.3 462.4 615.0C462.8 605.7 464.0 573.6 464.4 571.8C464.8 570.0 465.8 590.3 466.1 596.8C466.5 603.3 467.5 632.2 467.9 636.7C468.2 641.2 469.3 644.5 469.6 641.7C470.0 639.0 471.0 618.2 471.4 609.3C471.7 600.3 473.0 559.7 473.4 551.9C473.8 544.0 474.8 532.5 475.4 530.6C475.9 528.8 478.4 533.1 479.1 533.1C479.9 533.1 482.1 531.3 482.9 530.6C483.6 530.0 485.9 526.9 486.6 526.9C487.3 526.9 489.6 530.6 490.3 530.6C491.1 530.6 493.3 527.6 494.1 526.9C494.8 526.1 497.1 523.8 497.8 523.1C498.6 522.5 500.8 520.9 501.6 520.6C502.3 520.4 504.6 520.0 505.3 520.6C506.1 521.3 508.4 525.0 509.1 526.9C509.7 528.8 511.1 534.9 511.6 539.4C512.0 543.9 512.9 564.6 513.3 571.8C513.7 579.1 515.0 605.6 515.3 611.8C515.7 617.9 516.4 634.5 516.8 633.0C517.2 631.5 518.6 603.4 519.0 596.8C519.5 590.2 520.7 570.6 521.0 566.8C521.4 563.1 522.4 559.7 522.8 559.3C523.2 559.0 524.8 562.5 525.3 563.1C525.8 563.7 527.2 566.0 527.8 565.6C528.3 565.2 530.2 560.1 530.8 559.3C531.3 558.6 532.8 557.3 533.3 558.1C533.8 558.8 535.3 564.9 535.8 566.8C536.3 568.7 537.8 574.8 538.3 576.8C538.8 578.8 540.3 583.3 540.8 586.8C541.3 590.3 542.8 607.8 543.3 611.8C543.7 615.8 544.8 625.7 545.3 626.7C545.8 627.7 547.6 624.2 548.3 621.7C548.9 619.2 551.2 603.8 551.5 601.8" stroke="#9a9a9a" stroke-opacity="0.5" stroke-width="4.8" fill="none" stroke-linejoin="round"/>
<path d="M410.5 686.3 L411.3 687.5 L412.1 689.3 L412.9 690.2 L413.7 691.3 L414.5 692.4 L415.3 697.2 L416.1 699.2 L417.0 703.1 L417.8 708.1 L418.6 713.8 L419.4 718.9 L420.2 725.2 L421.0 731.0 L421.8 737.0 L422.6 742.0 L423.5 743.5 L424.3 741.9 L425.1 740.8 L425.9 739.9 L426.7 739.4 L427.5 737.5 L428.3 735.8 L429.1 735.9 L430.0 738.8 L430.8 742.0 L431.6 742.5 L432.4 745.0 L433.2 747.2 L434.0 747.3 L434.8 750.1 L435.6 750.5 L436.5 751.3 L437.3 754.0 L438.1 753.7 L438.9 755.5 L439.7 756.3 L440.5 754.4 L441.3 754.7 L442.1 751.1 L443.0 747.8 L443.8 744.5 L444.6 739.7 L445.4 733.9 L446.2 729.1 L447.0 721.9 L447.8 715.1 L448.6 707.9 L449.5 704.9 L450.3 703.7 L451.1 703.7 L451.9 703.2 L452.7 702.0 L453.5 699.6 L454.3 697.0 L455.1 695.5 L456.0 693.6 L456.8 692.1 L457.6 691.6 L458.4 691.2 L458.4 701.9 L457.6 703.6 L456.8 704.4 L456.0 707.4 L455.1 710.2 L454.3 710.9 L453.5 710.9 L452.7 713.3 L451.9 714.2 L451.1 715.9 L450.3 717.3 L449.5 718.7 L448.6 721.1 L447.8 726.2 L447.0 735.2 L446.2 741.7 L445.4 747.3 L444.6 750.9 L443.8 755.4 L443.0 760.6 L442.1 763.0 L441.3 765.8 L440.5 767.7 L439.7 769.1 L438.9 770.4 L438.1 769.4 L437.3 766.7 L436.5 765.7 L435.6 763.2 L434.8 763.0 L434.0 759.0 L433.2 757.7 L432.4 756.9 L431.6 757.5 L430.8 754.5 L430.0 751.8 L429.1 749.2 L428.3 747.5 L427.5 749.6 L426.7 751.6 L425.9 753.7 L425.1 753.5 L424.3 757.1 L423.5 758.5 L422.6 753.7 L421.8 750.6 L421.0 745.6 L420.2 738.6 L419.4 731.6 L418.6 726.3 L417.8 720.7 L417.0 714.2 L416.1 710.9 L415.3 710.1 L414.5 708.2 L413.7 705.2 L412.9 702.9 L412.1 700.9 L411.3 698.2 L410.5 696.6Z" fill="#808080" fill-opacity="0.5"/>
<path d="M388.0 556.8C388.2 558.6 389.9 571.3 390.5 574.3C391.0 577.3 392.9 588.3 393.5 586.8C394.1 585.3 396.1 563.6 396.7 559.3C397.4 555.1 399.4 544.9 400.0 544.4C400.6 543.9 402.3 551.6 403.0 554.3C403.6 557.1 406.2 567.6 406.7 571.8C407.2 576.1 407.6 591.8 408.0 596.8C408.3 601.8 409.5 618.1 410.0 621.7C410.5 625.4 412.3 632.0 413.0 633.0C413.6 634.0 416.0 631.5 416.7 631.7C417.4 632.0 419.8 634.8 420.4 635.5C421.1 636.1 422.4 638.8 422.9 638.0C423.5 637.1 425.3 628.7 425.9 626.7C426.6 624.7 428.5 618.5 429.2 618.0C429.9 617.5 432.3 620.4 432.9 621.7C433.6 623.1 435.4 629.5 435.9 631.7C436.5 634.0 437.9 642.3 438.4 644.2C438.9 646.1 440.3 650.7 440.9 650.5C441.5 650.2 443.5 644.1 444.2 641.7C444.8 639.3 446.8 630.0 447.4 626.7C448.0 623.5 449.9 612.1 450.4 609.3C450.9 606.4 452.4 598.3 452.9 598.0C453.4 597.8 455.3 605.4 455.9 606.8C456.4 608.1 457.9 613.8 458.4 611.8C458.9 609.8 460.4 591.0 460.9 586.8C461.4 582.6 462.8 569.8 463.4 569.3C464.0 568.8 466.1 579.8 466.6 581.8C467.2 583.8 468.7 590.3 469.1 589.3C469.5 588.3 470.5 577.3 470.9 571.8C471.2 566.3 472.5 540.4 472.9 534.4C473.3 528.4 474.5 514.3 474.9 511.9C475.2 509.5 476.2 509.9 476.6 510.7C477.0 511.4 478.5 518.8 479.1 519.4C479.7 520.0 482.1 517.6 482.9 516.9C483.6 516.2 485.9 512.8 486.6 511.9C487.3 511.0 489.5 508.8 490.3 508.2C491.2 507.5 494.3 506.2 495.3 505.7C496.3 505.2 499.5 503.4 500.3 503.2C501.2 502.9 503.3 502.5 504.1 503.2C504.8 503.8 507.1 507.8 507.8 509.4C508.5 511.0 510.2 518.5 510.8 519.4C511.4 520.3 513.4 519.4 514.1 518.1C514.7 516.9 516.7 508.3 517.3 506.9C517.9 505.5 519.8 503.8 520.3 503.9C520.8 504.0 522.3 506.4 522.8 508.2C523.3 510.0 524.7 519.1 525.3 521.9C525.8 524.6 527.7 535.1 528.3 535.6C528.8 536.1 530.3 528.6 530.8 526.9C531.3 525.1 532.7 518.9 533.3 518.1C533.9 517.4 535.9 518.5 536.5 519.4C537.2 520.3 539.1 525.1 539.8 526.9C540.4 528.6 542.1 534.6 542.8 536.9C543.4 539.1 545.6 546.4 546.5 549.4C547.4 552.3 551.0 565.1 551.5 566.8" stroke="#8c8cee" stroke-opacity="0.6" stroke-width="5" fill="none" stroke-linejoin="round"/>
<path d="M388.0 535.6C388.4 535.4 390.9 533.9 391.7 533.1C392.6 532.4 395.9 528.9 396.7 528.1C397.6 527.4 399.6 525.8 400.5 525.6C401.3 525.5 404.6 527.6 405.5 526.9C406.3 526.1 408.5 519.8 409.2 518.1C410.0 516.5 412.2 511.7 413.0 510.7C413.7 509.7 416.0 507.7 416.7 508.2C417.4 508.7 419.7 515.4 420.4 515.6C421.2 515.9 423.4 511.7 424.2 510.7C424.9 509.7 427.2 506.0 427.9 505.7C428.7 505.3 430.9 506.7 431.7 506.9C432.4 507.2 434.7 508.5 435.4 508.2C436.2 507.8 438.4 503.7 439.2 503.2C439.9 502.7 442.2 502.7 442.9 503.2C443.7 503.7 445.9 507.0 446.7 508.2C447.4 509.3 449.7 513.5 450.4 514.4C451.1 515.3 453.4 517.4 454.1 516.9C454.9 516.4 457.1 511.4 457.9 509.4C458.6 507.4 461.1 498.6 461.6 496.9C462.2 495.3 463.0 492.9 463.4 493.2C463.8 493.4 464.9 497.5 465.4 499.4C465.8 501.3 467.4 509.7 467.9 511.9C468.4 514.2 469.7 521.3 470.4 521.9C471.0 522.5 473.4 518.1 474.1 518.1C474.9 518.1 477.1 521.1 477.9 521.9C478.6 522.6 480.9 525.1 481.6 525.6C482.4 526.1 484.5 526.9 485.4 526.9C486.2 526.9 489.3 525.6 490.3 525.6C491.3 525.6 494.3 526.9 495.3 526.9C496.3 526.9 499.3 525.6 500.3 525.6C501.3 525.6 504.3 526.1 505.3 526.9C506.3 527.6 509.4 531.9 510.3 533.1C511.2 534.4 513.3 538.6 514.1 539.4C514.8 540.1 517.1 541.1 517.8 540.6C518.5 540.1 520.8 535.6 521.5 534.4C522.3 533.1 524.5 528.9 525.3 528.1C526.0 527.4 528.3 526.8 529.0 526.9C529.8 527.0 532.0 529.0 532.8 529.4C533.5 529.8 535.7 530.9 536.5 530.6C537.4 530.4 540.5 527.6 541.5 526.9C542.5 526.1 545.5 523.8 546.5 523.1C547.5 522.5 551.0 520.9 551.5 520.6" stroke="#9ad79a" stroke-opacity="0.85" stroke-width="3.8" fill="none" stroke-linejoin="round"/>
<path d="M388.0 556.8C388.2 558.6 389.9 571.3 390.5 574.3C391.0 577.3 392.9 588.3 393.5 586.8C394.1 585.3 396.1 563.6 396.7 559.3C397.4 555.1 399.4 544.9 400.0 544.4C400.6 543.9 402.3 551.6 403.0 554.3C403.6 557.1 406.2 567.6 406.7 571.8C407.2 576.1 407.6 591.8 408.0 596.8C408.3 601.8 409.5 618.1 410.0 621.7C410.5 625.4 412.3 632.0 413.0 633.0C413.6 634.0 416.0 631.5 416.7 631.7C417.4 632.0 419.8 634.8 420.4 635.5C421.1 636.1 422.4 638.8 422.9 638.0C423.5 637.1 425.3 628.7 425.9 626.7C426.6 624.7 428.5 618.5 429.2 618.0C429.9 617.5 432.3 620.4 432.9 621.7C433.6 623.1 435.4 629.5 435.9 631.7C436.5 634.0 437.9 642.3 438.4 644.2C438.9 646.1 440.3 650.7 440.9 650.5C441.5 650.2 443.5 644.1 444.2 641.7C444.8 639.3 446.8 630.0 447.4 626.7C448.0 623.5 449.9 612.1 450.4 609.3C450.9 606.4 452.4 598.3 452.9 598.0C453.4 597.8 455.3 605.4 455.9 606.8C456.4 608.1 457.9 613.8 458.4 611.8C458.9 609.8 460.4 591.0 460.9 586.8C461.4 582.6 462.8 569.8 463.4 569.3C464.0 568.8 466.1 579.8 466.6 581.8C467.2 583.8 468.7 590.3 469.1 589.3C469.5 588.3 470.5 577.3 470.9 571.8C471.2 566.3 472.5 540.4 472.9 534.4C473.3 528.4 474.5 514.3 474.9 511.9C475.2 509.5 476.2 509.9 476.6 510.7C477.0 511.4 478.5 518.8 479.1 519.4C479.7 520.0 482.1 517.6 482.9 516.9C483.6 516.2 485.9 512.8 486.6 511.9C487.3 511.0 489.5 508.8 490.3 508.2C491.2 507.5 494.3 506.2 495.3 505.7C496.3 505.2 499.5 503.4 500.3 503.2C501.2 502.9 503.3 502.5 504.1 503.2C504.8 503.8 507.1 507.8 507.8 509.4C508.5 511.0 510.2 518.5 510.8 519.4C511.4 520.3 513.4 519.4 514.1 518.1C514.7 516.9 516.7 508.3 517.3 506.9C517.9 505.5 519.8 503.8 520.3 503.9C520.8 504.0 522.3 506.4 522.8 508.2C523.3 510.0 524.7 519.1 525.3 521.9C525.8 524.6 527.7 535.1 528.3 535.6C528.8 536.1 530.3 528.6 530.8 526.9C531.3 525.1 532.7 518.9 533.3 518.1C533.9 517.4 535.9 518.5 536.5 519.4C537.2 520.3 539.1 525.1 539.8 526.9C540.4 528.6 542.1 534.6 542.8 536.9C543.4 539.1 545.6 546.4 546.5 549.4C547.4 552.3 551.0 565.1 551.5 566.8" stroke="#15157a" stroke-width="1.90" fill="none" stroke-linejoin="round"/>
<path d="M388.0 589.3C388.2 592.5 389.9 616.2 390.5 621.7C391.0 627.2 392.9 646.2 393.5 644.2C394.1 642.2 396.2 607.6 396.7 601.8C397.3 595.9 398.7 585.5 399.2 585.5C399.7 585.6 401.2 598.5 401.7 602.5C402.2 606.4 403.7 620.7 404.2 625.0C404.7 629.2 406.3 640.4 406.7 644.9C407.2 649.4 408.3 665.3 408.7 669.9C409.1 674.5 410.0 688.4 410.5 691.1C410.9 693.8 412.8 695.7 413.5 697.3C414.1 699.0 416.1 704.6 416.7 707.3C417.3 710.1 418.7 721.3 419.2 724.8C419.7 728.3 421.3 739.7 421.7 742.3C422.1 744.9 423.0 750.6 423.4 751.0C423.9 751.4 425.4 747.0 425.9 746.0C426.4 745.0 427.9 740.7 428.4 741.0C429.0 741.4 431.0 748.1 431.7 749.8C432.4 751.4 434.7 756.0 435.4 757.3C436.1 758.5 437.9 761.8 438.4 762.2C439.0 762.7 440.4 763.2 440.9 762.2C441.4 761.3 442.9 754.8 443.4 752.3C443.9 749.8 445.4 741.0 445.9 737.3C446.4 733.5 448.0 720.8 448.4 714.8C448.8 708.8 450.0 683.9 450.4 677.4C450.8 670.9 451.8 651.2 452.1 649.9C452.5 648.7 453.7 661.4 454.1 664.9C454.6 668.4 456.2 681.7 456.6 684.9C457.1 688.0 458.0 698.1 458.4 696.1C458.8 694.1 460.0 673.0 460.4 664.9C460.8 656.8 462.0 624.3 462.4 615.0C462.8 605.7 464.0 573.6 464.4 571.8C464.8 570.0 465.8 590.3 466.1 596.8C466.5 603.3 467.5 632.2 467.9 636.7C468.2 641.2 469.3 644.5 469.6 641.7C470.0 639.0 471.0 618.2 471.4 609.3C471.7 600.3 473.0 559.7 473.4 551.9C473.8 544.0 474.8 532.5 475.4 530.6C475.9 528.8 478.4 533.1 479.1 533.1C479.9 533.1 482.1 531.3 482.9 530.6C483.6 530.0 485.9 526.9 486.6 526.9C487.3 526.9 489.6 530.6 490.3 530.6C491.1 530.6 493.3 527.6 494.1 526.9C494.8 526.1 497.1 523.8 497.8 523.1C498.6 522.5 500.8 520.9 501.6 520.6C502.3 520.4 504.6 520.0 505.3 520.6C506.1 521.3 508.4 525.0 509.1 526.9C509.7 528.8 511.1 534.9 511.6 539.4C512.0 543.9 512.9 564.6 513.3 571.8C513.7 579.1 515.0 605.6 515.3 611.8C515.7 617.9 516.4 634.5 516.8 633.0C517.2 631.5 518.6 603.4 519.0 596.8C519.5 590.2 520.7 570.6 521.0 566.8C521.4 563.1 522.4 559.7 522.8 559.3C523.2 559.0 524.8 562.5 525.3 563.1C525.8 563.7 527.2 566.0 527.8 565.6C528.3 565.2 530.2 560.1 530.8 559.3C531.3 558.6 532.8 557.3 533.3 558.1C533.8 558.8 535.3 564.9 535.8 566.8C536.3 568.7 537.8 574.8 538.3 576.8C538.8 578.8 540.3 583.3 540.8 586.8C541.3 590.3 542.8 607.8 543.3 611.8C543.7 615.8 544.8 625.7 545.3 626.7C545.8 627.7 547.6 624.2 548.3 621.7C548.9 619.2 551.2 603.8 551.5 601.8" stroke="#0c0c0c" stroke-width="2.13" fill="none" stroke-linejoin="round"/>
<path d="M388.0 535.6C388.4 535.4 390.9 533.9 391.7 533.1C392.6 532.4 395.9 528.9 396.7 528.1C397.6 527.4 399.6 525.8 400.5 525.6C401.3 525.5 404.6 527.6 405.5 526.9C406.3 526.1 408.5 519.8 409.2 518.1C410.0 516.5 412.2 511.7 413.0 510.7C413.7 509.7 416.0 507.7 416.7 508.2C417.4 508.7 419.7 515.4 420.4 515.6C421.2 515.9 423.4 511.7 424.2 510.7C424.9 509.7 427.2 506.0 427.9 505.7C428.7 505.3 430.9 506.7 431.7 506.9C432.4 507.2 434.7 508.5 435.4 508.2C436.2 507.8 438.4 503.7 439.2 503.2C439.9 502.7 442.2 502.7 442.9 503.2C443.7 503.7 445.9 507.0 446.7 508.2C447.4 509.3 449.7 513.5 450.4 514.4C451.1 515.3 453.4 517.4 454.1 516.9C454.9 516.4 457.1 511.4 457.9 509.4C458.6 507.4 461.1 498.6 461.6 496.9C462.2 495.3 463.0 492.9 463.4 493.2C463.8 493.4 464.9 497.5 465.4 499.4C465.8 501.3 467.4 509.7 467.9 511.9C468.4 514.2 469.7 521.3 470.4 521.9C471.0 522.5 473.4 518.1 474.1 518.1C474.9 518.1 477.1 521.1 477.9 521.9C478.6 522.6 480.9 525.1 481.6 525.6C482.4 526.1 484.5 526.9 485.4 526.9C486.2 526.9 489.3 525.6 490.3 525.6C491.3 525.6 494.3 526.9 495.3 526.9C496.3 526.9 499.3 525.6 500.3 525.6C501.3 525.6 504.3 526.1 505.3 526.9C506.3 527.6 509.4 531.9 510.3 533.1C511.2 534.4 513.3 538.6 514.1 539.4C514.8 540.1 517.1 541.1 517.8 540.6C518.5 540.1 520.8 535.6 521.5 534.4C522.3 533.1 524.5 528.9 525.3 528.1C526.0 527.4 528.3 526.8 529.0 526.9C529.8 527.0 532.0 529.0 532.8 529.4C533.5 529.8 535.7 530.9 536.5 530.6C537.4 530.4 540.5 527.6 541.5 526.9C542.5 526.1 545.5 523.8 546.5 523.1C547.5 522.5 551.0 520.9 551.5 520.6" stroke="#184a1e" stroke-width="1.96" fill="none" stroke-linejoin="round"/>
</g>
</g>
<rect x="388.3" y="451.0" width="163.9" height="348.7" fill="none" stroke="#484848" stroke-width="1.5"/>
<rect x="388.3" y="433.1" width="163.9" height="17.9" fill="#cbcbcb" stroke="#484848" stroke-width="1.5"/>
<text x="470.2" y="445.4" font-size="8.6" text-anchor="middle" fill="#151515" stroke="#151515" stroke-width="0.25">5</text>
<path d="M423.7 799.7v3.2M462.4 799.7v3.2M500.5 799.7v3.2M539.0 799.7v3.2" stroke="#333" stroke-width="1" fill="none"/>
<text transform="translate(448.0 820.4) rotate(-45)" font-size="14.6" text-anchor="end" fill="#161616" stroke="#161616" stroke-width="0.3">jul 2020</text>
<text transform="translate(486.7 820.4) rotate(-45)" font-size="14.6" text-anchor="end" fill="#161616" stroke="#161616" stroke-width="0.3">okt 2020</text>
<text transform="translate(524.8 820.4) rotate(-45)" font-size="14.6" text-anchor="end" fill="#161616" stroke="#161616" stroke-width="0.3">jan 2021</text>
<text transform="translate(563.3 820.4) rotate(-45)" font-size="14.6" text-anchor="end" fill="#161616" stroke="#161616" stroke-width="0.3">apr 2021</text>
<path d="M45.7 547.6H48.7" stroke="#444" stroke-width="1"/>
<text x="43.9" y="551.5" font-size="10.2" text-anchor="end" fill="#333">0</text>
<path d="M45.7 656.0H48.7" stroke="#444" stroke-width="1"/>
<text x="43.9" y="659.9" font-size="10.2" text-anchor="end" fill="#333">-20</text>
<path d="M45.7 764.4H48.7" stroke="#444" stroke-width="1"/>
<text x="43.9" y="768.3" font-size="10.2" text-anchor="end" fill="#333">-40</text>
<path d="M552.2 493.4h3" stroke="#444" stroke-width="1"/>
<text x="556.6" y="497.3" font-size="10.2" fill="#333">80</text>
<path d="M552.2 601.8h3" stroke="#444" stroke-width="1"/>
<text x="556.6" y="605.7" font-size="10.2" fill="#333">60</text>
<path d="M552.2 710.2h3" stroke="#444" stroke-width="1"/>
<text x="556.6" y="714.1" font-size="10.2" fill="#333">40</text>
<text transform="translate(28.2 194.5) rotate(-90)" font-size="10.4" text-anchor="middle" fill="#1a1a1a">Soil Depth (cm)</text>
<text transform="translate(23.4 625.8) rotate(-90)" font-size="11.9" stroke="#1a1a1a" stroke-width="0.2" text-anchor="middle" fill="#1a1a1a">Soil Depth (cm)</text>
<text transform="translate(648.6 194) rotate(90)" font-size="10.5" text-anchor="middle" fill="#1a1a1a">Volumetric water content (%)</text>
<text transform="translate(570.6 625.8) rotate(90)" font-size="11.9" stroke="#1a1a1a" stroke-width="0.2" text-anchor="middle" fill="#1a1a1a">Volumetric water content (%)</text>
<text x="1.6" y="25.6" font-size="27.5" fill="#111">a<tspan dy="-1.6">)</tspan></text>
<text x="2.2" y="439.8" font-size="27.5" fill="#111">b<tspan dy="-1.2">)</tspan></text>
<rect x="627.2" y="477.2" width="20.6" height="117" fill="url(#lgbg)"/>
<rect x="628.4" y="478.3" width="18.2" height="17" fill="#e0a31a"/>
<text x="655" y="492.2" font-size="11.6" fill="#1c1c1c" stroke="#1c1c1c" stroke-width="0.3" textLength="17.6" lengthAdjust="spacingAndGlyphs">500</text>
<rect x="628.4" y="497.8" width="18.2" height="17" fill="#deb02e"/>
<text x="655" y="511.7" font-size="11.6" fill="#1c1c1c" stroke="#1c1c1c" stroke-width="0.3" textLength="17.6" lengthAdjust="spacingAndGlyphs">400</text>
<rect x="628.4" y="517.3" width="18.2" height="17" fill="#a5a84e"/>
<text x="655" y="531.2" font-size="11.6" fill="#1c1c1c" stroke="#1c1c1c" stroke-width="0.3" textLength="17.6" lengthAdjust="spacingAndGlyphs">300</text>
<rect x="628.4" y="536.8" width="18.2" height="17" fill="#62a08c"/>
<text x="655" y="550.7" font-size="11.6" fill="#1c1c1c" stroke="#1c1c1c" stroke-width="0.3" textLength="17.6" lengthAdjust="spacingAndGlyphs">200</text>
<rect x="628.4" y="556.3" width="18.2" height="17" fill="#3e92b0"/>
<text x="655" y="570.2" font-size="11.6" fill="#1c1c1c" stroke="#1c1c1c" stroke-width="0.3" textLength="17.6" lengthAdjust="spacingAndGlyphs">100</text>
<rect x="628.4" y="575.8" width="18.2" height="17" fill="#2f87a8"/>
<text x="655" y="589.7" font-size="11.6" fill="#1c1c1c" stroke="#1c1c1c" stroke-width="0.3" textLength="5.8" lengthAdjust="spacingAndGlyphs">0</text>
<text x="642.6" y="460.8" font-size="12.4" font-weight="bold" fill="#111">E<tspan font-size="8.6" dy="3.4">h</tspan></text>
<path d="M626.2 625H656.4" stroke="#1c2a8c" stroke-width="3"/>
<text x="643.2" y="648.8" font-size="11.3" text-anchor="middle" fill="#111" stroke="#111" stroke-width="0.2">VWC (%)</text>
<path d="M626.2 663H656.4" stroke="#0a0a0a" stroke-width="3"/>
<text x="645.6" y="685.6" font-size="11.6" text-anchor="middle" fill="#111" stroke="#111" stroke-width="0.2">WTD (cm)</text>
<path d="M626.2 697H655.6" stroke="#3c5e2a" stroke-width="3"/>
<text x="642" y="716.6" font-size="11.4" text-anchor="middle" fill="#111" stroke="#111" stroke-width="0.2">CH<tspan font-size="7.6" dy="2.4">4</tspan></text>
<g fill="#1c1c1c" font-family="&quot;Liberation Serif&quot;, &quot;DejaVu Serif&quot;, serif" stroke="#1c1c1c" stroke-width="0.15"><text x="610.2" y="733.6" font-size="11.5">(</text><text x="620.9" y="726.4" font-size="6.2" text-anchor="middle" font-weight="bold">1</text><path d="M614.3 728.4H627.8" stroke="#1c1c1c" stroke-width="0.7"/><text x="621.1" y="736.9" font-size="6.2" text-anchor="middle" font-weight="bold" textLength="12" lengthAdjust="spacingAndGlyphs">100</text><text x="629.4" y="732.2" font-size="10.2" textLength="10.6" lengthAdjust="spacingAndGlyphs">µg</text><text x="642.4" y="732.2" font-size="10.5" font-style="italic" textLength="9.2" lengthAdjust="spacingAndGlyphs">m</text><text x="652.6" y="728.7" font-size="6.4" font-weight="bold" textLength="7.2" lengthAdjust="spacingAndGlyphs">−2</text><text x="661.4" y="732.2" font-size="11" font-style="italic">h</text><text x="668" y="728.7" font-size="6.4" font-weight="bold" textLength="7.6" lengthAdjust="spacingAndGlyphs">−1</text><text x="677.2" y="733.6" font-size="11.5">)</text></g>
</svg>
</body></html>
